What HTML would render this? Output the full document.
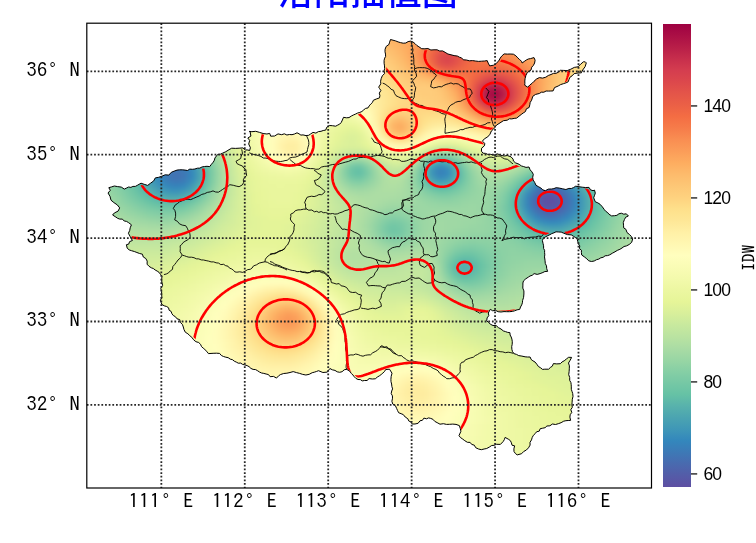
<!DOCTYPE html>
<html><head><meta charset="utf-8"><style>
html,body{margin:0;padding:0;background:#fff;width:756px;height:543px;overflow:hidden;position:relative}
#title{position:absolute;left:0;width:735.6px;text-align:center;top:-25.3px;font:36px "Liberation Sans","Noto Sans CJK SC",sans-serif;color:#0000ff;white-space:nowrap;line-height:1;font-weight:500}
#fld{position:absolute;left:96px;top:28px;width:550px;height:438px;clip-path:polygon(12.8px 159.7px,15.5px 158.9px,18.4px 158.0px,21.6px 158.6px,25.3px 159.1px,28.3px 161.1px,30.4px 160.1px,32.6px 159.0px,34.9px 159.4px,36.9px 158.4px,39.3px 158.4px,41.2px 157.4px,45.0px 155.2px,48.2px 156.3px,51.7px 157.4px,54.4px 155.3px,57.7px 152.9px,59.3px 149.9px,62.7px 149.3px,65.9px 148.2px,69.2px 146.8px,72.8px 147.1px,75.3px 144.3px,78.0px 143.2px,81.0px 142.1px,83.7px 141.8px,86.3px 141.8px,89.0px 142.1px,91.5px 142.5px,93.8px 141.1px,96.4px 141.3px,98.9px 141.0px,101.3px 140.2px,103.8px 140.1px,106.1px 138.9px,108.5px 138.5px,111.0px 138.3px,113.7px 138.6px,115.4px 136.3px,117.2px 134.2px,118.4px 132.2px,118.9px 130.0px,121.7px 126.4px,124.3px 126.2px,126.5px 125.2px,129.8px 123.7px,133.0px 121.7px,135.7px 120.2px,139.4px 120.4px,143.1px 120.2px,146.9px 119.9px,149.2px 121.9px,151.9px 122.0px,153.6px 122.6px,154.4px 119.7px,152.7px 116.0px,153.7px 112.4px,151.8px 110.0px,154.9px 108.1px,154.1px 103.8px,153.3px 103.4px,155.9px 103.7px,159.7px 103.3px,163.3px 104.3px,167.1px 105.5px,170.9px 106.0px,173.7px 105.4px,174.7px 108.2px,178.6px 108.0px,182.0px 105.9px,185.7px 106.7px,188.3px 105.8px,190.9px 107.0px,193.4px 106.5px,196.0px 106.7px,198.5px 106.0px,201.0px 104.8px,203.0px 105.8px,204.9px 107.1px,207.0px 106.9px,210.0px 107.6px,212.7px 107.3px,214.7px 105.9px,217.0px 104.4px,219.9px 105.1px,222.4px 103.6px,225.0px 103.3px,227.2px 102.5px,229.7px 102.1px,230.8px 99.2px,233.3px 97.5px,236.4px 97.7px,239.7px 98.2px,241.7px 97.1px,243.7px 96.1px,245.2px 94.5px,246.4px 92.0px,247.5px 89.3px,250.3px 89.8px,253.0px 89.6px,255.4px 88.0px,257.4px 87.0px,259.5px 86.1px,261.5px 85.1px,263.8px 84.4px,265.9px 83.5px,267.7px 81.9px,269.6px 80.4px,272.0px 79.9px,273.2px 77.9px,274.7px 76.1px,276.5px 74.4px,277.3px 72.3px,280.3px 71.0px,283.5px 69.9px,283.9px 67.6px,283.3px 65.1px,284.9px 62.5px,283.6px 60.6px,282.7px 59.1px,284.8px 55.8px,284.6px 53.2px,285.2px 50.6px,286.3px 47.8px,288.5px 45.6px,288.1px 42.9px,288.6px 40.6px,288.5px 37.9px,288.1px 35.2px,288.1px 32.3px,288.7px 30.1px,289.6px 28.5px,289.5px 26.1px,289.0px 23.8px,289.1px 21.2px,290.2px 18.4px,292.9px 16.5px,293.6px 14.2px,294.5px 11.5px,297.0px 12.2px,299.6px 12.9px,302.1px 13.9px,304.4px 14.6px,307.2px 15.2px,309.8px 15.0px,312.1px 13.6px,314.7px 13.1px,317.1px 14.1px,319.1px 15.7px,320.9px 17.5px,322.9px 18.8px,325.7px 20.7px,328.9px 20.8px,331.9px 20.5px,334.9px 22.0px,338.0px 21.8px,341.1px 21.8px,343.7px 23.0px,346.6px 22.9px,349.1px 24.3px,351.9px 26.0px,355.0px 26.8px,358.1px 27.6px,361.5px 28.1px,363.4px 29.2px,365.6px 29.9px,367.3px 31.8px,370.4px 32.0px,373.4px 32.8px,376.5px 32.6px,379.4px 33.0px,382.6px 33.4px,385.6px 33.2px,388.6px 33.0px,391.2px 32.6px,392.2px 35.1px,393.7px 37.9px,397.5px 37.2px,399.9px 35.8px,401.7px 33.9px,403.2px 32.1px,404.2px 30.1px,405.7px 28.1px,408.1px 25.9px,411.3px 26.1px,414.1px 26.0px,417.4px 26.2px,419.9px 27.8px,421.8px 29.9px,423.7px 31.7px,425.6px 33.3px,426.1px 35.0px,428.2px 33.5px,430.3px 32.0px,432.3px 31.0px,434.5px 30.6px,438.0px 29.6px,439.1px 32.2px,438.6px 35.0px,437.4px 37.4px,435.7px 39.2px,435.0px 42.0px,431.3px 44.5px,429.9px 47.4px,429.1px 50.6px,428.8px 53.0px,428.9px 55.4px,428.7px 57.2px,431.7px 59.2px,433.8px 57.0px,436.2px 55.2px,438.0px 53.3px,440.4px 51.1px,443.3px 49.6px,446.6px 50.1px,449.8px 49.2px,452.3px 47.5px,455.0px 46.5px,457.4px 45.4px,460.1px 45.3px,462.4px 44.2px,464.4px 42.3px,467.3px 42.4px,471.2px 42.6px,474.8px 41.2px,478.3px 39.4px,482.1px 38.8px,484.5px 36.3px,487.4px 33.8px,489.3px 33.9px,490.3px 34.9px,489.1px 38.7px,486.7px 42.0px,485.4px 44.8px,482.0px 45.0px,478.2px 45.6px,476.0px 47.9px,473.8px 49.4px,473.0px 51.5px,472.2px 53.8px,470.1px 54.8px,467.4px 55.7px,464.6px 56.6px,462.2px 58.0px,458.5px 59.6px,457.1px 62.9px,454.8px 63.0px,452.5px 63.1px,450.1px 63.0px,447.9px 64.2px,445.4px 64.2px,443.3px 65.5px,439.6px 66.4px,436.8px 68.3px,435.6px 72.2px,434.2px 74.4px,433.8px 76.8px,433.1px 79.5px,430.4px 80.8px,429.4px 83.6px,427.2px 85.0px,425.2px 86.5px,423.0px 88.2px,420.7px 90.1px,418.2px 90.4px,415.8px 90.9px,413.3px 90.8px,411.2px 92.2px,407.4px 92.7px,404.0px 94.9px,400.5px 97.1px,398.7px 99.7px,397.2px 101.4px,395.4px 102.9px,394.0px 106.2px,391.7px 108.9px,388.4px 110.8px,386.4px 113.2px,388.9px 115.5px,388.3px 117.9px,385.6px 120.2px,385.4px 123.2px,387.1px 125.2px,389.5px 125.4px,391.8px 126.4px,394.3px 126.3px,396.7px 126.9px,399.0px 127.0px,401.4px 125.9px,403.8px 126.7px,406.0px 127.6px,408.5px 128.0px,411.2px 127.5px,415.0px 128.8px,417.1px 131.1px,417.4px 133.0px,419.6px 134.9px,423.2px 136.3px,425.3px 137.9px,427.7px 138.6px,430.0px 139.4px,433.0px 139.0px,434.1px 141.8px,435.9px 143.8px,437.3px 146.3px,436.7px 149.3px,437.1px 152.0px,438.6px 154.3px,440.0px 157.3px,442.8px 158.9px,444.9px 160.0px,446.7px 161.8px,449.3px 162.7px,452.4px 161.1px,455.7px 161.0px,457.9px 160.6px,460.1px 159.7px,463.4px 160.1px,466.6px 160.8px,469.9px 161.5px,472.9px 160.4px,475.3px 160.5px,477.5px 159.6px,479.7px 158.2px,483.0px 158.7px,486.2px 159.2px,489.4px 159.5px,493.0px 159.4px,494.5px 161.8px,497.0px 162.7px,498.5px 162.1px,499.3px 165.1px,498.4px 167.8px,497.7px 169.8px,499.3px 173.8px,501.9px 174.9px,504.1px 176.3px,506.3px 178.8px,508.2px 181.4px,509.6px 183.2px,511.7px 184.6px,512.9px 186.2px,515.6px 187.9px,518.6px 187.7px,520.9px 187.3px,522.9px 185.8px,525.3px 185.2px,527.8px 186.2px,530.3px 185.8px,532.4px 188.0px,529.7px 189.2px,528.4px 191.6px,527.3px 194.5px,527.5px 197.2px,527.7px 199.9px,529.9px 201.3px,531.0px 204.5px,533.6px 206.6px,535.4px 208.5px,536.7px 210.8px,535.7px 214.3px,533.2px 216.5px,530.5px 217.9px,528.0px 218.5px,526.0px 220.0px,523.9px 221.3px,521.3px 222.4px,519.0px 223.8px,516.4px 225.2px,513.8px 226.8px,511.6px 227.6px,509.1px 227.8px,507.1px 229.3px,504.8px 229.8px,502.8px 231.1px,500.5px 231.7px,498.2px 233.0px,495.4px 233.5px,492.7px 232.8px,490.8px 230.8px,488.4px 228.9px,485.7px 227.0px,485.4px 224.6px,485.4px 222.2px,483.4px 220.5px,483.8px 217.9px,482.4px 215.9px,481.8px 213.7px,481.2px 211.3px,479.6px 209.6px,477.5px 208.3px,475.3px 206.9px,471.4px 206.6px,467.7px 205.2px,465.2px 204.1px,462.7px 204.0px,460.0px 203.8px,458.0px 204.8px,455.8px 205.6px,453.9px 206.7px,451.7px 207.7px,449.8px 208.7px,447.3px 210.3px,446.4px 212.6px,447.0px 215.3px,447.6px 217.8px,447.6px 220.5px,448.6px 222.3px,448.6px 224.6px,448.8px 226.9px,448.5px 228.9px,449.0px 232.2px,449.3px 235.5px,450.5px 237.9px,450.7px 240.5px,451.6px 243.4px,448.9px 243.5px,446.9px 244.5px,444.1px 245.6px,441.2px 246.4px,438.1px 245.6px,436.2px 247.3px,434.0px 248.0px,432.4px 249.1px,429.8px 250.8px,427.5px 252.9px,426.9px 255.0px,426.9px 257.1px,426.8px 260.1px,427.9px 262.9px,427.9px 266.0px,427.6px 269.3px,426.6px 272.5px,426.4px 274.8px,425.7px 276.9px,424.5px 279.0px,423.7px 281.4px,421.1px 281.8px,418.7px 282.8px,416.4px 283.4px,413.6px 283.7px,410.7px 283.7px,408.0px 283.6px,405.0px 284.0px,402.1px 283.7px,399.4px 282.3px,396.7px 282.8px,394.3px 281.3px,392.3px 285.0px,392.8px 287.6px,391.1px 289.9px,390.7px 292.9px,392.7px 294.3px,394.3px 296.2px,397.0px 297.5px,400.2px 297.6px,402.4px 299.6px,405.0px 301.0px,407.3px 302.9px,409.5px 303.6px,411.7px 304.4px,413.9px 304.6px,414.1px 307.0px,415.2px 309.0px,415.9px 311.1px,416.3px 313.7px,416.2px 316.3px,415.7px 318.6px,415.9px 321.4px,416.5px 323.6px,418.1px 325.7px,420.5px 326.4px,422.7px 327.6px,425.9px 328.1px,429.1px 328.8px,431.4px 329.0px,434.1px 329.0px,435.1px 331.4px,436.9px 332.8px,439.0px 334.0px,440.8px 336.2px,442.4px 338.5px,444.6px 339.8px,446.5px 341.4px,448.8px 341.2px,452.6px 341.2px,454.3px 339.5px,456.3px 338.2px,457.4px 335.6px,460.8px 335.9px,464.3px 335.7px,466.1px 333.9px,468.2px 332.8px,470.5px 330.9px,472.6px 329.3px,475.6px 329.4px,474.2px 332.2px,472.5px 335.0px,473.4px 337.9px,473.3px 340.8px,473.1px 343.7px,472.7px 346.6px,473.7px 349.5px,473.7px 352.4px,474.9px 354.5px,475.2px 356.7px,475.3px 358.9px,475.3px 361.3px,476.0px 363.4px,476.7px 365.5px,477.0px 368.4px,476.3px 371.3px,476.1px 374.2px,475.9px 376.7px,476.3px 379.3px,474.8px 381.7px,475.8px 384.4px,474.2px 386.7px,473.9px 389.1px,474.6px 392.4px,472.2px 392.5px,469.9px 392.7px,467.7px 393.2px,465.1px 394.7px,462.3px 395.7px,459.5px 396.5px,456.4px 396.0px,453.9px 397.8px,450.9px 398.0px,449.1px 399.7px,446.7px 400.2px,444.2px 400.7px,443.2px 403.2px,440.7px 403.7px,439.3px 405.5px,437.4px 407.3px,436.2px 409.5px,435.5px 411.9px,434.0px 414.3px,434.1px 417.1px,432.5px 419.8px,430.4px 422.0px,427.7px 423.5px,425.6px 425.7px,421.2px 426.9px,419.4px 425.5px,418.0px 423.5px,417.9px 420.9px,418.6px 417.8px,416.0px 417.2px,415.4px 414.8px,414.4px 412.7px,412.7px 411.4px,409.1px 409.4px,408.3px 411.7px,407.2px 413.5px,404.4px 416.4px,400.3px 416.3px,398.2px 417.3px,395.7px 417.5px,393.3px 419.1px,390.7px 420.5px,388.1px 421.0px,385.3px 421.7px,382.5px 421.0px,379.7px 419.7px,378.3px 417.2px,375.7px 416.4px,374.1px 414.4px,371.4px 414.3px,368.8px 412.7px,366.3px 410.8px,364.4px 409.5px,363.0px 407.6px,364.9px 403.3px,364.3px 400.6px,363.4px 397.6px,360.0px 396.4px,356.8px 396.1px,353.7px 396.3px,350.5px 396.4px,347.4px 395.7px,344.0px 396.2px,341.1px 394.6px,338.8px 393.4px,336.9px 391.3px,334.7px 390.4px,332.6px 389.9px,330.5px 390.8px,327.9px 390.1px,326.4px 392.3px,324.0px 392.8px,322.1px 395.3px,319.0px 396.0px,316.1px 396.0px,315.0px 394.0px,312.7px 392.9px,311.8px 390.7px,309.2px 389.0px,307.3px 386.6px,305.1px 385.7px,302.6px 384.7px,301.6px 382.6px,300.7px 380.6px,299.4px 377.7px,296.8px 376.1px,295.9px 373.3px,296.5px 370.2px,296.4px 367.8px,295.2px 365.6px,295.7px 363.0px,296.6px 360.9px,295.9px 358.6px,295.6px 356.0px,295.0px 353.7px,294.9px 351.3px,295.2px 348.3px,296.0px 345.2px,293.5px 341.2px,289.7px 341.5px,288.5px 343.5px,286.9px 345.0px,285.2px 346.5px,283.3px 347.9px,281.3px 349.1px,279.3px 350.8px,276.3px 351.0px,273.1px 350.6px,271.0px 352.5px,268.5px 352.5px,266.2px 352.9px,264.4px 351.6px,262.0px 351.5px,259.9px 350.4px,258.3px 348.8px,256.9px 347.0px,255.3px 345.4px,253.5px 343.0px,250.6px 341.3px,248.2px 341.8px,246.1px 343.7px,243.7px 344.3px,241.2px 343.8px,239.0px 342.4px,236.3px 341.8px,233.9px 340.5px,231.3px 344.1px,226.9px 344.5px,222.5px 342.7px,220.4px 343.5px,218.3px 344.2px,216.2px 344.7px,213.2px 346.3px,209.9px 347.0px,206.7px 346.4px,203.6px 345.4px,200.5px 344.6px,197.2px 343.6px,194.0px 344.5px,190.9px 345.2px,187.7px 345.5px,184.6px 346.5px,182.6px 347.8px,180.5px 350.1px,177.5px 348.4px,174.1px 348.7px,172.5px 346.6px,170.1px 346.0px,167.8px 345.4px,165.6px 345.0px,163.6px 344.1px,161.7px 342.8px,159.6px 341.6px,157.1px 341.4px,154.9px 340.4px,153.1px 338.7px,151.1px 337.6px,148.8px 336.9px,146.6px 336.4px,144.7px 335.1px,142.3px 335.2px,140.3px 334.1px,138.3px 333.2px,136.5px 331.7px,134.2px 331.1px,132.2px 329.7px,129.8px 329.2px,127.5px 328.5px,125.4px 327.5px,123.6px 325.4px,120.4px 325.2px,117.1px 325.3px,112.4px 325.6px,110.8px 323.4px,108.9px 321.6px,107.2px 320.1px,105.5px 318.6px,104.6px 316.4px,102.7px 314.5px,99.9px 313.7px,97.6px 311.8px,95.8px 309.3px,93.8px 307.7px,91.9px 305.8px,89.3px 304.2px,88.0px 301.6px,87.3px 299.0px,86.4px 296.4px,84.5px 294.6px,83.7px 291.6px,81.0px 290.8px,79.4px 288.7px,77.3px 287.5px,75.9px 285.7px,75.1px 283.4px,73.1px 282.2px,72.6px 279.8px,70.6px 278.5px,68.2px 277.8px,65.9px 276.5px,65.1px 274.3px,64.4px 272.2px,65.9px 269.7px,65.7px 266.9px,65.6px 263.7px,64.8px 260.4px,66.6px 257.4px,65.8px 254.0px,65.7px 250.8px,66.0px 248.2px,64.5px 246.4px,63.1px 244.4px,61.2px 243.1px,59.2px 242.0px,57.3px 240.5px,55.3px 239.8px,53.0px 238.3px,51.1px 236.2px,51.2px 233.1px,49.8px 230.5px,47.3px 229.0px,46.4px 226.2px,43.6px 225.5px,40.9px 224.5px,38.3px 223.5px,35.5px 222.7px,33.2px 221.9px,31.2px 220.2px,30.4px 216.7px,32.7px 216.1px,33.6px 213.6px,36.4px 212.5px,34.3px 208.8px,32.4px 205.3px,33.7px 202.5px,34.2px 199.8px,35.4px 196.8px,32.5px 194.6px,30.5px 193.4px,28.2px 193.0px,26.4px 191.1px,23.8px 191.1px,21.6px 190.3px,19.9px 189.1px,16.6px 187.0px,18.3px 185.0px,22.1px 183.1px,23.7px 179.9px,21.3px 176.9px,17.9px 174.6px,15.0px 172.2px,14.0px 168.3px,12.0px 165.0px,14.3px 162.3px)}
#fin{position:absolute;left:0;top:0;width:100%;height:100%;filter:blur(2px)}
#fin i{position:absolute;left:0;width:100%;height:5px;display:block}
svg{position:absolute;left:0;top:0}
.tk{position:absolute;font:20.5px "IPAGothic",sans-serif;letter-spacing:0.35px;color:#000;line-height:1;white-space:nowrap}
.cbl{position:absolute;font:17.5px "Liberation Sans",sans-serif;letter-spacing:-0.8px;color:#000;line-height:1;white-space:nowrap}
#cb{position:absolute;left:662.9px;top:23.6px;width:27.800000000000068px;height:463.2px;background:linear-gradient(180deg,#9e0142 0.0%,#ab0f45 2.5%,#b81e48 5.0%,#c72e4c 7.5%,#d43d4f 10.0%,#dc484c 12.5%,#e45549 15.0%,#eb6046 17.5%,#f46d43 20.0%,#f67c4a 22.5%,#f98e52 25.0%,#fb9d59 27.5%,#fdad60 30.0%,#fdbb6c 32.5%,#fdc776 35.0%,#fed27f 37.5%,#fee08b 40.0%,#fee797 42.5%,#fff0a6 45.0%,#fff7b2 47.5%,#fffebe 50.0%,#f9fcb5 52.5%,#f3faac 55.0%,#ecf7a1 57.5%,#e6f598 60.0%,#d8ef9b 62.5%,#c8e99e 65.0%,#bae3a1 67.5%,#aadca4 70.0%,#99d6a4 72.5%,#86cfa5 75.0%,#76c8a5 77.5%,#66c2a5 80.0%,#58b2ac 82.5%,#4ba4b1 85.0%,#3f97b7 87.5%,#3387bc 90.0%,#3d79b6 92.5%,#496aaf 95.0%,#545ca8 97.5%,#5e4fa2 100.0%)}
#idw{position:absolute;left:739.6px;top:271px;font:17.5px "IPAGothic",sans-serif;transform:rotate(-90deg);transform-origin:0 0;line-height:1;white-space:nowrap}
</style></head><body>
<div id="title">洛阳插值图</div>
<div id="fld"><div id="fin"><i style="top:0px;background:linear-gradient(90deg,#ebf7a0 0px,#ebf7a0 8px,#ecf7a1 16px,#ecf7a1 24px,#ecf7a1 32px,#edf8a3 40px,#eef8a4 48px,#eef8a4 56px,#eff9a6 64px,#f0f9a7 72px,#f1f9a9 80px,#f2faaa 88px,#f3faac 96px,#f4faad 104px,#f5fbaf 112px,#f6fbb0 120px,#f8fcb4 128px,#f9fcb5 136px,#fbfdb8 144px,#fcfeba 152px,#fefebd 160px,#fffebe 168px,#fffcba 176px,#fffab6 184px,#fff7b2 192px,#fff5ae 200px,#fff1a8 208px,#feeda1 216px,#feea9b 224px,#fee593 232px,#fee18d 240px,#fed884 248px,#fed07e 256px,#fdc776 264px,#fdbd6d 272px,#fdb365 280px,#fcaa5f 288px,#fca55d 296px,#fca55d 304px,#fca55d 312px,#fca55d 320px,#fba05b 328px,#fa9b58 336px,#f99355 344px,#f98e52 352px,#f98e52 360px,#f99153 368px,#fa9656 376px,#fb9d59 384px,#fba35c 392px,#fca85e 400px,#fdaf62 408px,#fdb365 416px,#fdb96a 424px,#fdbd6d 432px,#fdc372 440px,#fec877 448px,#fecc7b 456px,#fed27f 464px,#fed884 472px,#fede89 480px,#fee18d 488px,#fee593 496px,#fee797 504px,#feea9b 512px,#feec9f 520px,#feefa3 528px,#fff1a8 536px,#fff3ac 544px,#fff5ae 552px)"></i><i style="top:4px;background:linear-gradient(90deg,#eaf79e 0px,#ebf7a0 8px,#ebf7a0 16px,#ebf7a0 24px,#ecf7a1 32px,#ecf7a1 40px,#edf8a3 48px,#eef8a4 56px,#eef8a4 64px,#eff9a6 72px,#f0f9a7 80px,#f1f9a9 88px,#f2faaa 96px,#f3faac 104px,#f5fbaf 112px,#f6fbb0 120px,#f7fcb2 128px,#f9fcb5 136px,#fafdb7 144px,#fcfeba 152px,#fdfebb 160px,#ffffbe 168px,#fffdbc 176px,#fffbb8 184px,#fff8b4 192px,#fff6b0 200px,#fff2aa 208px,#feefa3 216px,#feeb9d 224px,#fee797 232px,#fee28f 240px,#fedc88 248px,#fed27f 256px,#fec877 264px,#fdbf6f 272px,#fdb768 280px,#fdaf62 288px,#fcaa5f 296px,#fca85e 304px,#fca85e 312px,#fca55d 320px,#fb9d59 328px,#f99355 336px,#f88950 344px,#f7844e 352px,#f7844e 360px,#f88950 368px,#f99153 376px,#fa9656 384px,#fb9d59 392px,#fba35c 400px,#fcaa5f 408px,#fdaf62 416px,#fdb567 424px,#fdbb6c 432px,#fdc171 440px,#fdc574 448px,#feca79 456px,#fed07e 464px,#fed683 472px,#fedc88 480px,#fee18d 488px,#fee593 496px,#fee797 504px,#feea9b 512px,#feec9f 520px,#feefa3 528px,#fff1a8 536px,#fff3ac 544px,#fff6b0 552px)"></i><i style="top:8px;background:linear-gradient(90deg,#eaf79e 0px,#eaf79e 8px,#eaf79e 16px,#ebf7a0 24px,#ebf7a0 32px,#ecf7a1 40px,#ecf7a1 48px,#edf8a3 56px,#eef8a4 64px,#eef8a4 72px,#eff9a6 80px,#f0f9a7 88px,#f1f9a9 96px,#f3faac 104px,#f4faad 112px,#f5fbaf 120px,#f6fbb0 128px,#f8fcb4 136px,#f9fcb5 144px,#fbfdb8 152px,#fdfebb 160px,#fefebd 168px,#fffebe 176px,#fffcba 184px,#fffab6 192px,#fff6b0 200px,#fff3ac 208px,#fff0a6 216px,#feec9f 224px,#fee999 232px,#fee491 240px,#fede89 248px,#fed683 256px,#fecc7b 264px,#fdc574 272px,#fdbb6c 280px,#fdb567 288px,#fdb163 296px,#fdad60 304px,#fcaa5f 312px,#fba35c 320px,#fa9857 328px,#f88950 336px,#f67f4b 344px,#f57748 352px,#f67a49 360px,#f67f4b 368px,#f88950 376px,#f99153 384px,#fa9857 392px,#fb9d59 400px,#fca55d 408px,#fdad60 416px,#fdb163 424px,#fdb768 432px,#fdbd6d 440px,#fdc372 448px,#feca79 456px,#fed07e 464px,#fed683 472px,#fedc88 480px,#fee18d 488px,#fee491 496px,#fee797 504px,#feea9b 512px,#feeda1 520px,#fff0a6 528px,#fff2aa 536px,#fff3ac 544px,#fff6b0 552px)"></i><i style="top:12px;background:linear-gradient(90deg,#e9f69d 0px,#e9f69d 8px,#e9f69d 16px,#eaf79e 24px,#eaf79e 32px,#ebf7a0 40px,#ebf7a0 48px,#ecf7a1 56px,#edf8a3 64px,#eef8a4 72px,#eff9a6 80px,#f0f9a7 88px,#f1f9a9 96px,#f2faaa 104px,#f3faac 112px,#f4faad 120px,#f6fbb0 128px,#f7fcb2 136px,#f9fcb5 144px,#fafdb7 152px,#fcfeba 160px,#fefebd 168px,#ffffbe 176px,#fffdbc 184px,#fffbb8 192px,#fff7b2 200px,#fff5ae 208px,#fff1a8 216px,#feeda1 224px,#feea9b 232px,#fee695 240px,#fee18d 248px,#feda86 256px,#fed07e 264px,#fec877 272px,#fdc171 280px,#fdbb6c 288px,#fdb567 296px,#fdb163 304px,#fcaa5f 312px,#fba05b 320px,#f99153 328px,#f67f4b 336px,#f47044 344px,#f36b43 352px,#f46d43 360px,#f57547 368px,#f7814c 376px,#f88c51 384px,#f99355 392px,#fa9857 400px,#fba05b 408px,#fca85e 416px,#fdaf62 424px,#fdb567 432px,#fdbb6c 440px,#fdc171 448px,#fec877 456px,#fece7c 464px,#fed481 472px,#fedc88 480px,#fee18d 488px,#fee593 496px,#fee797 504px,#feeb9d 512px,#feeda1 520px,#fff0a6 528px,#fff2aa 536px,#fff5ae 544px,#fff7b2 552px)"></i><i style="top:16px;background:linear-gradient(90deg,#e8f69b 0px,#e8f69b 8px,#e9f69d 16px,#e9f69d 24px,#e9f69d 32px,#eaf79e 40px,#eaf79e 48px,#ebf7a0 56px,#ecf7a1 64px,#edf8a3 72px,#eef8a4 80px,#eff9a6 88px,#f0f9a7 96px,#f1f9a9 104px,#f2faaa 112px,#f4faad 120px,#f5fbaf 128px,#f7fcb2 136px,#f8fcb4 144px,#fafdb7 152px,#fbfdb8 160px,#fdfebb 168px,#ffffbe 176px,#fffebe 184px,#fffcba 192px,#fff8b4 200px,#fff6b0 208px,#fff2aa 216px,#fff0a6 224px,#feec9f 232px,#fee797 240px,#fee28f 248px,#fedc88 256px,#fed481 264px,#fecc7b 272px,#fdc574 280px,#fdbf6f 288px,#fdb96a 296px,#fdb365 304px,#fcaa5f 312px,#fb9d59 320px,#f88950 328px,#f57547 336px,#ef6645 344px,#eb6046 352px,#ee6445 360px,#f46d43 368px,#f67a49 376px,#f7844e 384px,#f98e52 392px,#f99355 400px,#fa9b58 408px,#fba35c 416px,#fcaa5f 424px,#fdb163 432px,#fdb768 440px,#fdbf6f 448px,#fdc776 456px,#fece7c 464px,#fed481 472px,#feda86 480px,#fee18d 488px,#fee593 496px,#fee797 504px,#feeb9d 512px,#feeda1 520px,#fff0a6 528px,#fff2aa 536px,#fff5ae 544px,#fff7b2 552px)"></i><i style="top:20px;background:linear-gradient(90deg,#e8f69b 0px,#e8f69b 8px,#e8f69b 16px,#e8f69b 24px,#e9f69d 32px,#e9f69d 40px,#eaf79e 48px,#eaf79e 56px,#ebf7a0 64px,#ecf7a1 72px,#edf8a3 80px,#eef8a4 88px,#eff9a6 96px,#f0f9a7 104px,#f2faaa 112px,#f3faac 120px,#f4faad 128px,#f6fbb0 136px,#f7fcb2 144px,#f9fcb5 152px,#fafdb7 160px,#fcfeba 168px,#fefebd 176px,#fffebe 184px,#fffcba 192px,#fffab6 200px,#fff7b2 208px,#fff5ae 216px,#fff1a8 224px,#feeda1 232px,#feea9b 240px,#fee593 248px,#fee08b 256px,#feda86 264px,#fed27f 272px,#feca79 280px,#fdc372 288px,#fdbd6d 296px,#fdb567 304px,#fdad60 312px,#fa9b58 320px,#f7844e 328px,#f36b43 336px,#e85b48 344px,#e45549 352px,#e85b48 360px,#ef6645 368px,#f57547 376px,#f67f4b 384px,#f88950 392px,#f98e52 400px,#fa9656 408px,#fa9b58 416px,#fba35c 424px,#fdad60 432px,#fdb567 440px,#fdbd6d 448px,#fdc574 456px,#fecc7b 464px,#fed481 472px,#feda86 480px,#fee18d 488px,#fee593 496px,#fee999 504px,#feeb9d 512px,#feefa3 520px,#fff1a8 528px,#fff3ac 536px,#fff6b0 544px,#fff8b4 552px)"></i><i style="top:24px;background:linear-gradient(90deg,#e7f59a 0px,#e7f59a 8px,#e7f59a 16px,#e7f59a 24px,#e8f69b 32px,#e8f69b 40px,#e9f69d 48px,#e9f69d 56px,#eaf79e 64px,#ebf7a0 72px,#ecf7a1 80px,#edf8a3 88px,#eef8a4 96px,#eff9a6 104px,#f1f9a9 112px,#f2faaa 120px,#f4faad 128px,#f5fbaf 136px,#f7fcb2 144px,#f8fcb4 152px,#fafdb7 160px,#fbfdb8 168px,#fdfebb 176px,#ffffbe 184px,#fffdbc 192px,#fffbb8 200px,#fff8b4 208px,#fff6b0 216px,#fff2aa 224px,#feefa3 232px,#feeb9d 240px,#fee797 248px,#fee28f 256px,#fede89 264px,#fed683 272px,#fece7c 280px,#fec877 288px,#fdc171 296px,#fdb96a 304px,#fdad60 312px,#fa9b58 320px,#f7814c 328px,#ef6645 336px,#e2514a 344px,#dd4a4c 352px,#e3534a 360px,#ed6246 368px,#f47044 376px,#f67c4a 384px,#f7844e 392px,#f88950 400px,#f98e52 408px,#fa9656 416px,#fb9d59 424px,#fca85e 432px,#fdb163 440px,#fdbb6c 448px,#fdc372 456px,#feca79 464px,#fed27f 472px,#feda86 480px,#fee18d 488px,#fee593 496px,#fee999 504px,#feec9f 512px,#feefa3 520px,#fff1a8 528px,#fff5ae 536px,#fff6b0 544px,#fff8b4 552px)"></i><i style="top:28px;background:linear-gradient(90deg,#e6f598 0px,#e6f598 8px,#e6f598 16px,#e6f598 24px,#e7f59a 32px,#e7f59a 40px,#e8f69b 48px,#e8f69b 56px,#e9f69d 64px,#eaf79e 72px,#ebf7a0 80px,#ecf7a1 88px,#edf8a3 96px,#eff9a6 104px,#f0f9a7 112px,#f1f9a9 120px,#f3faac 128px,#f4faad 136px,#f6fbb0 144px,#f7fcb2 152px,#f9fcb5 160px,#fafdb7 168px,#fcfeba 176px,#fefebd 184px,#fffebe 192px,#fffdbc 200px,#fffab6 208px,#fff7b2 216px,#fff5ae 224px,#fff1a8 232px,#feeda1 240px,#feea9b 248px,#fee593 256px,#fee18d 264px,#feda86 272px,#fed27f 280px,#fecc7b 288px,#fdc574 296px,#fdbb6c 304px,#fdb163 312px,#fb9d59 320px,#f7814c 328px,#ee6445 336px,#de4c4b 344px,#d9444d 352px,#e1504b 360px,#eb6046 368px,#f46d43 376px,#f57748 384px,#f67c4a 392px,#f7814c 400px,#f8864f 408px,#f98e52 416px,#fa9656 424px,#fba35c 432px,#fdaf62 440px,#fdb96a 448px,#fdc171 456px,#feca79 464px,#fed27f 472px,#feda86 480px,#fee18d 488px,#fee593 496px,#fee999 504px,#feec9f 512px,#fff0a6 520px,#fff2aa 528px,#fff5ae 536px,#fff7b2 544px,#fffab6 552px)"></i><i style="top:32px;background:linear-gradient(90deg,#e4f498 0px,#e4f498 8px,#e4f498 16px,#e4f498 24px,#e6f598 32px,#e6f598 40px,#e7f59a 48px,#e7f59a 56px,#e8f69b 64px,#e9f69d 72px,#eaf79e 80px,#ebf7a0 88px,#ecf7a1 96px,#eef8a4 104px,#eff9a6 112px,#f1f9a9 120px,#f2faaa 128px,#f4faad 136px,#f5fbaf 144px,#f7fcb2 152px,#f8fcb4 160px,#fafdb7 168px,#fbfdb8 176px,#fdfebb 184px,#ffffbe 192px,#fffebe 200px,#fffcba 208px,#fffab6 216px,#fff6b0 224px,#fff3ac 232px,#fff0a6 240px,#feec9f 248px,#fee797 256px,#fee491 264px,#fede89 272px,#fed683 280px,#fed07e 288px,#fec877 296px,#fdbf6f 304px,#fdb365 312px,#fba35c 320px,#f8864f 328px,#ef6645 336px,#df4e4b 344px,#da464d 352px,#e2514a 360px,#eb6046 368px,#f46d43 376px,#f57547 384px,#f57748 392px,#f57748 400px,#f67c4a 408px,#f7844e 416px,#f99153 424px,#fb9d59 432px,#fcaa5f 440px,#fdb567 448px,#fdc171 456px,#feca79 464px,#fed27f 472px,#feda86 480px,#fee18d 488px,#fee695 496px,#feea9b 504px,#feeda1 512px,#fff0a6 520px,#fff3ac 528px,#fff6b0 536px,#fff8b4 544px,#fffab6 552px)"></i><i style="top:36px;background:linear-gradient(90deg,#e1f399 0px,#e1f399 8px,#e1f399 16px,#e1f399 24px,#e4f498 32px,#e4f498 40px,#e6f598 48px,#e6f598 56px,#e7f59a 64px,#e8f69b 72px,#e9f69d 80px,#eaf79e 88px,#ebf7a0 96px,#edf8a3 104px,#eef8a4 112px,#f0f9a7 120px,#f1f9a9 128px,#f3faac 136px,#f4faad 144px,#f6fbb0 152px,#f7fcb2 160px,#f9fcb5 168px,#fafdb7 176px,#fcfeba 184px,#fefebd 192px,#ffffbe 200px,#fffdbc 208px,#fffbb8 216px,#fff8b4 224px,#fff5ae 232px,#fff1a8 240px,#feefa3 248px,#feea9b 256px,#fee695 264px,#fee18d 272px,#feda86 280px,#fed481 288px,#feca79 296px,#fdc372 304px,#fdb768 312px,#fcaa5f 320px,#f99153 328px,#f47044 336px,#e55749 344px,#e1504b 352px,#e75948 360px,#ef6645 368px,#f46d43 376px,#f47044 384px,#f46d43 392px,#f46d43 400px,#f57245 408px,#f67a49 416px,#f8864f 424px,#fa9656 432px,#fca55d 440px,#fdb365 448px,#fdbf6f 456px,#fec877 464px,#fed27f 472px,#fedc88 480px,#fee28f 488px,#fee695 496px,#feeb9d 504px,#feeda1 512px,#fff1a8 520px,#fff3ac 528px,#fff7b2 536px,#fff8b4 544px,#fffbb8 552px)"></i><i style="top:40px;background:linear-gradient(90deg,#dff299 0px,#dff299 8px,#dff299 16px,#dff299 24px,#e1f399 32px,#e1f399 40px,#e1f399 48px,#e4f498 56px,#e6f598 64px,#e7f59a 72px,#e8f69b 80px,#e9f69d 88px,#eaf79e 96px,#ecf7a1 104px,#edf8a3 112px,#eff9a6 120px,#f0f9a7 128px,#f2faaa 136px,#f4faad 144px,#f5fbaf 152px,#f7fcb2 160px,#f8fcb4 168px,#fafdb7 176px,#fbfdb8 184px,#fdfebb 192px,#fefebd 200px,#fffebe 208px,#fffcba 216px,#fffab6 224px,#fff7b2 232px,#fff3ac 240px,#fff0a6 248px,#feec9f 256px,#fee999 264px,#fee491 272px,#fede89 280px,#fed683 288px,#fece7c 296px,#fdc776 304px,#fdbd6d 312px,#fdb163 320px,#fba05b 328px,#f7844e 336px,#f26944 344px,#eb6046 352px,#ee6445 360px,#f36b43 368px,#f46d43 376px,#f36b43 384px,#ef6645 392px,#ee6445 400px,#ef6645 408px,#f47044 416px,#f67f4b 424px,#f98e52 432px,#fba05b 440px,#fdb163 448px,#fdbd6d 456px,#fec877 464px,#fed27f 472px,#fedc88 480px,#fee28f 488px,#fee797 496px,#feeb9d 504px,#feefa3 512px,#fff2aa 520px,#fff5ae 528px,#fff7b2 536px,#fffab6 544px,#fffcba 552px)"></i><i style="top:44px;background:linear-gradient(90deg,#ddf19a 0px,#ddf19a 8px,#ddf19a 16px,#ddf19a 24px,#ddf19a 32px,#dff299 40px,#dff299 48px,#e1f399 56px,#e4f498 64px,#e4f498 72px,#e7f59a 80px,#e8f69b 88px,#e9f69d 96px,#ebf7a0 104px,#ecf7a1 112px,#eef8a4 120px,#f0f9a7 128px,#f1f9a9 136px,#f3faac 144px,#f4faad 152px,#f6fbb0 160px,#f7fcb2 168px,#f9fcb5 176px,#fafdb7 184px,#fcfeba 192px,#fdfebb 200px,#ffffbe 208px,#fffdbc 216px,#fffcba 224px,#fff8b4 232px,#fff6b0 240px,#fff2aa 248px,#feefa3 256px,#feeb9d 264px,#fee695 272px,#fee18d 280px,#feda86 288px,#fed27f 296px,#feca79 304px,#fdc372 312px,#fdb96a 320px,#fdaf62 328px,#fb9d59 336px,#f7844e 344px,#f57547 352px,#f57245 360px,#f57245 368px,#f46d43 376px,#ee6445 384px,#e85b48 392px,#e55749 400px,#e85b48 408px,#ee6445 416px,#f57547 424px,#f88950 432px,#fb9d59 440px,#fdaf62 448px,#fdbd6d 456px,#fec877 464px,#fed481 472px,#fede89 480px,#fee491 488px,#fee999 496px,#feec9f 504px,#fff0a6 512px,#fff3ac 520px,#fff6b0 528px,#fff8b4 536px,#fffbb8 544px,#fffdbc 552px)"></i><i style="top:48px;background:linear-gradient(90deg,#daf09a 0px,#daf09a 8px,#daf09a 16px,#daf09a 24px,#daf09a 32px,#daf09a 40px,#ddf19a 48px,#ddf19a 56px,#dff299 64px,#e1f399 72px,#e4f498 80px,#e7f59a 88px,#e8f69b 96px,#eaf79e 104px,#ebf7a0 112px,#edf8a3 120px,#eff9a6 128px,#f0f9a7 136px,#f2faaa 144px,#f4faad 152px,#f5fbaf 160px,#f7fcb2 168px,#f8fcb4 176px,#fafdb7 184px,#fbfdb8 192px,#fcfeba 200px,#fefebd 208px,#ffffbe 216px,#fffdbc 224px,#fffbb8 232px,#fff8b4 240px,#fff5ae 248px,#fff1a8 256px,#feeda1 264px,#fee999 272px,#fee491 280px,#fede89 288px,#fed683 296px,#fece7c 304px,#fdc776 312px,#fdc171 320px,#fdbb6c 328px,#fdb365 336px,#fba35c 344px,#f98e52 352px,#f7844e 360px,#f67a49 368px,#f36b43 376px,#e85b48 384px,#de4c4b 392px,#da464d 400px,#de4c4b 408px,#e85b48 416px,#f36b43 424px,#f7814c 432px,#fa9857 440px,#fdaf62 448px,#fdbd6d 456px,#feca79 464px,#fed481 472px,#fede89 480px,#fee593 488px,#feea9b 496px,#feeda1 504px,#fff1a8 512px,#fff5ae 520px,#fff7b2 528px,#fffab6 536px,#fffcba 544px,#fffebe 552px)"></i><i style="top:52px;background:linear-gradient(90deg,#d8ef9b 0px,#d8ef9b 8px,#d8ef9b 16px,#d8ef9b 24px,#d8ef9b 32px,#d8ef9b 40px,#d8ef9b 48px,#daf09a 56px,#ddf19a 64px,#dff299 72px,#e1f399 80px,#e4f498 88px,#e7f59a 96px,#e8f69b 104px,#eaf79e 112px,#ecf7a1 120px,#eef8a4 128px,#f0f9a7 136px,#f1f9a9 144px,#f3faac 152px,#f5fbaf 160px,#f6fbb0 168px,#f8fcb4 176px,#f9fcb5 184px,#fafdb7 192px,#fbfdb8 200px,#fdfebb 208px,#fefebd 216px,#fffebe 224px,#fffdbc 232px,#fffbb8 240px,#fff7b2 248px,#fff3ac 256px,#fff0a6 264px,#feeb9d 272px,#fee695 280px,#fee18d 288px,#fed884 296px,#fed07e 304px,#feca79 312px,#fdc776 320px,#fdc574 328px,#fdc171 336px,#fdb567 344px,#fba35c 352px,#f99355 360px,#f7814c 368px,#f06744 376px,#e2514a 384px,#d43d4f 392px,#cb334d 400px,#d63f4f 408px,#e1504b 416px,#ee6445 424px,#f67c4a 432px,#fa9656 440px,#fdad60 448px,#fdbd6d 456px,#feca79 464px,#fed683 472px,#fee08b 480px,#fee695 488px,#feeb9d 496px,#feefa3 504px,#fff2aa 512px,#fff6b0 520px,#fff8b4 528px,#fffbb8 536px,#fffdbc 544px,#ffffbe 552px)"></i><i style="top:56px;background:linear-gradient(90deg,#d6ee9b 0px,#d6ee9b 8px,#d6ee9b 16px,#d6ee9b 24px,#d6ee9b 32px,#d6ee9b 40px,#d6ee9b 48px,#d8ef9b 56px,#d8ef9b 64px,#daf09a 72px,#ddf19a 80px,#e1f399 88px,#e4f498 96px,#e7f59a 104px,#e9f69d 112px,#ebf7a0 120px,#edf8a3 128px,#eff9a6 136px,#f1f9a9 144px,#f2faaa 152px,#f4faad 160px,#f6fbb0 168px,#f7fcb2 176px,#f8fcb4 184px,#f9fcb5 192px,#fafdb7 200px,#fcfeba 208px,#fdfebb 216px,#fefebd 224px,#fffebe 232px,#fffcba 240px,#fffab6 248px,#fff6b0 256px,#fff2aa 264px,#feeda1 272px,#fee797 280px,#fee28f 288px,#fedc88 296px,#fed481 304px,#fece7c 312px,#feca79 320px,#feca79 328px,#fec877 336px,#fdc171 344px,#fdb163 352px,#fb9d59 360px,#f7844e 368px,#ee6445 376px,#d9444d 384px,#c1274a 392px,#ba2049 400px,#c72e4c 408px,#dc484c 416px,#eb6046 424px,#f67a49 432px,#fa9656 440px,#fdaf62 448px,#fdbf6f 456px,#fecc7b 464px,#fed884 472px,#fee28f 480px,#fee797 488px,#feec9f 496px,#fff1a8 504px,#fff5ae 512px,#fff7b2 520px,#fffbb8 528px,#fffdbc 536px,#fffebe 544px,#fefebd 552px)"></i><i style="top:60px;background:linear-gradient(90deg,#d3ed9c 0px,#d3ed9c 8px,#d3ed9c 16px,#d1ed9c 24px,#d1ed9c 32px,#d1ed9c 40px,#d1ed9c 48px,#d3ed9c 56px,#d6ee9b 64px,#d8ef9b 72px,#daf09a 80px,#ddf19a 88px,#e1f399 96px,#e6f598 104px,#e8f69b 112px,#eaf79e 120px,#ecf7a1 128px,#eef8a4 136px,#f0f9a7 144px,#f2faaa 152px,#f4faad 160px,#f5fbaf 168px,#f7fcb2 176px,#f8fcb4 184px,#f9fcb5 192px,#fafdb7 200px,#fbfdb8 208px,#fcfeba 216px,#fdfebb 224px,#fefebd 232px,#fffebe 240px,#fffcba 248px,#fff8b4 256px,#fff3ac 264px,#feefa3 272px,#feea9b 280px,#fee593 288px,#fede89 296px,#fed683 304px,#fed07e 312px,#fecc7b 320px,#fecc7b 328px,#fecc7b 336px,#fdc776 344px,#fdb96a 352px,#fca55d 360px,#f8864f 368px,#ed6246 376px,#d43d4f 384px,#b11747 392px,#ab0f45 400px,#bc2249 408px,#d7414e 416px,#e95c47 424px,#f67a49 432px,#fa9656 440px,#fdaf62 448px,#fdc171 456px,#fece7c 464px,#fedc88 472px,#fee491 480px,#feea9b 488px,#feefa3 496px,#fff2aa 504px,#fff6b0 512px,#fffab6 520px,#fffcba 528px,#fffebe 536px,#fefebd 544px,#fdfebb 552px)"></i><i style="top:64px;background:linear-gradient(90deg,#d1ed9c 0px,#d1ed9c 8px,#cfec9d 16px,#cfec9d 24px,#cfec9d 32px,#cfec9d 40px,#cfec9d 48px,#cfec9d 56px,#d1ed9c 64px,#d3ed9c 72px,#d6ee9b 80px,#daf09a 88px,#ddf19a 96px,#e1f399 104px,#e7f59a 112px,#e9f69d 120px,#ebf7a0 128px,#edf8a3 136px,#eff9a6 144px,#f1f9a9 152px,#f3faac 160px,#f5fbaf 168px,#f6fbb0 176px,#f7fcb2 184px,#f8fcb4 192px,#f9fcb5 200px,#fafdb7 208px,#fafdb7 216px,#fbfdb8 224px,#fcfeba 232px,#fefebd 240px,#fffebe 248px,#fffbb8 256px,#fff6b0 264px,#fff1a8 272px,#feeb9d 280px,#fee695 288px,#fee08b 296px,#fed884 304px,#fed27f 312px,#fece7c 320px,#fecc7b 328px,#fecc7b 336px,#fec877 344px,#fdbd6d 352px,#fdad60 360px,#f88c51 368px,#ed6246 376px,#d0384e 384px,#ab0f45 392px,#a40844 400px,#b81e48 408px,#d7414e 416px,#e95c47 424px,#f67a49 432px,#fa9857 440px,#fdb365 448px,#fdc574 456px,#fed27f 464px,#fede89 472px,#fee695 480px,#feec9f 488px,#fff1a8 496px,#fff5ae 504px,#fff8b4 512px,#fffbb8 520px,#fffebe 528px,#ffffbe 536px,#fdfebb 544px,#fcfeba 552px)"></i><i style="top:68px;background:linear-gradient(90deg,#cfec9d 0px,#cdeb9d 8px,#cdeb9d 16px,#caea9e 24px,#caea9e 32px,#caea9e 40px,#caea9e 48px,#caea9e 56px,#cdeb9d 64px,#cfec9d 72px,#d1ed9c 80px,#d6ee9b 88px,#daf09a 96px,#dff299 104px,#e4f498 112px,#e8f69b 120px,#eaf79e 128px,#edf8a3 136px,#eff9a6 144px,#f1f9a9 152px,#f3faac 160px,#f5fbaf 168px,#f6fbb0 176px,#f7fcb2 184px,#f8fcb4 192px,#f9fcb5 200px,#f9fcb5 208px,#f9fcb5 216px,#fafdb7 224px,#fbfdb8 232px,#fcfeba 240px,#fefebd 248px,#fffdbc 256px,#fffab6 264px,#fff3ac 272px,#feeda1 280px,#fee695 288px,#fee18d 296px,#feda86 304px,#fed481 312px,#fed07e 320px,#fece7c 328px,#fecc7b 336px,#feca79 344px,#fdc171 352px,#fdb163 360px,#f99153 368px,#ef6645 376px,#d43d4f 384px,#af1446 392px,#a90d45 400px,#bc2249 408px,#d8434e 416px,#eb6046 424px,#f67f4b 432px,#fba05b 440px,#fdb768 448px,#fec877 456px,#fed683 464px,#fee28f 472px,#fee999 480px,#feefa3 488px,#fff2aa 496px,#fff7b2 504px,#fffbb8 512px,#fffdbc 520px,#ffffbe 528px,#fdfebb 536px,#fcfeba 544px,#fafdb7 552px)"></i><i style="top:72px;background:linear-gradient(90deg,#cdeb9d 0px,#caea9e 8px,#c8e99e 16px,#c8e99e 24px,#c6e89f 32px,#c6e89f 40px,#c6e89f 48px,#c6e89f 56px,#c8e99e 64px,#caea9e 72px,#cdeb9d 80px,#d1ed9c 88px,#d6ee9b 96px,#daf09a 104px,#e1f399 112px,#e6f598 120px,#e9f69d 128px,#ecf7a1 136px,#eef8a4 144px,#f1f9a9 152px,#f3faac 160px,#f5fbaf 168px,#f6fbb0 176px,#f7fcb2 184px,#f8fcb4 192px,#f8fcb4 200px,#f8fcb4 208px,#f8fcb4 216px,#f8fcb4 224px,#f9fcb5 232px,#fafdb7 240px,#fbfdb8 248px,#fefebd 256px,#fffcba 264px,#fff6b0 272px,#feefa3 280px,#fee797 288px,#fee18d 296px,#feda86 304px,#fed683 312px,#fed27f 320px,#fed07e 328px,#fece7c 336px,#feca79 344px,#fdc574 352px,#fdb768 360px,#fa9b58 368px,#f46d43 376px,#dc484c 384px,#c1274a 392px,#b81e48 400px,#c9314c 408px,#de4c4b 416px,#f06744 424px,#f88950 432px,#fca85e 440px,#fdbd6d 448px,#fece7c 456px,#fedc88 464px,#fee593 472px,#feeb9d 480px,#fff1a8 488px,#fff6b0 496px,#fffab6 504px,#fffdbc 512px,#ffffbe 520px,#fdfebb 528px,#fcfeba 536px,#fafdb7 544px,#f9fcb5 552px)"></i><i style="top:76px;background:linear-gradient(90deg,#caea9e 0px,#c8e99e 8px,#c6e89f 16px,#c3e79f 24px,#c1e6a0 32px,#c1e6a0 40px,#c1e6a0 48px,#c1e6a0 56px,#c1e6a0 64px,#c3e79f 72px,#c8e99e 80px,#cdeb9d 88px,#d1ed9c 96px,#d6ee9b 104px,#ddf19a 112px,#e4f498 120px,#e8f69b 128px,#ebf7a0 136px,#eef8a4 144px,#f0f9a7 152px,#f3faac 160px,#f5fbaf 168px,#f6fbb0 176px,#f7fcb2 184px,#f8fcb4 192px,#f8fcb4 200px,#f8fcb4 208px,#f8fcb4 216px,#f7fcb2 224px,#f7fcb2 232px,#f8fcb4 240px,#f9fcb5 248px,#fcfeba 256px,#fffebe 264px,#fff7b2 272px,#feefa3 280px,#fee695 288px,#fee08b 296px,#fed884 304px,#fed683 312px,#fed481 320px,#fed27f 328px,#fed07e 336px,#fece7c 344px,#fec877 352px,#fdbd6d 360px,#fca55d 368px,#f67f4b 376px,#e75948 384px,#d63f4f 392px,#cd364d 400px,#d8434e 408px,#e75948 416px,#f57547 424px,#f99355 432px,#fdb163 440px,#fdc574 448px,#fed481 456px,#fee18d 464px,#fee999 472px,#feefa3 480px,#fff3ac 488px,#fff8b4 496px,#fffcba 504px,#ffffbe 512px,#fdfebb 520px,#fbfdb8 528px,#fafdb7 536px,#f9fcb5 544px,#f8fcb4 552px)"></i><i style="top:80px;background:linear-gradient(90deg,#c6e89f 0px,#c3e79f 8px,#c1e6a0 16px,#bfe5a0 24px,#bfe5a0 32px,#bce4a0 40px,#bce4a0 48px,#bce4a0 56px,#bce4a0 64px,#bfe5a0 72px,#c1e6a0 80px,#c6e89f 88px,#cdeb9d 96px,#d1ed9c 104px,#daf09a 112px,#e1f399 120px,#e7f59a 128px,#eaf79e 136px,#edf8a3 144px,#f0f9a7 152px,#f3faac 160px,#f5fbaf 168px,#f7fcb2 176px,#f8fcb4 184px,#f8fcb4 192px,#f8fcb4 200px,#f8fcb4 208px,#f7fcb2 216px,#f6fbb0 224px,#f5fbaf 232px,#f5fbaf 240px,#f6fbb0 248px,#f9fcb5 256px,#fdfebb 264px,#fffab6 272px,#fff0a6 280px,#fee593 288px,#feda86 296px,#fed481 304px,#fed481 312px,#fed683 320px,#fed683 328px,#fed683 336px,#fed481 344px,#fece7c 352px,#fdc574 360px,#fdb163 368px,#f99153 376px,#f46d43 384px,#e55749 392px,#e1504b 400px,#e75948 408px,#f26944 416px,#f8864f 424px,#fba35c 432px,#fdbb6c 440px,#fecc7b 448px,#fedc88 456px,#fee695 464px,#feec9f 472px,#fff2aa 480px,#fff7b2 488px,#fffcba 496px,#ffffbe 504px,#fdfebb 512px,#fbfdb8 520px,#f9fcb5 528px,#f8fcb4 536px,#f7fcb2 544px,#f6fbb0 552px)"></i><i style="top:84px;background:linear-gradient(90deg,#c3e79f 0px,#c1e6a0 8px,#bfe5a0 16px,#bce4a0 24px,#bae3a1 32px,#b8e2a1 40px,#b5e1a2 48px,#b5e1a2 56px,#b5e1a2 64px,#b8e2a1 72px,#bae3a1 80px,#c1e6a0 88px,#c6e89f 96px,#cdeb9d 104px,#d6ee9b 112px,#ddf19a 120px,#e6f598 128px,#e9f69d 136px,#edf8a3 144px,#f0f9a7 152px,#f3faac 160px,#f5fbaf 168px,#f7fcb2 176px,#f9fcb5 184px,#f9fcb5 192px,#f9fcb5 200px,#f8fcb4 208px,#f6fbb0 216px,#f5fbaf 224px,#f4faad 232px,#f3faac 240px,#f3faac 248px,#f5fbaf 256px,#fafdb7 264px,#fffdbc 272px,#fff0a6 280px,#fee28f 288px,#fed27f 296px,#fecc7b 304px,#fece7c 312px,#fed683 320px,#feda86 328px,#feda86 336px,#feda86 344px,#fed683 352px,#fecc7b 360px,#fdbf6f 368px,#fca85e 376px,#f88950 384px,#f47044 392px,#f26944 400px,#f47044 408px,#f7814c 416px,#fa9b58 424px,#fdb365 432px,#fdc574 440px,#fed683 448px,#fee28f 456px,#feeb9d 464px,#fff1a8 472px,#fff7b2 480px,#fffbb8 488px,#ffffbe 496px,#fdfebb 504px,#fbfdb8 512px,#f9fcb5 520px,#f7fcb2 528px,#f6fbb0 536px,#f5fbaf 544px,#f4faad 552px)"></i><i style="top:88px;background:linear-gradient(90deg,#c1e6a0 0px,#bfe5a0 8px,#bae3a1 16px,#b8e2a1 24px,#b3e0a2 32px,#b1dfa3 40px,#aedea3 48px,#aedea3 56px,#aedea3 64px,#b1dfa3 72px,#b3e0a2 80px,#bae3a1 88px,#bfe5a0 96px,#c8e99e 104px,#d1ed9c 112px,#daf09a 120px,#e4f498 128px,#e9f69d 136px,#ecf7a1 144px,#f0f9a7 152px,#f3faac 160px,#f6fbb0 168px,#f8fcb4 176px,#fafdb7 184px,#fafdb7 192px,#fafdb7 200px,#f8fcb4 208px,#f6fbb0 216px,#f4faad 224px,#f2faaa 232px,#f0f9a7 240px,#f0f9a7 248px,#f1f9a9 256px,#f6fbb0 264px,#ffffbe 272px,#fff1a8 280px,#fee08b 288px,#fec877 296px,#fdbf6f 304px,#fdc776 312px,#fed481 320px,#fede89 328px,#fee18d 336px,#fee18d 344px,#fee08b 352px,#fed884 360px,#feca79 368px,#fdbb6c 376px,#fca55d 384px,#f99153 392px,#f88950 400px,#f98e52 408px,#fb9d59 416px,#fdb163 424px,#fdc171 432px,#fed07e 440px,#fee08b 448px,#fee999 456px,#fff0a6 464px,#fff6b0 472px,#fffbb8 480px,#ffffbe 488px,#fcfeba 496px,#fafdb7 504px,#f8fcb4 512px,#f7fcb2 520px,#f5fbaf 528px,#f4faad 536px,#f3faac 544px,#f3faac 552px)"></i><i style="top:92px;background:linear-gradient(90deg,#bfe5a0 0px,#bae3a1 8px,#b5e1a2 16px,#b3e0a2 24px,#aedea3 32px,#acdda4 40px,#aadca4 48px,#a7dba4 56px,#a7dba4 64px,#aadca4 72px,#acdda4 80px,#b1dfa3 88px,#b8e2a1 96px,#c1e6a0 104px,#caea9e 112px,#d6ee9b 120px,#dff299 128px,#e8f69b 136px,#ecf7a1 144px,#f0f9a7 152px,#f3faac 160px,#f7fcb2 168px,#f9fcb5 176px,#fbfdb8 184px,#fcfeba 192px,#fcfeba 200px,#f9fcb5 208px,#f6fbb0 216px,#f3faac 224px,#f0f9a7 232px,#eef8a4 240px,#ecf7a1 248px,#edf8a3 256px,#f1f9a9 264px,#fbfdb8 272px,#fff2aa 280px,#fedc88 288px,#fdbd6d 296px,#fdb365 304px,#fdbf6f 312px,#fed27f 320px,#fee08b 328px,#fee593 336px,#fee797 344px,#fee695 352px,#fee28f 360px,#feda86 368px,#fecc7b 376px,#fdbd6d 384px,#fdb163 392px,#fcaa5f 400px,#fdad60 408px,#fdb567 416px,#fdc372 424px,#fed07e 432px,#fede89 440px,#fee797 448px,#feefa3 456px,#fff6b0 464px,#fffbb8 472px,#ffffbe 480px,#fcfeba 488px,#f9fcb5 496px,#f7fcb2 504px,#f5fbaf 512px,#f4faad 520px,#f3faac 528px,#f2faaa 536px,#f2faaa 544px,#f1f9a9 552px)"></i><i style="top:96px;background:linear-gradient(90deg,#bae3a1 0px,#b8e2a1 8px,#b3e0a2 16px,#aedea3 24px,#aadca4 32px,#a4daa4 40px,#a2d9a4 48px,#9fd8a4 56px,#9cd7a4 64px,#9fd8a4 72px,#a2d9a4 80px,#aadca4 88px,#b1dfa3 96px,#bae3a1 104px,#c6e89f 112px,#d1ed9c 120px,#ddf19a 128px,#e7f59a 136px,#ebf7a0 144px,#f0f9a7 152px,#f4faad 160px,#f8fcb4 168px,#fbfdb8 176px,#fefebd 184px,#ffffbe 192px,#fefebd 200px,#fbfdb8 208px,#f7fcb2 216px,#f3faac 224px,#eff9a6 232px,#ebf7a0 240px,#e9f69d 248px,#e8f69b 256px,#ecf7a1 264px,#f7fcb2 272px,#fff6b0 280px,#feda86 288px,#fdb768 296px,#fcaa5f 304px,#fdbb6c 312px,#fed27f 320px,#fee491 328px,#feeb9d 336px,#feeda1 344px,#feeda1 352px,#feeb9d 360px,#fee695 368px,#fede89 376px,#fed27f 384px,#fec877 392px,#fdc372 400px,#fdc372 408px,#feca79 416px,#fed481 424px,#fee08b 432px,#fee797 440px,#feefa3 448px,#fff6b0 456px,#fffcba 464px,#fefebd 472px,#fbfdb8 480px,#f8fcb4 488px,#f6fbb0 496px,#f4faad 504px,#f2faaa 512px,#f1f9a9 520px,#f1f9a9 528px,#f0f9a7 536px,#f0f9a7 544px,#eff9a6 552px)"></i><i style="top:100px;background:linear-gradient(90deg,#b8e2a1 0px,#b3e0a2 8px,#aedea3 16px,#aadca4 24px,#a4daa4 32px,#9cd7a4 40px,#99d6a4 48px,#94d4a4 56px,#91d3a4 64px,#94d4a4 72px,#97d5a4 80px,#9fd8a4 88px,#a7dba4 96px,#b3e0a2 104px,#bfe5a0 112px,#cdeb9d 120px,#d8ef9b 128px,#e6f598 136px,#ebf7a0 144px,#f0f9a7 152px,#f4faad 160px,#f9fcb5 168px,#fdfebb 176px,#fffebe 184px,#fffcba 192px,#fffdbc 200px,#fdfebb 208px,#f8fcb4 216px,#f2faaa 224px,#edf8a3 232px,#e9f69d 240px,#e6f598 248px,#e1f399 256px,#e8f69b 264px,#f2faaa 272px,#fffbb8 280px,#fee08b 288px,#fdbb6c 296px,#fdad60 304px,#fdbd6d 312px,#fed884 320px,#fee999 328px,#fff1a8 336px,#fff6b0 344px,#fff7b2 352px,#fff5ae 360px,#fff0a6 368px,#feea9b 376px,#fee491 384px,#fede89 392px,#fed884 400px,#fed884 408px,#fede89 416px,#fee491 424px,#feea9b 432px,#fff0a6 440px,#fff7b2 448px,#fffdbc 456px,#fdfebb 464px,#f9fcb5 472px,#f6fbb0 480px,#f4faad 488px,#f2faaa 496px,#f1f9a9 504px,#f0f9a7 512px,#eff9a6 520px,#eef8a4 528px,#eef8a4 536px,#eef8a4 544px,#eef8a4 552px)"></i><i style="top:104px;background:linear-gradient(90deg,#b5e1a2 0px,#b1dfa3 8px,#aadca4 16px,#a4daa4 24px,#9cd7a4 32px,#97d5a4 40px,#8fd2a4 48px,#89d0a4 56px,#86cfa5 64px,#86cfa5 72px,#89d0a4 80px,#91d3a4 88px,#9cd7a4 96px,#aadca4 104px,#b8e2a1 112px,#c8e99e 120px,#d6ee9b 128px,#e4f498 136px,#eaf79e 144px,#eff9a6 152px,#f5fbaf 160px,#fafdb7 168px,#ffffbe 176px,#fffbb8 184px,#fff8b4 192px,#fffab6 200px,#fffebe 208px,#f9fcb5 216px,#f2faaa 224px,#ecf7a1 232px,#e7f59a 240px,#e1f399 248px,#ddf19a 256px,#e1f399 264px,#eef8a4 272px,#fefebd 280px,#fee797 288px,#fec877 296px,#fdbd6d 304px,#feca79 312px,#fee18d 320px,#fff0a6 328px,#fffab6 336px,#fffebe 344px,#fefebd 352px,#fffebe 360px,#fffbb8 368px,#fff6b0 376px,#fff0a6 384px,#feeb9d 392px,#fee999 400px,#fee797 408px,#feea9b 416px,#feeda1 424px,#fff3ac 432px,#fffab6 440px,#fffebe 448px,#fbfdb8 456px,#f7fcb2 464px,#f4faad 472px,#f1f9a9 480px,#f0f9a7 488px,#eef8a4 496px,#edf8a3 504px,#ecf7a1 512px,#ecf7a1 520px,#ecf7a1 528px,#ecf7a1 536px,#ecf7a1 544px,#ecf7a1 552px)"></i><i style="top:108px;background:linear-gradient(90deg,#b3e0a2 0px,#acdda4 8px,#a7dba4 16px,#9fd8a4 24px,#97d5a4 32px,#8fd2a4 40px,#86cfa5 48px,#7ecca5 56px,#7ccaa5 64px,#79c9a5 72px,#7ccaa5 80px,#84cea5 88px,#91d3a4 96px,#9fd8a4 104px,#b1dfa3 112px,#c1e6a0 120px,#d1ed9c 128px,#e1f399 136px,#e9f69d 144px,#eff9a6 152px,#f5fbaf 160px,#fafdb7 168px,#fffebe 176px,#fff7b2 184px,#fff3ac 192px,#fff5ae 200px,#fffbb8 208px,#fafdb7 216px,#f2faaa 224px,#ebf7a0 232px,#e6f598 240px,#dff299 248px,#daf09a 256px,#dff299 264px,#ebf7a0 272px,#f9fcb5 280px,#fff2aa 288px,#fede89 296px,#fed27f 304px,#fedc88 312px,#feeb9d 320px,#fff8b4 328px,#fcfeba 336px,#f7fcb2 344px,#f5fbaf 352px,#f6fbb0 360px,#fafdb7 368px,#fefebd 376px,#fffbb8 384px,#fff6b0 392px,#fff3ac 400px,#fff3ac 408px,#fff5ae 416px,#fff8b4 424px,#fffdbc 432px,#fdfebb 440px,#f9fcb5 448px,#f5fbaf 456px,#f1f9a9 464px,#eff9a6 472px,#ecf7a1 480px,#ebf7a0 488px,#eaf79e 496px,#e9f69d 504px,#e9f69d 512px,#e9f69d 520px,#e9f69d 528px,#e9f69d 536px,#eaf79e 544px,#eaf79e 552px)"></i><i style="top:112px;background:linear-gradient(90deg,#b1dfa3 0px,#aadca4 8px,#a2d9a4 16px,#99d6a4 24px,#8fd2a4 32px,#86cfa5 40px,#7ccaa5 48px,#74c7a5 56px,#6ec5a5 64px,#6bc4a5 72px,#6ec5a5 80px,#76c8a5 88px,#81cda5 96px,#94d4a4 104px,#aadca4 112px,#bce4a0 120px,#cdeb9d 128px,#ddf19a 136px,#e9f69d 144px,#eff9a6 152px,#f5fbaf 160px,#fbfdb8 168px,#fffdbc 176px,#fff5ae 184px,#fff0a6 192px,#fff0a6 200px,#fff8b4 208px,#fbfdb8 216px,#f2faaa 224px,#eaf79e 232px,#e4f498 240px,#ddf19a 248px,#daf09a 256px,#dff299 264px,#e8f69b 272px,#f3faac 280px,#fffdbc 288px,#feeda1 296px,#fee797 304px,#feec9f 312px,#fff7b2 320px,#fbfdb8 328px,#f2faaa 336px,#edf8a3 344px,#ebf7a0 352px,#ecf7a1 360px,#f0f9a7 368px,#f5fbaf 376px,#fafdb7 384px,#fefebd 392px,#fffebe 400px,#fffdbc 408px,#ffffbe 416px,#fdfebb 424px,#f9fcb5 432px,#f6fbb0 440px,#f2faaa 448px,#eef8a4 456px,#ebf7a0 464px,#e9f69d 472px,#e7f59a 480px,#e6f598 488px,#e6f598 496px,#e6f598 504px,#e6f598 512px,#e6f598 520px,#e7f59a 528px,#e7f59a 536px,#e8f69b 544px,#e8f69b 552px)"></i><i style="top:116px;background:linear-gradient(90deg,#acdda4 0px,#a7dba4 8px,#9cd7a4 16px,#94d4a4 24px,#89d0a4 32px,#7ecca5 40px,#74c7a5 48px,#69c3a5 56px,#62bda7 64px,#5eb9a9 72px,#60bba8 80px,#66c2a5 88px,#74c7a5 96px,#86cfa5 104px,#9fd8a4 112px,#b5e1a2 120px,#c8e99e 128px,#daf09a 136px,#e8f69b 144px,#eef8a4 152px,#f4faad 160px,#fafdb7 168px,#fffdbc 176px,#fff3ac 184px,#feeda1 192px,#feefa3 200px,#fff7b2 208px,#fbfdb8 216px,#f1f9a9 224px,#e9f69d 232px,#e1f399 240px,#ddf19a 248px,#daf09a 256px,#ddf19a 264px,#e6f598 272px,#eef8a4 280px,#f8fcb4 288px,#fffcba 296px,#fff7b2 304px,#fffbb8 312px,#fafdb7 320px,#f0f9a7 328px,#e7f59a 336px,#daf09a 344px,#d6ee9b 352px,#ddf19a 360px,#e7f59a 368px,#ecf7a1 376px,#f1f9a9 384px,#f5fbaf 392px,#f8fcb4 400px,#f8fcb4 408px,#f7fcb2 416px,#f5fbaf 424px,#f2faaa 432px,#eef8a4 440px,#eaf79e 448px,#e7f59a 456px,#e4f498 464px,#dff299 472px,#ddf19a 480px,#daf09a 488px,#daf09a 496px,#ddf19a 504px,#ddf19a 512px,#dff299 520px,#e1f399 528px,#e4f498 536px,#e6f598 544px,#e6f598 552px)"></i><i style="top:120px;background:linear-gradient(90deg,#aadca4 0px,#a2d9a4 8px,#99d6a4 16px,#8fd2a4 24px,#84cea5 32px,#76c8a5 40px,#69c3a5 48px,#60bba8 56px,#58b2ac 64px,#54aead 72px,#54aead 80px,#58b2ac 88px,#64c0a6 96px,#7ccaa5 104px,#94d4a4 112px,#aedea3 120px,#c3e79f 128px,#d6ee9b 136px,#e6f598 144px,#edf8a3 152px,#f3faac 160px,#fafdb7 168px,#fffdbc 176px,#fff5ae 184px,#feefa3 192px,#feefa3 200px,#fff8b4 208px,#fafdb7 216px,#f0f9a7 224px,#e7f59a 232px,#ddf19a 240px,#d6ee9b 248px,#d3ed9c 256px,#d3ed9c 264px,#daf09a 272px,#e7f59a 280px,#f0f9a7 288px,#f7fcb2 296px,#fafdb7 304px,#f7fcb2 312px,#eff9a6 320px,#e1f399 328px,#caea9e 336px,#bae3a1 344px,#b8e2a1 352px,#c1e6a0 360px,#d1ed9c 368px,#e1f399 376px,#e9f69d 384px,#eef8a4 392px,#f0f9a7 400px,#f1f9a9 408px,#f0f9a7 416px,#edf8a3 424px,#eaf79e 432px,#e6f598 440px,#dff299 448px,#d8ef9b 456px,#d3ed9c 464px,#cfec9d 472px,#cfec9d 480px,#cfec9d 488px,#d1ed9c 496px,#d3ed9c 504px,#d6ee9b 512px,#d8ef9b 520px,#daf09a 528px,#ddf19a 536px,#dff299 544px,#e1f399 552px)"></i><i style="top:124px;background:linear-gradient(90deg,#aadca4 0px,#9fd8a4 8px,#97d5a4 16px,#89d0a4 24px,#7ecca5 32px,#71c6a5 40px,#62bda7 48px,#58b2ac 56px,#4ea7b0 64px,#47a0b3 72px,#459eb4 80px,#4ba4b1 88px,#58b2ac 96px,#6ec5a5 104px,#89d0a4 112px,#a7dba4 120px,#bfe5a0 128px,#d3ed9c 136px,#e4f498 144px,#ecf7a1 152px,#f2faaa 160px,#f8fcb4 168px,#fefebd 176px,#fff8b4 184px,#fff2aa 192px,#fff3ac 200px,#fffcba 208px,#f8fcb4 216px,#eef8a4 224px,#e4f498 232px,#d6ee9b 240px,#caea9e 248px,#c3e79f 256px,#c3e79f 264px,#caea9e 272px,#d8ef9b 280px,#e8f69b 288px,#eef8a4 296px,#f0f9a7 304px,#edf8a3 312px,#e1f399 320px,#c3e79f 328px,#a7dba4 336px,#94d4a4 344px,#97d5a4 352px,#a7dba4 360px,#bae3a1 368px,#cdeb9d 376px,#ddf19a 384px,#e7f59a 392px,#e9f69d 400px,#eaf79e 408px,#e9f69d 416px,#e6f598 424px,#dff299 432px,#d6ee9b 440px,#cdeb9d 448px,#c6e89f 456px,#c3e79f 464px,#c1e6a0 472px,#c1e6a0 480px,#c3e79f 488px,#c6e89f 496px,#caea9e 504px,#cdeb9d 512px,#d1ed9c 520px,#d6ee9b 528px,#d8ef9b 536px,#daf09a 544px,#dff299 552px)"></i><i style="top:128px;background:linear-gradient(90deg,#a7dba4 0px,#9cd7a4 8px,#91d3a4 16px,#86cfa5 24px,#79c9a5 32px,#69c3a5 40px,#5cb7aa 48px,#50a9af 56px,#459eb4 64px,#3d95b8 72px,#3990ba 80px,#3f97b7 88px,#4ea7b0 96px,#62bda7 104px,#81cda5 112px,#a2d9a4 120px,#bae3a1 128px,#cfec9d 136px,#e1f399 144px,#eaf79e 152px,#f0f9a7 160px,#f6fbb0 168px,#fbfdb8 176px,#fffdbc 184px,#fff8b4 192px,#fffab6 200px,#fefebd 208px,#f4faad 216px,#ebf7a0 224px,#ddf19a 232px,#caea9e 240px,#bae3a1 248px,#aedea3 256px,#aadca4 264px,#b5e1a2 272px,#c8e99e 280px,#daf09a 288px,#e7f59a 296px,#e8f69b 304px,#dff299 312px,#c8e99e 320px,#a7dba4 328px,#81cda5 336px,#6bc4a5 344px,#71c6a5 352px,#89d0a4 360px,#a4daa4 368px,#bce4a0 376px,#cfec9d 384px,#daf09a 392px,#dff299 400px,#e1f399 408px,#ddf19a 416px,#d6ee9b 424px,#cdeb9d 432px,#c3e79f 440px,#bae3a1 448px,#b3e0a2 456px,#b1dfa3 464px,#b1dfa3 472px,#b3e0a2 480px,#b5e1a2 488px,#bae3a1 496px,#c1e6a0 504px,#c6e89f 512px,#caea9e 520px,#cfec9d 528px,#d3ed9c 536px,#d6ee9b 544px,#daf09a 552px)"></i><i style="top:132px;background:linear-gradient(90deg,#a4daa4 0px,#9cd7a4 8px,#8fd2a4 16px,#84cea5 24px,#74c7a5 32px,#64c0a6 40px,#58b2ac 48px,#49a2b2 56px,#3d95b8 64px,#3389bd 72px,#3585bb 80px,#3389bd 88px,#439bb5 96px,#58b2ac 104px,#76c8a5 112px,#99d6a4 120px,#b8e2a1 128px,#cdeb9d 136px,#dff299 144px,#e9f69d 152px,#eef8a4 160px,#f3faac 168px,#f8fcb4 176px,#fcfeba 184px,#fefebd 192px,#fdfebb 200px,#f8fcb4 208px,#f1f9a9 216px,#e8f69b 224px,#d6ee9b 232px,#c1e6a0 240px,#aadca4 248px,#91d3a4 256px,#8cd1a4 264px,#9fd8a4 272px,#b8e2a1 280px,#cdeb9d 288px,#d8ef9b 296px,#daf09a 304px,#cdeb9d 312px,#b3e0a2 320px,#89d0a4 328px,#60bba8 336px,#4ea7b0 344px,#54aead 352px,#6ec5a5 360px,#91d3a4 368px,#aedea3 376px,#c1e6a0 384px,#cdeb9d 392px,#d3ed9c 400px,#d3ed9c 408px,#cfec9d 416px,#c6e89f 424px,#bae3a1 432px,#b1dfa3 440px,#a7dba4 448px,#9fd8a4 456px,#9cd7a4 464px,#9fd8a4 472px,#a2d9a4 480px,#aadca4 488px,#b1dfa3 496px,#b8e2a1 504px,#bce4a0 512px,#c3e79f 520px,#c8e99e 528px,#cdeb9d 536px,#d1ed9c 544px,#d6ee9b 552px)"></i><i style="top:136px;background:linear-gradient(90deg,#a4daa4 0px,#99d6a4 8px,#8fd2a4 16px,#81cda5 24px,#71c6a5 32px,#62bda7 40px,#54aead 48px,#439bb5 56px,#378ebb 64px,#3880b9 72px,#3b7cb7 80px,#3880b9 88px,#3990ba 96px,#52abae 104px,#71c6a5 112px,#94d4a4 120px,#b3e0a2 128px,#caea9e 136px,#ddf19a 144px,#e8f69b 152px,#ecf7a1 160px,#f0f9a7 168px,#f4faad 176px,#f7fcb2 184px,#f8fcb4 192px,#f7fcb2 200px,#f4faad 208px,#edf8a3 216px,#e4f498 224px,#cfec9d 232px,#b8e2a1 240px,#97d5a4 248px,#76c8a5 256px,#71c6a5 264px,#89d0a4 272px,#aadca4 280px,#c1e6a0 288px,#cdeb9d 296px,#cdeb9d 304px,#bfe5a0 312px,#a2d9a4 320px,#74c7a5 328px,#49a2b2 336px,#378ebb 344px,#4199b6 352px,#5cb7aa 360px,#81cda5 368px,#a2d9a4 376px,#b5e1a2 384px,#c1e6a0 392px,#c8e99e 400px,#c6e89f 408px,#bfe5a0 416px,#b5e1a2 424px,#aadca4 432px,#99d6a4 440px,#8fd2a4 448px,#86cfa5 456px,#86cfa5 464px,#89d0a4 472px,#91d3a4 480px,#99d6a4 488px,#a4daa4 496px,#acdda4 504px,#b5e1a2 512px,#bce4a0 520px,#c3e79f 528px,#c8e99e 536px,#cdeb9d 544px,#d1ed9c 552px)"></i><i style="top:140px;background:linear-gradient(90deg,#a4daa4 0px,#99d6a4 8px,#8cd1a4 16px,#7ecca5 24px,#6ec5a5 32px,#60bba8 40px,#52abae 48px,#4199b6 56px,#3387bc 64px,#3d79b6 72px,#4175b4 80px,#3d79b6 88px,#3389bd 96px,#4ea7b0 104px,#6bc4a5 112px,#91d3a4 120px,#b1dfa3 128px,#c8e99e 136px,#daf09a 144px,#e6f598 152px,#ebf7a0 160px,#eef8a4 168px,#f0f9a7 176px,#f2faaa 184px,#f3faac 192px,#f2faaa 200px,#eff9a6 208px,#eaf79e 216px,#dff299 224px,#caea9e 232px,#b1dfa3 240px,#8cd1a4 248px,#6bc4a5 256px,#64c0a6 264px,#7ecca5 272px,#9fd8a4 280px,#b8e2a1 288px,#c3e79f 296px,#c1e6a0 304px,#b5e1a2 312px,#94d4a4 320px,#64c0a6 328px,#3d95b8 336px,#3880b9 344px,#358bbc 352px,#54aead 360px,#76c8a5 368px,#97d5a4 376px,#acdda4 384px,#b8e2a1 392px,#bce4a0 400px,#bae3a1 408px,#b3e0a2 416px,#a4daa4 424px,#94d4a4 432px,#81cda5 440px,#76c8a5 448px,#6ec5a5 456px,#6ec5a5 464px,#76c8a5 472px,#7ecca5 480px,#8cd1a4 488px,#97d5a4 496px,#a2d9a4 504px,#acdda4 512px,#b5e1a2 520px,#bce4a0 528px,#c3e79f 536px,#caea9e 544px,#cfec9d 552px)"></i><i style="top:144px;background:linear-gradient(90deg,#a2d9a4 0px,#99d6a4 8px,#8cd1a4 16px,#7ecca5 24px,#6ec5a5 32px,#60bba8 40px,#50a9af 48px,#3f97b7 56px,#3387bc 64px,#3f77b5 72px,#4273b3 80px,#3f77b5 88px,#3387bc 96px,#4ba4b1 104px,#69c3a5 112px,#8fd2a4 120px,#b1dfa3 128px,#c8e99e 136px,#d8ef9b 144px,#e4f498 152px,#e9f69d 160px,#ecf7a1 168px,#edf8a3 176px,#eef8a4 184px,#eff9a6 192px,#eef8a4 200px,#ecf7a1 208px,#e8f69b 216px,#daf09a 224px,#c8e99e 232px,#aedea3 240px,#8cd1a4 248px,#6bc4a5 256px,#64c0a6 264px,#7ccaa5 272px,#9cd7a4 280px,#b3e0a2 288px,#bce4a0 296px,#bae3a1 304px,#acdda4 312px,#8fd2a4 320px,#62bda7 328px,#3d95b8 336px,#3880b9 344px,#358bbc 352px,#52abae 360px,#71c6a5 368px,#91d3a4 376px,#a7dba4 384px,#b1dfa3 392px,#b3e0a2 400px,#aedea3 408px,#a4daa4 416px,#94d4a4 424px,#7ecca5 432px,#6bc4a5 440px,#5eb9a9 448px,#5ab4ab 456px,#5ab4ab 464px,#62bda7 472px,#6ec5a5 480px,#7ccaa5 488px,#8cd1a4 496px,#99d6a4 504px,#a4daa4 512px,#aedea3 520px,#b8e2a1 528px,#bfe5a0 536px,#c6e89f 544px,#caea9e 552px)"></i><i style="top:148px;background:linear-gradient(90deg,#a4daa4 0px,#99d6a4 8px,#8cd1a4 16px,#7ecca5 24px,#6ec5a5 32px,#60bba8 40px,#50a9af 48px,#4199b6 56px,#3387bc 64px,#3d79b6 72px,#4273b3 80px,#3f77b5 88px,#3389bd 96px,#4ba4b1 104px,#6bc4a5 112px,#91d3a4 120px,#b1dfa3 128px,#c6e89f 136px,#d8ef9b 144px,#e4f498 152px,#e8f69b 160px,#eaf79e 168px,#ebf7a0 176px,#ecf7a1 184px,#ecf7a1 192px,#ecf7a1 200px,#eaf79e 208px,#e6f598 216px,#d8ef9b 224px,#c6e89f 232px,#aedea3 240px,#91d3a4 248px,#76c8a5 256px,#71c6a5 264px,#84cea5 272px,#9cd7a4 280px,#aedea3 288px,#b5e1a2 296px,#b5e1a2 304px,#a7dba4 312px,#8cd1a4 320px,#64c0a6 328px,#459eb4 336px,#358bbc 344px,#3d95b8 352px,#56b0ad 360px,#71c6a5 368px,#8fd2a4 376px,#a2d9a4 384px,#aadca4 392px,#acdda4 400px,#a4daa4 408px,#97d5a4 416px,#81cda5 424px,#69c3a5 432px,#58b2ac 440px,#49a2b2 448px,#459eb4 456px,#49a2b2 464px,#52abae 472px,#5eb9a9 480px,#6ec5a5 488px,#7ecca5 496px,#8fd2a4 504px,#9cd7a4 512px,#aadca4 520px,#b3e0a2 528px,#bae3a1 536px,#c1e6a0 544px,#c8e99e 552px)"></i><i style="top:152px;background:linear-gradient(90deg,#a4daa4 0px,#99d6a4 8px,#8fd2a4 16px,#81cda5 24px,#71c6a5 32px,#62bda7 40px,#54aead 48px,#439bb5 56px,#358bbc 64px,#3a7eb8 72px,#3d79b6 80px,#3a7eb8 88px,#3990ba 96px,#50a9af 104px,#6ec5a5 112px,#91d3a4 120px,#b1dfa3 128px,#c6e89f 136px,#d6ee9b 144px,#e1f399 152px,#e7f59a 160px,#e9f69d 168px,#eaf79e 176px,#eaf79e 184px,#eaf79e 192px,#eaf79e 200px,#e8f69b 208px,#e4f498 216px,#d6ee9b 224px,#c6e89f 232px,#b1dfa3 240px,#99d6a4 248px,#86cfa5 256px,#81cda5 264px,#8fd2a4 272px,#9fd8a4 280px,#aedea3 288px,#b3e0a2 296px,#b1dfa3 304px,#a4daa4 312px,#8fd2a4 320px,#6bc4a5 328px,#52abae 336px,#459eb4 344px,#4ba4b1 352px,#5eb9a9 360px,#76c8a5 368px,#8fd2a4 376px,#9fd8a4 384px,#a4daa4 392px,#a4daa4 400px,#9cd7a4 408px,#89d0a4 416px,#71c6a5 424px,#5ab4ab 432px,#459eb4 440px,#378ebb 448px,#3389bd 456px,#378ebb 464px,#439bb5 472px,#52abae 480px,#62bda7 488px,#74c7a5 496px,#86cfa5 504px,#97d5a4 512px,#a2d9a4 520px,#aedea3 528px,#b5e1a2 536px,#bfe5a0 544px,#c3e79f 552px)"></i><i style="top:156px;background:linear-gradient(90deg,#a4daa4 0px,#99d6a4 8px,#8fd2a4 16px,#84cea5 24px,#74c7a5 32px,#64c0a6 40px,#56b0ad 48px,#47a0b3 56px,#3b92b9 64px,#3387bc 72px,#3682ba 80px,#3387bc 88px,#4199b6 96px,#58b2ac 104px,#74c7a5 112px,#97d5a4 120px,#b3e0a2 128px,#c8e99e 136px,#d6ee9b 144px,#e1f399 152px,#e7f59a 160px,#e9f69d 168px,#e9f69d 176px,#eaf79e 184px,#e9f69d 192px,#e9f69d 200px,#e7f59a 208px,#e1f399 216px,#d6ee9b 224px,#c8e99e 232px,#b5e1a2 240px,#a4daa4 248px,#94d4a4 256px,#91d3a4 264px,#99d6a4 272px,#a4daa4 280px,#aedea3 288px,#b1dfa3 296px,#aedea3 304px,#a4daa4 312px,#91d3a4 320px,#79c9a5 328px,#60bba8 336px,#56b0ad 344px,#5ab4ab 352px,#69c3a5 360px,#7ecca5 368px,#8fd2a4 376px,#9cd7a4 384px,#a2d9a4 392px,#9fd8a4 400px,#91d3a4 408px,#7ecca5 416px,#64c0a6 424px,#4ba4b1 432px,#3389bd 440px,#3d79b6 448px,#4175b4 456px,#3b7cb7 464px,#358bbc 472px,#47a0b3 480px,#58b2ac 488px,#6bc4a5 496px,#7ecca5 504px,#8fd2a4 512px,#9cd7a4 520px,#aadca4 528px,#b3e0a2 536px,#bae3a1 544px,#c1e6a0 552px)"></i><i style="top:160px;background:linear-gradient(90deg,#a7dba4 0px,#9cd7a4 8px,#91d3a4 16px,#86cfa5 24px,#79c9a5 32px,#69c3a5 40px,#5cb7aa 48px,#50a9af 56px,#439bb5 64px,#3b92b9 72px,#378ebb 80px,#3d95b8 88px,#49a2b2 96px,#60bba8 104px,#7ccaa5 112px,#9cd7a4 120px,#b5e1a2 128px,#c8e99e 136px,#d6ee9b 144px,#e1f399 152px,#e7f59a 160px,#e8f69b 168px,#e9f69d 176px,#e9f69d 184px,#e9f69d 192px,#e9f69d 200px,#e7f59a 208px,#dff299 216px,#d6ee9b 224px,#c8e99e 232px,#bae3a1 240px,#acdda4 248px,#a2d9a4 256px,#9fd8a4 264px,#a2d9a4 272px,#aadca4 280px,#aedea3 288px,#aedea3 296px,#acdda4 304px,#a4daa4 312px,#97d5a4 320px,#84cea5 328px,#71c6a5 336px,#66c2a5 344px,#69c3a5 352px,#76c8a5 360px,#84cea5 368px,#91d3a4 376px,#99d6a4 384px,#9cd7a4 392px,#97d5a4 400px,#8cd1a4 408px,#74c7a5 416px,#5ab4ab 424px,#3f97b7 432px,#3d79b6 440px,#4b68ae 448px,#4e63ac 456px,#466eb1 464px,#3880b9 472px,#3d95b8 480px,#52abae 488px,#64c0a6 496px,#76c8a5 504px,#89d0a4 512px,#99d6a4 520px,#a4daa4 528px,#b1dfa3 536px,#b8e2a1 544px,#bfe5a0 552px)"></i><i style="top:164px;background:linear-gradient(90deg,#a7dba4 0px,#9fd8a4 8px,#94d4a4 16px,#89d0a4 24px,#7ccaa5 32px,#6ec5a5 40px,#62bda7 48px,#56b0ad 56px,#4ba4b1 64px,#459eb4 72px,#439bb5 80px,#49a2b2 88px,#56b0ad 96px,#69c3a5 104px,#86cfa5 112px,#a2d9a4 120px,#b8e2a1 128px,#c8e99e 136px,#d6ee9b 144px,#dff299 152px,#e6f598 160px,#e8f69b 168px,#e9f69d 176px,#e9f69d 184px,#e9f69d 192px,#e8f69b 200px,#e6f598 208px,#dff299 216px,#d6ee9b 224px,#caea9e 232px,#bfe5a0 240px,#b3e0a2 248px,#acdda4 256px,#a7dba4 264px,#aadca4 272px,#acdda4 280px,#acdda4 288px,#acdda4 296px,#aadca4 304px,#a4daa4 312px,#99d6a4 320px,#8cd1a4 328px,#81cda5 336px,#79c9a5 344px,#79c9a5 352px,#81cda5 360px,#8cd1a4 368px,#94d4a4 376px,#99d6a4 384px,#99d6a4 392px,#94d4a4 400px,#84cea5 408px,#6bc4a5 416px,#52abae 424px,#358bbc 432px,#466eb1 440px,#555aa7 448px,#5758a6 456px,#4e63ac 464px,#4175b4 472px,#378ebb 480px,#4ba4b1 488px,#5eb9a9 496px,#71c6a5 504px,#84cea5 512px,#94d4a4 520px,#a2d9a4 528px,#acdda4 536px,#b5e1a2 544px,#bce4a0 552px)"></i><i style="top:168px;background:linear-gradient(90deg,#aadca4 0px,#a2d9a4 8px,#99d6a4 16px,#8fd2a4 24px,#81cda5 32px,#76c8a5 40px,#69c3a5 48px,#5eb9a9 56px,#56b0ad 64px,#52abae 72px,#50a9af 80px,#56b0ad 88px,#62bda7 96px,#76c8a5 104px,#8fd2a4 112px,#a7dba4 120px,#bae3a1 128px,#caea9e 136px,#d6ee9b 144px,#dff299 152px,#e6f598 160px,#e8f69b 168px,#e9f69d 176px,#e9f69d 184px,#e9f69d 192px,#e8f69b 200px,#e6f598 208px,#dff299 216px,#d6ee9b 224px,#cdeb9d 232px,#c1e6a0 240px,#b8e2a1 248px,#b1dfa3 256px,#aedea3 264px,#acdda4 272px,#acdda4 280px,#acdda4 288px,#aadca4 296px,#a7dba4 304px,#a4daa4 312px,#9cd7a4 320px,#94d4a4 328px,#8cd1a4 336px,#86cfa5 344px,#86cfa5 352px,#8cd1a4 360px,#91d3a4 368px,#97d5a4 376px,#99d6a4 384px,#99d6a4 392px,#91d3a4 400px,#81cda5 408px,#66c2a5 416px,#4ea7b0 424px,#3585bb 432px,#4d65ad 440px,#5b53a4 448px,#5e4fa2 456px,#545ca8 464px,#4471b2 472px,#3389bd 480px,#47a0b3 488px,#5cb7aa 496px,#6ec5a5 504px,#81cda5 512px,#91d3a4 520px,#9fd8a4 528px,#aadca4 536px,#b3e0a2 544px,#bae3a1 552px)"></i><i style="top:172px;background:linear-gradient(90deg,#acdda4 0px,#a4daa4 8px,#9cd7a4 16px,#91d3a4 24px,#86cfa5 32px,#7ccaa5 40px,#71c6a5 48px,#66c2a5 56px,#60bba8 64px,#5cb7aa 72px,#5cb7aa 80px,#62bda7 88px,#6ec5a5 96px,#81cda5 104px,#97d5a4 112px,#acdda4 120px,#bfe5a0 128px,#cdeb9d 136px,#d8ef9b 144px,#dff299 152px,#e6f598 160px,#e7f59a 168px,#e8f69b 176px,#e9f69d 184px,#e9f69d 192px,#e8f69b 200px,#e4f498 208px,#ddf19a 216px,#d6ee9b 224px,#cdeb9d 232px,#c3e79f 240px,#bce4a0 248px,#b5e1a2 256px,#b1dfa3 264px,#aedea3 272px,#acdda4 280px,#a7dba4 288px,#a4daa4 296px,#a4daa4 304px,#a2d9a4 312px,#9fd8a4 320px,#99d6a4 328px,#94d4a4 336px,#91d3a4 344px,#8fd2a4 352px,#91d3a4 360px,#97d5a4 368px,#99d6a4 376px,#99d6a4 384px,#97d5a4 392px,#8fd2a4 400px,#7ecca5 408px,#64c0a6 416px,#4ba4b1 424px,#3682ba 432px,#4d65ad 440px,#5c51a3 448px,#5e4fa2 456px,#555aa7 464px,#466eb1 472px,#3387bc 480px,#47a0b3 488px,#5ab4ab 496px,#6bc4a5 504px,#7ecca5 512px,#8fd2a4 520px,#9cd7a4 528px,#aadca4 536px,#b1dfa3 544px,#bae3a1 552px)"></i><i style="top:176px;background:linear-gradient(90deg,#aedea3 0px,#a7dba4 8px,#9fd8a4 16px,#97d5a4 24px,#8fd2a4 32px,#84cea5 40px,#7ccaa5 48px,#71c6a5 56px,#6bc4a5 64px,#69c3a5 72px,#69c3a5 80px,#71c6a5 88px,#7ecca5 96px,#8fd2a4 104px,#a2d9a4 112px,#b3e0a2 120px,#c1e6a0 128px,#cdeb9d 136px,#d8ef9b 144px,#dff299 152px,#e4f498 160px,#e7f59a 168px,#e8f69b 176px,#e8f69b 184px,#e8f69b 192px,#e7f59a 200px,#e4f498 208px,#ddf19a 216px,#d6ee9b 224px,#cdeb9d 232px,#c6e89f 240px,#bfe5a0 248px,#b8e2a1 256px,#b3e0a2 264px,#aedea3 272px,#aadca4 280px,#a4daa4 288px,#9fd8a4 296px,#9fd8a4 304px,#9fd8a4 312px,#9cd7a4 320px,#9cd7a4 328px,#99d6a4 336px,#97d5a4 344px,#97d5a4 352px,#97d5a4 360px,#99d6a4 368px,#9cd7a4 376px,#99d6a4 384px,#97d5a4 392px,#8cd1a4 400px,#7ccaa5 408px,#64c0a6 416px,#4ba4b1 424px,#3585bb 432px,#4b68ae 440px,#5956a5 448px,#5b53a4 456px,#545ca8 464px,#4471b2 472px,#3389bd 480px,#47a0b3 488px,#5ab4ab 496px,#6bc4a5 504px,#7ecca5 512px,#8fd2a4 520px,#9cd7a4 528px,#a7dba4 536px,#b1dfa3 544px,#b8e2a1 552px)"></i><i style="top:180px;background:linear-gradient(90deg,#b1dfa3 0px,#acdda4 8px,#a4daa4 16px,#9cd7a4 24px,#94d4a4 32px,#8cd1a4 40px,#84cea5 48px,#7ecca5 56px,#79c9a5 64px,#76c8a5 72px,#79c9a5 80px,#7ecca5 88px,#89d0a4 96px,#99d6a4 104px,#aadca4 112px,#b8e2a1 120px,#c3e79f 128px,#cfec9d 136px,#d8ef9b 144px,#dff299 152px,#e4f498 160px,#e6f598 168px,#e7f59a 176px,#e7f59a 184px,#e7f59a 192px,#e6f598 200px,#e1f399 208px,#daf09a 216px,#d3ed9c 224px,#cdeb9d 232px,#c6e89f 240px,#bfe5a0 248px,#b8e2a1 256px,#b3e0a2 264px,#acdda4 272px,#a4daa4 280px,#9cd7a4 288px,#97d5a4 296px,#97d5a4 304px,#99d6a4 312px,#9cd7a4 320px,#9cd7a4 328px,#9cd7a4 336px,#9cd7a4 344px,#9cd7a4 352px,#9cd7a4 360px,#9cd7a4 368px,#9cd7a4 376px,#99d6a4 384px,#97d5a4 392px,#8cd1a4 400px,#7ccaa5 408px,#66c2a5 416px,#50a9af 424px,#358bbc 432px,#4471b2 440px,#525fa9 448px,#545ca8 456px,#4d65ad 464px,#3f77b5 472px,#358bbc 480px,#49a2b2 488px,#5cb7aa 496px,#6bc4a5 504px,#7ecca5 512px,#8fd2a4 520px,#9cd7a4 528px,#a7dba4 536px,#aedea3 544px,#b8e2a1 552px)"></i><i style="top:184px;background:linear-gradient(90deg,#b3e0a2 0px,#aedea3 8px,#aadca4 16px,#a2d9a4 24px,#99d6a4 32px,#94d4a4 40px,#8cd1a4 48px,#86cfa5 56px,#84cea5 64px,#84cea5 72px,#86cfa5 80px,#8cd1a4 88px,#97d5a4 96px,#a4daa4 104px,#b1dfa3 112px,#bce4a0 120px,#c8e99e 128px,#d1ed9c 136px,#d8ef9b 144px,#dff299 152px,#e4f498 160px,#e6f598 168px,#e7f59a 176px,#e7f59a 184px,#e6f598 192px,#e4f498 200px,#dff299 208px,#daf09a 216px,#d3ed9c 224px,#cdeb9d 232px,#c6e89f 240px,#bfe5a0 248px,#b8e2a1 256px,#b1dfa3 264px,#aadca4 272px,#9fd8a4 280px,#94d4a4 288px,#8fd2a4 296px,#8fd2a4 304px,#94d4a4 312px,#99d6a4 320px,#9cd7a4 328px,#9fd8a4 336px,#9fd8a4 344px,#9fd8a4 352px,#9fd8a4 360px,#9cd7a4 368px,#9cd7a4 376px,#99d6a4 384px,#94d4a4 392px,#8cd1a4 400px,#7ecca5 408px,#69c3a5 416px,#54aead 424px,#3d95b8 432px,#3b7cb7 440px,#486cb0 448px,#4b68ae 456px,#4471b2 464px,#3880b9 472px,#3b92b9 480px,#4ea7b0 488px,#5eb9a9 496px,#6ec5a5 504px,#7ecca5 512px,#8fd2a4 520px,#9cd7a4 528px,#a7dba4 536px,#aedea3 544px,#b5e1a2 552px)"></i><i style="top:188px;background:linear-gradient(90deg,#b8e2a1 0px,#b1dfa3 8px,#acdda4 16px,#a7dba4 24px,#a2d9a4 32px,#9cd7a4 40px,#97d5a4 48px,#91d3a4 56px,#8fd2a4 64px,#8fd2a4 72px,#91d3a4 80px,#99d6a4 88px,#a2d9a4 96px,#acdda4 104px,#b5e1a2 112px,#c1e6a0 120px,#caea9e 128px,#d3ed9c 136px,#daf09a 144px,#dff299 152px,#e1f399 160px,#e4f498 168px,#e6f598 176px,#e6f598 184px,#e4f498 192px,#e1f399 200px,#ddf19a 208px,#d8ef9b 216px,#d3ed9c 224px,#cdeb9d 232px,#c6e89f 240px,#bfe5a0 248px,#b8e2a1 256px,#b1dfa3 264px,#a7dba4 272px,#99d6a4 280px,#8cd1a4 288px,#84cea5 296px,#86cfa5 304px,#8fd2a4 312px,#97d5a4 320px,#9cd7a4 328px,#9fd8a4 336px,#9fd8a4 344px,#9fd8a4 352px,#9fd8a4 360px,#9fd8a4 368px,#9cd7a4 376px,#99d6a4 384px,#94d4a4 392px,#8cd1a4 400px,#81cda5 408px,#6ec5a5 416px,#5ab4ab 424px,#459eb4 432px,#3389bd 440px,#3b7cb7 448px,#3f77b5 456px,#3a7eb8 464px,#3389bd 472px,#439bb5 480px,#52abae 488px,#62bda7 496px,#71c6a5 504px,#81cda5 512px,#8fd2a4 520px,#9cd7a4 528px,#a7dba4 536px,#aedea3 544px,#b5e1a2 552px)"></i><i style="top:192px;background:linear-gradient(90deg,#bae3a1 0px,#b5e1a2 8px,#b1dfa3 16px,#acdda4 24px,#a7dba4 32px,#a2d9a4 40px,#9fd8a4 48px,#9cd7a4 56px,#99d6a4 64px,#99d6a4 72px,#9fd8a4 80px,#a4daa4 88px,#acdda4 96px,#b3e0a2 104px,#bce4a0 112px,#c6e89f 120px,#cdeb9d 128px,#d3ed9c 136px,#daf09a 144px,#dff299 152px,#e1f399 160px,#e4f498 168px,#e4f498 176px,#e4f498 184px,#e4f498 192px,#e1f399 200px,#ddf19a 208px,#d8ef9b 216px,#d1ed9c 224px,#caea9e 232px,#c6e89f 240px,#bfe5a0 248px,#b8e2a1 256px,#aedea3 264px,#a4daa4 272px,#94d4a4 280px,#84cea5 288px,#79c9a5 296px,#7ccaa5 304px,#86cfa5 312px,#94d4a4 320px,#9cd7a4 328px,#9fd8a4 336px,#a2d9a4 344px,#9fd8a4 352px,#9fd8a4 360px,#9cd7a4 368px,#9cd7a4 376px,#99d6a4 384px,#94d4a4 392px,#8fd2a4 400px,#84cea5 408px,#74c7a5 416px,#60bba8 424px,#50a9af 432px,#3f97b7 440px,#358bbc 448px,#3387bc 456px,#358bbc 464px,#3f97b7 472px,#4ba4b1 480px,#58b2ac 488px,#66c2a5 496px,#76c8a5 504px,#84cea5 512px,#91d3a4 520px,#9cd7a4 528px,#a7dba4 536px,#aedea3 544px,#b5e1a2 552px)"></i><i style="top:196px;background:linear-gradient(90deg,#bce4a0 0px,#b8e2a1 8px,#b5e1a2 16px,#b1dfa3 24px,#acdda4 32px,#aadca4 40px,#a7dba4 48px,#a4daa4 56px,#a4daa4 64px,#a4daa4 72px,#a7dba4 80px,#acdda4 88px,#b3e0a2 96px,#bae3a1 104px,#c1e6a0 112px,#caea9e 120px,#d1ed9c 128px,#d6ee9b 136px,#daf09a 144px,#dff299 152px,#e1f399 160px,#e4f498 168px,#e4f498 176px,#e4f498 184px,#e1f399 192px,#dff299 200px,#daf09a 208px,#d6ee9b 216px,#d1ed9c 224px,#caea9e 232px,#c3e79f 240px,#bfe5a0 248px,#b8e2a1 256px,#aedea3 264px,#a2d9a4 272px,#91d3a4 280px,#7ecca5 288px,#71c6a5 296px,#76c8a5 304px,#84cea5 312px,#91d3a4 320px,#9cd7a4 328px,#9fd8a4 336px,#a2d9a4 344px,#9fd8a4 352px,#9fd8a4 360px,#9cd7a4 368px,#99d6a4 376px,#97d5a4 384px,#94d4a4 392px,#8fd2a4 400px,#84cea5 408px,#79c9a5 416px,#69c3a5 424px,#5ab4ab 432px,#4ba4b1 440px,#439bb5 448px,#3f97b7 456px,#4199b6 464px,#49a2b2 472px,#54aead 480px,#5eb9a9 488px,#6bc4a5 496px,#79c9a5 504px,#86cfa5 512px,#94d4a4 520px,#9fd8a4 528px,#a7dba4 536px,#aedea3 544px,#b5e1a2 552px)"></i><i style="top:200px;background:linear-gradient(90deg,#bfe5a0 0px,#bce4a0 8px,#b8e2a1 16px,#b5e1a2 24px,#b3e0a2 32px,#aedea3 40px,#aedea3 48px,#acdda4 56px,#acdda4 64px,#acdda4 72px,#b1dfa3 80px,#b3e0a2 88px,#bae3a1 96px,#bfe5a0 104px,#c6e89f 112px,#cdeb9d 120px,#d3ed9c 128px,#d8ef9b 136px,#ddf19a 144px,#e1f399 152px,#e1f399 160px,#e4f498 168px,#e4f498 176px,#e4f498 184px,#e1f399 192px,#dff299 200px,#daf09a 208px,#d6ee9b 216px,#cfec9d 224px,#caea9e 232px,#c3e79f 240px,#bfe5a0 248px,#b8e2a1 256px,#aedea3 264px,#a4daa4 272px,#91d3a4 280px,#7ccaa5 288px,#6ec5a5 296px,#74c7a5 304px,#84cea5 312px,#91d3a4 320px,#9cd7a4 328px,#9fd8a4 336px,#a2d9a4 344px,#9fd8a4 352px,#9cd7a4 360px,#99d6a4 368px,#97d5a4 376px,#97d5a4 384px,#94d4a4 392px,#8fd2a4 400px,#86cfa5 408px,#7ecca5 416px,#71c6a5 424px,#62bda7 432px,#58b2ac 440px,#50a9af 448px,#4ea7b0 456px,#4ea7b0 464px,#54aead 472px,#5cb7aa 480px,#66c2a5 488px,#71c6a5 496px,#7ecca5 504px,#89d0a4 512px,#97d5a4 520px,#9fd8a4 528px,#aadca4 536px,#b1dfa3 544px,#b5e1a2 552px)"></i><i style="top:204px;background:linear-gradient(90deg,#c1e6a0 0px,#bfe5a0 8px,#bce4a0 16px,#bae3a1 24px,#b8e2a1 32px,#b5e1a2 40px,#b3e0a2 48px,#b3e0a2 56px,#b3e0a2 64px,#b3e0a2 72px,#b8e2a1 80px,#bae3a1 88px,#bfe5a0 96px,#c6e89f 104px,#caea9e 112px,#d1ed9c 120px,#d6ee9b 128px,#daf09a 136px,#dff299 144px,#e1f399 152px,#e4f498 160px,#e4f498 168px,#e4f498 176px,#e4f498 184px,#e1f399 192px,#dff299 200px,#daf09a 208px,#d6ee9b 216px,#cfec9d 224px,#c8e99e 232px,#c3e79f 240px,#bce4a0 248px,#b8e2a1 256px,#b1dfa3 264px,#a4daa4 272px,#94d4a4 280px,#81cda5 288px,#74c7a5 296px,#76c8a5 304px,#86cfa5 312px,#94d4a4 320px,#9cd7a4 328px,#a2d9a4 336px,#9fd8a4 344px,#9cd7a4 352px,#99d6a4 360px,#97d5a4 368px,#94d4a4 376px,#94d4a4 384px,#91d3a4 392px,#8fd2a4 400px,#89d0a4 408px,#81cda5 416px,#76c8a5 424px,#6bc4a5 432px,#62bda7 440px,#5cb7aa 448px,#58b2ac 456px,#5ab4ab 464px,#5eb9a9 472px,#64c0a6 480px,#6ec5a5 488px,#79c9a5 496px,#84cea5 504px,#8fd2a4 512px,#99d6a4 520px,#a2d9a4 528px,#aadca4 536px,#b1dfa3 544px,#b5e1a2 552px)"></i><i style="top:208px;background:linear-gradient(90deg,#c6e89f 0px,#c1e6a0 8px,#bfe5a0 16px,#bce4a0 24px,#bce4a0 32px,#bae3a1 40px,#b8e2a1 48px,#b8e2a1 56px,#bae3a1 64px,#bae3a1 72px,#bce4a0 80px,#c1e6a0 88px,#c6e89f 96px,#caea9e 104px,#cfec9d 112px,#d3ed9c 120px,#daf09a 128px,#ddf19a 136px,#e1f399 144px,#e4f498 152px,#e4f498 160px,#e6f598 168px,#e6f598 176px,#e4f498 184px,#e1f399 192px,#dff299 200px,#daf09a 208px,#d3ed9c 216px,#cfec9d 224px,#c8e99e 232px,#c1e6a0 240px,#bce4a0 248px,#b8e2a1 256px,#b1dfa3 264px,#aadca4 272px,#99d6a4 280px,#89d0a4 288px,#7ecca5 296px,#81cda5 304px,#8cd1a4 312px,#99d6a4 320px,#9fd8a4 328px,#a2d9a4 336px,#9fd8a4 344px,#99d6a4 352px,#97d5a4 360px,#91d3a4 368px,#8fd2a4 376px,#8fd2a4 384px,#8fd2a4 392px,#8fd2a4 400px,#8cd1a4 408px,#86cfa5 416px,#7ecca5 424px,#74c7a5 432px,#6bc4a5 440px,#66c2a5 448px,#62bda7 456px,#64c0a6 464px,#66c2a5 472px,#6ec5a5 480px,#76c8a5 488px,#7ecca5 496px,#89d0a4 504px,#91d3a4 512px,#9cd7a4 520px,#a4daa4 528px,#acdda4 536px,#b1dfa3 544px,#b8e2a1 552px)"></i><i style="top:212px;background:linear-gradient(90deg,#c8e99e 0px,#c6e89f 8px,#c3e79f 16px,#c1e6a0 24px,#bfe5a0 32px,#bfe5a0 40px,#bfe5a0 48px,#bfe5a0 56px,#bfe5a0 64px,#c1e6a0 72px,#c3e79f 80px,#c6e89f 88px,#caea9e 96px,#cfec9d 104px,#d3ed9c 112px,#d8ef9b 120px,#ddf19a 128px,#e1f399 136px,#e4f498 144px,#e6f598 152px,#e6f598 160px,#e6f598 168px,#e6f598 176px,#e6f598 184px,#e1f399 192px,#dff299 200px,#daf09a 208px,#d3ed9c 216px,#cfec9d 224px,#c8e99e 232px,#c1e6a0 240px,#bce4a0 248px,#b8e2a1 256px,#b3e0a2 264px,#acdda4 272px,#a2d9a4 280px,#94d4a4 288px,#8cd1a4 296px,#8cd1a4 304px,#94d4a4 312px,#9fd8a4 320px,#a2d9a4 328px,#a2d9a4 336px,#9fd8a4 344px,#97d5a4 352px,#91d3a4 360px,#8cd1a4 368px,#89d0a4 376px,#8cd1a4 384px,#8cd1a4 392px,#8fd2a4 400px,#8cd1a4 408px,#89d0a4 416px,#84cea5 424px,#7ccaa5 432px,#76c8a5 440px,#71c6a5 448px,#6ec5a5 456px,#6ec5a5 464px,#71c6a5 472px,#76c8a5 480px,#7ecca5 488px,#86cfa5 496px,#8fd2a4 504px,#97d5a4 512px,#9fd8a4 520px,#a7dba4 528px,#acdda4 536px,#b3e0a2 544px,#b8e2a1 552px)"></i><i style="top:216px;background:linear-gradient(90deg,#caea9e 0px,#c8e99e 8px,#c6e89f 16px,#c6e89f 24px,#c3e79f 32px,#c3e79f 40px,#c3e79f 48px,#c3e79f 56px,#c3e79f 64px,#c6e89f 72px,#c8e99e 80px,#cdeb9d 88px,#cfec9d 96px,#d3ed9c 104px,#d8ef9b 112px,#ddf19a 120px,#dff299 128px,#e4f498 136px,#e6f598 144px,#e7f59a 152px,#e7f59a 160px,#e7f59a 168px,#e7f59a 176px,#e6f598 184px,#e4f498 192px,#dff299 200px,#daf09a 208px,#d6ee9b 216px,#cfec9d 224px,#c8e99e 232px,#c1e6a0 240px,#bae3a1 248px,#b8e2a1 256px,#b5e1a2 264px,#b1dfa3 272px,#aadca4 280px,#9fd8a4 288px,#97d5a4 296px,#99d6a4 304px,#9fd8a4 312px,#a4daa4 320px,#a7dba4 328px,#a4daa4 336px,#9cd7a4 344px,#94d4a4 352px,#89d0a4 360px,#84cea5 368px,#81cda5 376px,#84cea5 384px,#89d0a4 392px,#8cd1a4 400px,#8cd1a4 408px,#8cd1a4 416px,#89d0a4 424px,#84cea5 432px,#7ecca5 440px,#7ccaa5 448px,#79c9a5 456px,#79c9a5 464px,#7ccaa5 472px,#7ecca5 480px,#84cea5 488px,#8cd1a4 496px,#94d4a4 504px,#99d6a4 512px,#a2d9a4 520px,#aadca4 528px,#aedea3 536px,#b3e0a2 544px,#b8e2a1 552px)"></i><i style="top:220px;background:linear-gradient(90deg,#cdeb9d 0px,#caea9e 8px,#caea9e 16px,#c8e99e 24px,#c8e99e 32px,#c8e99e 40px,#c8e99e 48px,#c8e99e 56px,#c8e99e 64px,#caea9e 72px,#cdeb9d 80px,#d1ed9c 88px,#d3ed9c 96px,#d8ef9b 104px,#ddf19a 112px,#dff299 120px,#e4f498 128px,#e6f598 136px,#e7f59a 144px,#e8f69b 152px,#e9f69d 160px,#e9f69d 168px,#e8f69b 176px,#e7f59a 184px,#e6f598 192px,#e1f399 200px,#ddf19a 208px,#d6ee9b 216px,#cfec9d 224px,#c8e99e 232px,#bfe5a0 240px,#bae3a1 248px,#b5e1a2 256px,#b5e1a2 264px,#b3e0a2 272px,#aedea3 280px,#a7dba4 288px,#a4daa4 296px,#a4daa4 304px,#a7dba4 312px,#acdda4 320px,#acdda4 328px,#a7dba4 336px,#9cd7a4 344px,#8fd2a4 352px,#81cda5 360px,#79c9a5 368px,#79c9a5 376px,#7ecca5 384px,#84cea5 392px,#89d0a4 400px,#8cd1a4 408px,#8fd2a4 416px,#8cd1a4 424px,#89d0a4 432px,#86cfa5 440px,#84cea5 448px,#81cda5 456px,#81cda5 464px,#84cea5 472px,#86cfa5 480px,#8cd1a4 488px,#91d3a4 496px,#97d5a4 504px,#9fd8a4 512px,#a4daa4 520px,#acdda4 528px,#b1dfa3 536px,#b5e1a2 544px,#bae3a1 552px)"></i><i style="top:224px;background:linear-gradient(90deg,#cfec9d 0px,#cfec9d 8px,#cdeb9d 16px,#cdeb9d 24px,#caea9e 32px,#caea9e 40px,#cdeb9d 48px,#cdeb9d 56px,#cdeb9d 64px,#cfec9d 72px,#d1ed9c 80px,#d6ee9b 88px,#d8ef9b 96px,#ddf19a 104px,#dff299 112px,#e4f498 120px,#e6f598 128px,#e8f69b 136px,#e9f69d 144px,#eaf79e 152px,#eaf79e 160px,#eaf79e 168px,#eaf79e 176px,#e9f69d 184px,#e7f59a 192px,#e4f498 200px,#dff299 208px,#d8ef9b 216px,#cfec9d 224px,#c8e99e 232px,#bfe5a0 240px,#b8e2a1 248px,#b3e0a2 256px,#b3e0a2 264px,#b3e0a2 272px,#b1dfa3 280px,#aedea3 288px,#acdda4 296px,#acdda4 304px,#aedea3 312px,#b1dfa3 320px,#b1dfa3 328px,#aadca4 336px,#9cd7a4 344px,#89d0a4 352px,#76c8a5 360px,#6ec5a5 368px,#6ec5a5 376px,#76c8a5 384px,#81cda5 392px,#86cfa5 400px,#8cd1a4 408px,#8fd2a4 416px,#8fd2a4 424px,#8fd2a4 432px,#8cd1a4 440px,#89d0a4 448px,#89d0a4 456px,#89d0a4 464px,#8cd1a4 472px,#8fd2a4 480px,#91d3a4 488px,#97d5a4 496px,#9cd7a4 504px,#a2d9a4 512px,#a7dba4 520px,#aedea3 528px,#b3e0a2 536px,#b8e2a1 544px,#bae3a1 552px)"></i><i style="top:228px;background:linear-gradient(90deg,#d1ed9c 0px,#d1ed9c 8px,#cfec9d 16px,#cfec9d 24px,#cfec9d 32px,#cfec9d 40px,#cfec9d 48px,#d1ed9c 56px,#d1ed9c 64px,#d3ed9c 72px,#d6ee9b 80px,#d8ef9b 88px,#ddf19a 96px,#dff299 104px,#e4f498 112px,#e7f59a 120px,#e8f69b 128px,#e9f69d 136px,#eaf79e 144px,#ebf7a0 152px,#ecf7a1 160px,#ecf7a1 168px,#ebf7a0 176px,#ebf7a0 184px,#e9f69d 192px,#e7f59a 200px,#e1f399 208px,#daf09a 216px,#d1ed9c 224px,#c8e99e 232px,#bfe5a0 240px,#b8e2a1 248px,#b3e0a2 256px,#b3e0a2 264px,#b5e1a2 272px,#b5e1a2 280px,#b3e0a2 288px,#b1dfa3 296px,#b3e0a2 304px,#b5e1a2 312px,#b8e2a1 320px,#b5e1a2 328px,#acdda4 336px,#9cd7a4 344px,#81cda5 352px,#6bc4a5 360px,#62bda7 368px,#64c0a6 376px,#71c6a5 384px,#7ccaa5 392px,#86cfa5 400px,#8cd1a4 408px,#91d3a4 416px,#91d3a4 424px,#91d3a4 432px,#91d3a4 440px,#91d3a4 448px,#8fd2a4 456px,#91d3a4 464px,#91d3a4 472px,#94d4a4 480px,#97d5a4 488px,#9cd7a4 496px,#a2d9a4 504px,#a7dba4 512px,#acdda4 520px,#aedea3 528px,#b3e0a2 536px,#b8e2a1 544px,#bce4a0 552px)"></i><i style="top:232px;background:linear-gradient(90deg,#d3ed9c 0px,#d3ed9c 8px,#d3ed9c 16px,#d1ed9c 24px,#d1ed9c 32px,#d3ed9c 40px,#d3ed9c 48px,#d3ed9c 56px,#d6ee9b 64px,#d8ef9b 72px,#daf09a 80px,#ddf19a 88px,#e1f399 96px,#e4f498 104px,#e7f59a 112px,#e8f69b 120px,#eaf79e 128px,#ebf7a0 136px,#ecf7a1 144px,#edf8a3 152px,#eef8a4 160px,#eef8a4 168px,#eef8a4 176px,#edf8a3 184px,#ebf7a0 192px,#e9f69d 200px,#e6f598 208px,#ddf19a 216px,#d3ed9c 224px,#caea9e 232px,#c1e6a0 240px,#bae3a1 248px,#b5e1a2 256px,#b5e1a2 264px,#b5e1a2 272px,#b8e2a1 280px,#b5e1a2 288px,#b5e1a2 296px,#b8e2a1 304px,#bae3a1 312px,#bce4a0 320px,#bae3a1 328px,#b1dfa3 336px,#9cd7a4 344px,#7ccaa5 352px,#62bda7 360px,#5ab4ab 368px,#5eb9a9 376px,#69c3a5 384px,#79c9a5 392px,#84cea5 400px,#8cd1a4 408px,#91d3a4 416px,#94d4a4 424px,#97d5a4 432px,#97d5a4 440px,#97d5a4 448px,#97d5a4 456px,#97d5a4 464px,#97d5a4 472px,#99d6a4 480px,#9cd7a4 488px,#a2d9a4 496px,#a4daa4 504px,#aadca4 512px,#aedea3 520px,#b1dfa3 528px,#b5e1a2 536px,#bae3a1 544px,#bce4a0 552px)"></i><i style="top:236px;background:linear-gradient(90deg,#d6ee9b 0px,#d6ee9b 8px,#d6ee9b 16px,#d6ee9b 24px,#d6ee9b 32px,#d6ee9b 40px,#d6ee9b 48px,#d8ef9b 56px,#daf09a 64px,#ddf19a 72px,#dff299 80px,#e1f399 88px,#e4f498 96px,#e7f59a 104px,#e8f69b 112px,#eaf79e 120px,#ecf7a1 128px,#edf8a3 136px,#eef8a4 144px,#eff9a6 152px,#f0f9a7 160px,#f0f9a7 168px,#f0f9a7 176px,#eff9a6 184px,#eef8a4 192px,#ebf7a0 200px,#e8f69b 208px,#e1f399 216px,#d8ef9b 224px,#cdeb9d 232px,#c3e79f 240px,#bce4a0 248px,#b8e2a1 256px,#b8e2a1 264px,#b8e2a1 272px,#bae3a1 280px,#bae3a1 288px,#bae3a1 296px,#bce4a0 304px,#bfe5a0 312px,#c1e6a0 320px,#c1e6a0 328px,#b5e1a2 336px,#9fd8a4 344px,#79c9a5 352px,#5cb7aa 360px,#54aead 368px,#5ab4ab 376px,#66c2a5 384px,#76c8a5 392px,#84cea5 400px,#8fd2a4 408px,#94d4a4 416px,#97d5a4 424px,#99d6a4 432px,#99d6a4 440px,#99d6a4 448px,#99d6a4 456px,#9cd7a4 464px,#9cd7a4 472px,#9fd8a4 480px,#a2d9a4 488px,#a4daa4 496px,#aadca4 504px,#acdda4 512px,#b1dfa3 520px,#b3e0a2 528px,#b8e2a1 536px,#bae3a1 544px,#bfe5a0 552px)"></i><i style="top:240px;background:linear-gradient(90deg,#d8ef9b 0px,#d8ef9b 8px,#d8ef9b 16px,#d8ef9b 24px,#d8ef9b 32px,#d8ef9b 40px,#daf09a 48px,#daf09a 56px,#ddf19a 64px,#dff299 72px,#e1f399 80px,#e4f498 88px,#e7f59a 96px,#e8f69b 104px,#eaf79e 112px,#ecf7a1 120px,#edf8a3 128px,#eff9a6 136px,#f1f9a9 144px,#f2faaa 152px,#f3faac 160px,#f3faac 168px,#f3faac 176px,#f3faac 184px,#f1f9a9 192px,#eef8a4 200px,#ebf7a0 208px,#e7f59a 216px,#ddf19a 224px,#d1ed9c 232px,#c8e99e 240px,#c1e6a0 248px,#bae3a1 256px,#bae3a1 264px,#bce4a0 272px,#bce4a0 280px,#bce4a0 288px,#bce4a0 296px,#bfe5a0 304px,#c1e6a0 312px,#c3e79f 320px,#c3e79f 328px,#bae3a1 336px,#a2d9a4 344px,#7ccaa5 352px,#5eb9a9 360px,#54aead 368px,#5ab4ab 376px,#69c3a5 384px,#79c9a5 392px,#86cfa5 400px,#8fd2a4 408px,#97d5a4 416px,#99d6a4 424px,#9cd7a4 432px,#9fd8a4 440px,#9fd8a4 448px,#9fd8a4 456px,#a2d9a4 464px,#a2d9a4 472px,#a4daa4 480px,#a7dba4 488px,#aadca4 496px,#acdda4 504px,#aedea3 512px,#b3e0a2 520px,#b5e1a2 528px,#bae3a1 536px,#bce4a0 544px,#bfe5a0 552px)"></i><i style="top:244px;background:linear-gradient(90deg,#daf09a 0px,#daf09a 8px,#daf09a 16px,#daf09a 24px,#daf09a 32px,#ddf19a 40px,#ddf19a 48px,#dff299 56px,#e1f399 64px,#e4f498 72px,#e6f598 80px,#e7f59a 88px,#e8f69b 96px,#eaf79e 104px,#ecf7a1 112px,#eef8a4 120px,#eff9a6 128px,#f1f9a9 136px,#f3faac 144px,#f5fbaf 152px,#f6fbb0 160px,#f7fcb2 168px,#f7fcb2 176px,#f6fbb0 184px,#f5fbaf 192px,#f2faaa 200px,#eef8a4 208px,#eaf79e 216px,#e4f498 224px,#d8ef9b 232px,#cdeb9d 240px,#c6e89f 248px,#c1e6a0 256px,#bfe5a0 264px,#bfe5a0 272px,#bfe5a0 280px,#bfe5a0 288px,#bfe5a0 296px,#c1e6a0 304px,#c3e79f 312px,#c6e89f 320px,#c3e79f 328px,#bae3a1 336px,#a4daa4 344px,#81cda5 352px,#64c0a6 360px,#5ab4ab 368px,#60bba8 376px,#6bc4a5 384px,#7ccaa5 392px,#89d0a4 400px,#91d3a4 408px,#99d6a4 416px,#9cd7a4 424px,#9fd8a4 432px,#a2d9a4 440px,#a2d9a4 448px,#a4daa4 456px,#a4daa4 464px,#a7dba4 472px,#a7dba4 480px,#aadca4 488px,#acdda4 496px,#aedea3 504px,#b1dfa3 512px,#b5e1a2 520px,#b8e2a1 528px,#bae3a1 536px,#bfe5a0 544px,#c1e6a0 552px)"></i><i style="top:248px;background:linear-gradient(90deg,#ddf19a 0px,#ddf19a 8px,#ddf19a 16px,#ddf19a 24px,#ddf19a 32px,#dff299 40px,#dff299 48px,#e1f399 56px,#e4f498 64px,#e6f598 72px,#e7f59a 80px,#e8f69b 88px,#eaf79e 96px,#ecf7a1 104px,#edf8a3 112px,#eff9a6 120px,#f1f9a9 128px,#f3faac 136px,#f6fbb0 144px,#f7fcb2 152px,#f9fcb5 160px,#fbfdb8 168px,#fbfdb8 176px,#fbfdb8 184px,#f9fcb5 192px,#f6fbb0 200px,#f2faaa 208px,#edf8a3 216px,#e8f69b 224px,#dff299 232px,#d3ed9c 240px,#caea9e 248px,#c6e89f 256px,#c3e79f 264px,#c3e79f 272px,#c3e79f 280px,#c3e79f 288px,#c3e79f 296px,#c3e79f 304px,#c3e79f 312px,#c3e79f 320px,#c3e79f 328px,#bae3a1 336px,#aadca4 344px,#8cd1a4 352px,#71c6a5 360px,#64c0a6 368px,#69c3a5 376px,#74c7a5 384px,#81cda5 392px,#8cd1a4 400px,#94d4a4 408px,#9cd7a4 416px,#9fd8a4 424px,#a2d9a4 432px,#a4daa4 440px,#a7dba4 448px,#a7dba4 456px,#aadca4 464px,#aadca4 472px,#acdda4 480px,#aedea3 488px,#aedea3 496px,#b1dfa3 504px,#b5e1a2 512px,#b8e2a1 520px,#bae3a1 528px,#bce4a0 536px,#bfe5a0 544px,#c1e6a0 552px)"></i><i style="top:252px;background:linear-gradient(90deg,#dff299 0px,#dff299 8px,#dff299 16px,#dff299 24px,#dff299 32px,#e1f399 40px,#e1f399 48px,#e4f498 56px,#e6f598 64px,#e7f59a 72px,#e8f69b 80px,#eaf79e 88px,#ebf7a0 96px,#edf8a3 104px,#eff9a6 112px,#f1f9a9 120px,#f3faac 128px,#f6fbb0 136px,#f8fcb4 144px,#fbfdb8 152px,#fdfebb 160px,#ffffbe 168px,#fffebe 176px,#fffebe 184px,#ffffbe 192px,#fcfeba 200px,#f7fcb2 208px,#f2faaa 216px,#ecf7a1 224px,#e6f598 232px,#daf09a 240px,#d1ed9c 248px,#cdeb9d 256px,#c8e99e 264px,#c8e99e 272px,#c6e89f 280px,#c6e89f 288px,#c6e89f 296px,#c3e79f 304px,#c3e79f 312px,#c3e79f 320px,#c1e6a0 328px,#bae3a1 336px,#acdda4 344px,#97d5a4 352px,#7ecca5 360px,#74c7a5 368px,#74c7a5 376px,#7ccaa5 384px,#86cfa5 392px,#91d3a4 400px,#99d6a4 408px,#9fd8a4 416px,#a2d9a4 424px,#a7dba4 432px,#a7dba4 440px,#aadca4 448px,#aadca4 456px,#acdda4 464px,#acdda4 472px,#aedea3 480px,#b1dfa3 488px,#b3e0a2 496px,#b5e1a2 504px,#b8e2a1 512px,#bae3a1 520px,#bce4a0 528px,#bfe5a0 536px,#c1e6a0 544px,#c3e79f 552px)"></i><i style="top:256px;background:linear-gradient(90deg,#dff299 0px,#dff299 8px,#e1f399 16px,#e1f399 24px,#e1f399 32px,#e4f498 40px,#e6f598 48px,#e6f598 56px,#e7f59a 64px,#e8f69b 72px,#eaf79e 80px,#ebf7a0 88px,#edf8a3 96px,#eff9a6 104px,#f1f9a9 112px,#f3faac 120px,#f6fbb0 128px,#f8fcb4 136px,#fbfdb8 144px,#fefebd 152px,#fffdbc 160px,#fffab6 168px,#fff8b4 176px,#fff7b2 184px,#fff8b4 192px,#fffcba 200px,#fdfebb 208px,#f7fcb2 216px,#f0f9a7 224px,#eaf79e 232px,#e1f399 240px,#d8ef9b 248px,#d1ed9c 256px,#cfec9d 264px,#cdeb9d 272px,#caea9e 280px,#c8e99e 288px,#c8e99e 296px,#c6e89f 304px,#c6e89f 312px,#c3e79f 320px,#c1e6a0 328px,#bce4a0 336px,#b1dfa3 344px,#9fd8a4 352px,#8fd2a4 360px,#84cea5 368px,#81cda5 376px,#86cfa5 384px,#8fd2a4 392px,#97d5a4 400px,#9cd7a4 408px,#a2d9a4 416px,#a7dba4 424px,#aadca4 432px,#acdda4 440px,#acdda4 448px,#aedea3 456px,#aedea3 464px,#b1dfa3 472px,#b1dfa3 480px,#b3e0a2 488px,#b5e1a2 496px,#b8e2a1 504px,#b8e2a1 512px,#bae3a1 520px,#bce4a0 528px,#bfe5a0 536px,#c1e6a0 544px,#c6e89f 552px)"></i><i style="top:260px;background:linear-gradient(90deg,#e1f399 0px,#e1f399 8px,#e1f399 16px,#e4f498 24px,#e4f498 32px,#e6f598 40px,#e7f59a 48px,#e7f59a 56px,#e8f69b 64px,#eaf79e 72px,#ebf7a0 80px,#edf8a3 88px,#eef8a4 96px,#f0f9a7 104px,#f2faaa 112px,#f5fbaf 120px,#f8fcb4 128px,#fbfdb8 136px,#fefebd 144px,#fffcba 152px,#fff8b4 160px,#fff3ac 168px,#fff1a8 176px,#feefa3 184px,#fff0a6 192px,#fff3ac 200px,#fffbb8 208px,#fcfeba 216px,#f5fbaf 224px,#eef8a4 232px,#e8f69b 240px,#dff299 248px,#d8ef9b 256px,#d3ed9c 264px,#cfec9d 272px,#cfec9d 280px,#cdeb9d 288px,#caea9e 296px,#caea9e 304px,#c8e99e 312px,#c8e99e 320px,#c3e79f 328px,#bfe5a0 336px,#b5e1a2 344px,#aadca4 352px,#9cd7a4 360px,#91d3a4 368px,#8fd2a4 376px,#91d3a4 384px,#97d5a4 392px,#9cd7a4 400px,#a2d9a4 408px,#a7dba4 416px,#aadca4 424px,#acdda4 432px,#aedea3 440px,#aedea3 448px,#b1dfa3 456px,#b1dfa3 464px,#b3e0a2 472px,#b3e0a2 480px,#b5e1a2 488px,#b8e2a1 496px,#bae3a1 504px,#bae3a1 512px,#bce4a0 520px,#bfe5a0 528px,#c1e6a0 536px,#c3e79f 544px,#c6e89f 552px)"></i><i style="top:264px;background:linear-gradient(90deg,#e4f498 0px,#e4f498 8px,#e4f498 16px,#e6f598 24px,#e6f598 32px,#e7f59a 40px,#e8f69b 48px,#e8f69b 56px,#eaf79e 64px,#ebf7a0 72px,#ecf7a1 80px,#eef8a4 88px,#f0f9a7 96px,#f2faaa 104px,#f4faad 112px,#f7fcb2 120px,#fafdb7 128px,#fdfebb 136px,#fffdbc 144px,#fff8b4 152px,#fff2aa 160px,#feeda1 168px,#fee999 176px,#fee695 184px,#fee695 192px,#feea9b 200px,#fff2aa 208px,#fffcba 216px,#fafdb7 224px,#f2faaa 232px,#ecf7a1 240px,#e6f598 248px,#dff299 256px,#d8ef9b 264px,#d3ed9c 272px,#d1ed9c 280px,#cfec9d 288px,#cfec9d 296px,#cfec9d 304px,#cdeb9d 312px,#cdeb9d 320px,#caea9e 328px,#c3e79f 336px,#bce4a0 344px,#b3e0a2 352px,#a7dba4 360px,#9fd8a4 368px,#99d6a4 376px,#9cd7a4 384px,#9fd8a4 392px,#a2d9a4 400px,#a7dba4 408px,#aadca4 416px,#acdda4 424px,#aedea3 432px,#b1dfa3 440px,#b3e0a2 448px,#b3e0a2 456px,#b5e1a2 464px,#b5e1a2 472px,#b8e2a1 480px,#b8e2a1 488px,#bae3a1 496px,#bae3a1 504px,#bce4a0 512px,#bfe5a0 520px,#c1e6a0 528px,#c3e79f 536px,#c6e89f 544px,#c8e99e 552px)"></i><i style="top:268px;background:linear-gradient(90deg,#e4f498 0px,#e6f598 8px,#e6f598 16px,#e6f598 24px,#e7f59a 32px,#e8f69b 40px,#e8f69b 48px,#e9f69d 56px,#ebf7a0 64px,#ecf7a1 72px,#edf8a3 80px,#eff9a6 88px,#f1f9a9 96px,#f3faac 104px,#f6fbb0 112px,#f8fcb4 120px,#fcfeba 128px,#fffebe 136px,#fffab6 144px,#fff3ac 152px,#feeda1 160px,#fee797 168px,#fee18d 176px,#feda86 184px,#feda86 192px,#fee08b 200px,#fee999 208px,#fff3ac 216px,#ffffbe 224px,#f7fcb2 232px,#eff9a6 240px,#e9f69d 248px,#e4f498 256px,#ddf19a 264px,#d8ef9b 272px,#d6ee9b 280px,#d3ed9c 288px,#d3ed9c 296px,#d3ed9c 304px,#d3ed9c 312px,#d3ed9c 320px,#d1ed9c 328px,#caea9e 336px,#c3e79f 344px,#bae3a1 352px,#b1dfa3 360px,#aadca4 368px,#a4daa4 376px,#a4daa4 384px,#a7dba4 392px,#aadca4 400px,#acdda4 408px,#aedea3 416px,#b1dfa3 424px,#b1dfa3 432px,#b3e0a2 440px,#b5e1a2 448px,#b5e1a2 456px,#b8e2a1 464px,#b8e2a1 472px,#bae3a1 480px,#bae3a1 488px,#bce4a0 496px,#bce4a0 504px,#bfe5a0 512px,#c1e6a0 520px,#c3e79f 528px,#c3e79f 536px,#c6e89f 544px,#c8e99e 552px)"></i><i style="top:272px;background:linear-gradient(90deg,#e6f598 0px,#e6f598 8px,#e7f59a 16px,#e7f59a 24px,#e8f69b 32px,#e9f69d 40px,#e9f69d 48px,#eaf79e 56px,#ebf7a0 64px,#edf8a3 72px,#eef8a4 80px,#f0f9a7 88px,#f2faaa 96px,#f4faad 104px,#f7fcb2 112px,#fafdb7 120px,#fefebd 128px,#fffcba 136px,#fff6b0 144px,#fff0a6 152px,#fee999 160px,#fee08b 168px,#fed481 176px,#fecc7b 184px,#fec877 192px,#fece7c 200px,#fede89 208px,#feeb9d 216px,#fff8b4 224px,#fbfdb8 232px,#f3faac 240px,#ecf7a1 248px,#e8f69b 256px,#e1f399 264px,#ddf19a 272px,#d8ef9b 280px,#d8ef9b 288px,#d6ee9b 296px,#d8ef9b 304px,#d8ef9b 312px,#daf09a 320px,#d8ef9b 328px,#d3ed9c 336px,#caea9e 344px,#c1e6a0 352px,#bae3a1 360px,#b3e0a2 368px,#aedea3 376px,#acdda4 384px,#acdda4 392px,#aedea3 400px,#aedea3 408px,#b1dfa3 416px,#b3e0a2 424px,#b5e1a2 432px,#b5e1a2 440px,#b8e2a1 448px,#b8e2a1 456px,#bae3a1 464px,#bae3a1 472px,#bce4a0 480px,#bce4a0 488px,#bfe5a0 496px,#bfe5a0 504px,#c1e6a0 512px,#c3e79f 520px,#c3e79f 528px,#c6e89f 536px,#c8e99e 544px,#caea9e 552px)"></i><i style="top:276px;background:linear-gradient(90deg,#e7f59a 0px,#e7f59a 8px,#e7f59a 16px,#e8f69b 24px,#e9f69d 32px,#e9f69d 40px,#eaf79e 48px,#ebf7a0 56px,#ecf7a1 64px,#eef8a4 72px,#eff9a6 80px,#f1f9a9 88px,#f3faac 96px,#f6fbb0 104px,#f8fcb4 112px,#fcfeba 120px,#ffffbe 128px,#fffab6 136px,#fff3ac 144px,#feec9f 152px,#fee491 160px,#fed683 168px,#fec877 176px,#fdbd6d 184px,#fdb96a 192px,#fdbf6f 200px,#fece7c 208px,#fee491 216px,#fff2aa 224px,#ffffbe 232px,#f6fbb0 240px,#eff9a6 248px,#eaf79e 256px,#e6f598 264px,#e1f399 272px,#ddf19a 280px,#daf09a 288px,#daf09a 296px,#ddf19a 304px,#dff299 312px,#e1f399 320px,#dff299 328px,#daf09a 336px,#d1ed9c 344px,#c8e99e 352px,#c1e6a0 360px,#bae3a1 368px,#b5e1a2 376px,#b3e0a2 384px,#b3e0a2 392px,#b3e0a2 400px,#b3e0a2 408px,#b5e1a2 416px,#b5e1a2 424px,#b8e2a1 432px,#b8e2a1 440px,#bae3a1 448px,#bae3a1 456px,#bce4a0 464px,#bce4a0 472px,#bfe5a0 480px,#bfe5a0 488px,#bfe5a0 496px,#c1e6a0 504px,#c3e79f 512px,#c3e79f 520px,#c6e89f 528px,#c8e99e 536px,#c8e99e 544px,#caea9e 552px)"></i><i style="top:280px;background:linear-gradient(90deg,#e7f59a 0px,#e8f69b 8px,#e8f69b 16px,#e9f69d 24px,#e9f69d 32px,#eaf79e 40px,#ebf7a0 48px,#ecf7a1 56px,#edf8a3 64px,#eff9a6 72px,#f0f9a7 80px,#f2faaa 88px,#f4faad 96px,#f7fcb2 104px,#fafdb7 112px,#fdfebb 120px,#fffdbc 128px,#fff7b2 136px,#fff1a8 144px,#fee999 152px,#fee08b 160px,#fece7c 168px,#fdbf6f 176px,#fdb163 184px,#fcaa5f 192px,#fdb163 200px,#fdc372 208px,#feda86 216px,#feec9f 224px,#fffbb8 232px,#f9fcb5 240px,#f2faaa 248px,#ecf7a1 256px,#e8f69b 264px,#e4f498 272px,#dff299 280px,#ddf19a 288px,#ddf19a 296px,#dff299 304px,#e4f498 312px,#e6f598 320px,#e6f598 328px,#e1f399 336px,#d8ef9b 344px,#cfec9d 352px,#c8e99e 360px,#c1e6a0 368px,#bce4a0 376px,#bae3a1 384px,#b8e2a1 392px,#b8e2a1 400px,#b8e2a1 408px,#b8e2a1 416px,#bae3a1 424px,#bae3a1 432px,#bce4a0 440px,#bce4a0 448px,#bce4a0 456px,#bfe5a0 464px,#bfe5a0 472px,#bfe5a0 480px,#c1e6a0 488px,#c1e6a0 496px,#c3e79f 504px,#c3e79f 512px,#c6e89f 520px,#c8e99e 528px,#c8e99e 536px,#caea9e 544px,#cdeb9d 552px)"></i><i style="top:284px;background:linear-gradient(90deg,#e8f69b 0px,#e8f69b 8px,#e9f69d 16px,#e9f69d 24px,#eaf79e 32px,#ebf7a0 40px,#ecf7a1 48px,#edf8a3 56px,#eef8a4 64px,#eff9a6 72px,#f1f9a9 80px,#f3faac 88px,#f5fbaf 96px,#f8fcb4 104px,#fbfdb8 112px,#fefebd 120px,#fffcba 128px,#fff6b0 136px,#feefa3 144px,#fee695 152px,#feda86 160px,#fec877 168px,#fdb768 176px,#fca85e 184px,#fb9d59 192px,#fca55d 200px,#fdb96a 208px,#fed27f 216px,#fee999 224px,#fff7b2 232px,#fcfeba 240px,#f4faad 248px,#eef8a4 256px,#eaf79e 264px,#e7f59a 272px,#e4f498 280px,#e1f399 288px,#e1f399 296px,#e1f399 304px,#e6f598 312px,#e7f59a 320px,#e7f59a 328px,#e4f498 336px,#ddf19a 344px,#d3ed9c 352px,#cdeb9d 360px,#c6e89f 368px,#c1e6a0 376px,#bfe5a0 384px,#bce4a0 392px,#bce4a0 400px,#bce4a0 408px,#bce4a0 416px,#bce4a0 424px,#bfe5a0 432px,#bfe5a0 440px,#bfe5a0 448px,#bfe5a0 456px,#c1e6a0 464px,#c1e6a0 472px,#c1e6a0 480px,#c3e79f 488px,#c3e79f 496px,#c6e89f 504px,#c6e89f 512px,#c8e99e 520px,#c8e99e 528px,#caea9e 536px,#caea9e 544px,#cdeb9d 552px)"></i><i style="top:288px;background:linear-gradient(90deg,#e8f69b 0px,#e9f69d 8px,#e9f69d 16px,#eaf79e 24px,#ebf7a0 32px,#ebf7a0 40px,#ecf7a1 48px,#edf8a3 56px,#eff9a6 64px,#f0f9a7 72px,#f2faaa 80px,#f4faad 88px,#f6fbb0 96px,#f8fcb4 104px,#fbfdb8 112px,#ffffbe 120px,#fffbb8 128px,#fff5ae 136px,#feeda1 144px,#fee593 152px,#fed683 160px,#fdc574 168px,#fdb365 176px,#fba05b 184px,#fa9857 192px,#fb9d59 200px,#fdb365 208px,#fecc7b 216px,#fee593 224px,#fff5ae 232px,#fefebd 240px,#f6fbb0 248px,#f0f9a7 256px,#ebf7a0 264px,#e8f69b 272px,#e6f598 280px,#e4f498 288px,#e4f498 296px,#e4f498 304px,#e7f59a 312px,#e8f69b 320px,#e8f69b 328px,#e6f598 336px,#dff299 344px,#d8ef9b 352px,#d1ed9c 360px,#caea9e 368px,#c6e89f 376px,#c3e79f 384px,#c1e6a0 392px,#c1e6a0 400px,#c1e6a0 408px,#c1e6a0 416px,#c1e6a0 424px,#c1e6a0 432px,#c1e6a0 440px,#c1e6a0 448px,#c1e6a0 456px,#c3e79f 464px,#c3e79f 472px,#c3e79f 480px,#c6e89f 488px,#c6e89f 496px,#c6e89f 504px,#c8e99e 512px,#c8e99e 520px,#caea9e 528px,#caea9e 536px,#cdeb9d 544px,#cdeb9d 552px)"></i><i style="top:292px;background:linear-gradient(90deg,#e9f69d 0px,#e9f69d 8px,#eaf79e 16px,#eaf79e 24px,#ebf7a0 32px,#ecf7a1 40px,#edf8a3 48px,#eef8a4 56px,#eff9a6 64px,#f1f9a9 72px,#f2faaa 80px,#f4faad 88px,#f7fcb2 96px,#f9fcb5 104px,#fcfeba 112px,#fffebe 120px,#fffab6 128px,#fff3ac 136px,#feec9f 144px,#fee491 152px,#fed683 160px,#fdc372 168px,#fdb163 176px,#fba05b 184px,#fa9656 192px,#fb9d59 200px,#fdb163 208px,#feca79 216px,#fee491 224px,#fff2aa 232px,#ffffbe 240px,#f7fcb2 248px,#f1f9a9 256px,#edf8a3 264px,#e9f69d 272px,#e7f59a 280px,#e6f598 288px,#e6f598 296px,#e6f598 304px,#e7f59a 312px,#e8f69b 320px,#e8f69b 328px,#e6f598 336px,#e1f399 344px,#daf09a 352px,#d3ed9c 360px,#cfec9d 368px,#caea9e 376px,#c8e99e 384px,#c6e89f 392px,#c3e79f 400px,#c3e79f 408px,#c3e79f 416px,#c3e79f 424px,#c3e79f 432px,#c3e79f 440px,#c3e79f 448px,#c3e79f 456px,#c6e89f 464px,#c6e89f 472px,#c6e89f 480px,#c6e89f 488px,#c8e99e 496px,#c8e99e 504px,#c8e99e 512px,#caea9e 520px,#caea9e 528px,#cdeb9d 536px,#cdeb9d 544px,#cfec9d 552px)"></i><i style="top:296px;background:linear-gradient(90deg,#e9f69d 0px,#eaf79e 8px,#eaf79e 16px,#ebf7a0 24px,#ecf7a1 32px,#ecf7a1 40px,#edf8a3 48px,#eff9a6 56px,#f0f9a7 64px,#f1f9a9 72px,#f3faac 80px,#f5fbaf 88px,#f7fcb2 96px,#fafdb7 104px,#fdfebb 112px,#fffebe 120px,#fff8b4 128px,#fff2aa 136px,#feec9f 144px,#fee491 152px,#fed683 160px,#fdc574 168px,#fdb365 176px,#fba35c 184px,#fa9b58 192px,#fba05b 200px,#fdb567 208px,#feca79 216px,#fee28f 224px,#fff2aa 232px,#fffebe 240px,#f8fcb4 248px,#f2faaa 256px,#eef8a4 264px,#ebf7a0 272px,#e8f69b 280px,#e7f59a 288px,#e6f598 296px,#e6f598 304px,#e7f59a 312px,#e7f59a 320px,#e7f59a 328px,#e6f598 336px,#e1f399 344px,#ddf19a 352px,#d8ef9b 360px,#d3ed9c 368px,#cfec9d 376px,#cdeb9d 384px,#caea9e 392px,#c8e99e 400px,#c8e99e 408px,#c6e89f 416px,#c6e89f 424px,#c6e89f 432px,#c6e89f 440px,#c6e89f 448px,#c6e89f 456px,#c8e99e 464px,#c8e99e 472px,#c8e99e 480px,#c8e99e 488px,#c8e99e 496px,#caea9e 504px,#caea9e 512px,#cdeb9d 520px,#cdeb9d 528px,#cdeb9d 536px,#cfec9d 544px,#cfec9d 552px)"></i><i style="top:300px;background:linear-gradient(90deg,#eaf79e 0px,#eaf79e 8px,#ebf7a0 16px,#ebf7a0 24px,#ecf7a1 32px,#edf8a3 40px,#eef8a4 48px,#eff9a6 56px,#f0f9a7 64px,#f2faaa 72px,#f3faac 80px,#f5fbaf 88px,#f8fcb4 96px,#fafdb7 104px,#fdfebb 112px,#fffdbc 120px,#fff8b4 128px,#fff2aa 136px,#feec9f 144px,#fee491 152px,#fed683 160px,#fdc776 168px,#fdb96a 176px,#fcaa5f 184px,#fca55d 192px,#fcaa5f 200px,#fdb96a 208px,#fece7c 216px,#fee491 224px,#fff2aa 232px,#fffdbc 240px,#f9fcb5 248px,#f3faac 256px,#eff9a6 264px,#ecf7a1 272px,#eaf79e 280px,#e8f69b 288px,#e7f59a 296px,#e7f59a 304px,#e7f59a 312px,#e7f59a 320px,#e7f59a 328px,#e6f598 336px,#e4f498 344px,#dff299 352px,#daf09a 360px,#d6ee9b 368px,#d3ed9c 376px,#cfec9d 384px,#cdeb9d 392px,#cdeb9d 400px,#caea9e 408px,#caea9e 416px,#caea9e 424px,#c8e99e 432px,#c8e99e 440px,#c8e99e 448px,#c8e99e 456px,#c8e99e 464px,#caea9e 472px,#caea9e 480px,#caea9e 488px,#caea9e 496px,#caea9e 504px,#cdeb9d 512px,#cdeb9d 520px,#cfec9d 528px,#cfec9d 536px,#cfec9d 544px,#d1ed9c 552px)"></i><i style="top:304px;background:linear-gradient(90deg,#eaf79e 0px,#ebf7a0 8px,#ebf7a0 16px,#ecf7a1 24px,#edf8a3 32px,#edf8a3 40px,#eef8a4 48px,#f0f9a7 56px,#f1f9a9 64px,#f2faaa 72px,#f4faad 80px,#f6fbb0 88px,#f8fcb4 96px,#fbfdb8 104px,#fdfebb 112px,#fffdbc 120px,#fff8b4 128px,#fff2aa 136px,#feec9f 144px,#fee593 152px,#feda86 160px,#fecc7b 168px,#fdbf6f 176px,#fdb567 184px,#fdb163 192px,#fdb567 200px,#fdc171 208px,#fed481 216px,#fee695 224px,#fff2aa 232px,#fffdbc 240px,#fafdb7 248px,#f4faad 256px,#f0f9a7 264px,#edf8a3 272px,#ebf7a0 280px,#e9f69d 288px,#e8f69b 296px,#e8f69b 304px,#e7f59a 312px,#e7f59a 320px,#e7f59a 328px,#e6f598 336px,#e4f498 344px,#e1f399 352px,#ddf19a 360px,#daf09a 368px,#d6ee9b 376px,#d3ed9c 384px,#d1ed9c 392px,#cfec9d 400px,#cfec9d 408px,#cdeb9d 416px,#cdeb9d 424px,#cdeb9d 432px,#caea9e 440px,#caea9e 448px,#caea9e 456px,#caea9e 464px,#caea9e 472px,#caea9e 480px,#cdeb9d 488px,#cdeb9d 496px,#cdeb9d 504px,#cdeb9d 512px,#cfec9d 520px,#cfec9d 528px,#cfec9d 536px,#d1ed9c 544px,#d1ed9c 552px)"></i><i style="top:308px;background:linear-gradient(90deg,#ebf7a0 0px,#ebf7a0 8px,#ecf7a1 16px,#ecf7a1 24px,#edf8a3 32px,#eef8a4 40px,#eff9a6 48px,#f0f9a7 56px,#f1f9a9 64px,#f3faac 72px,#f4faad 80px,#f6fbb0 88px,#f8fcb4 96px,#fbfdb8 104px,#fefebd 112px,#fffdbc 120px,#fff8b4 128px,#fff3ac 136px,#feeda1 144px,#fee695 152px,#fede89 160px,#fed27f 168px,#fdc776 176px,#fdbf6f 184px,#fdbb6c 192px,#fdbf6f 200px,#feca79 208px,#feda86 216px,#fee999 224px,#fff3ac 232px,#fffdbc 240px,#fafdb7 248px,#f5fbaf 256px,#f1f9a9 264px,#eef8a4 272px,#ecf7a1 280px,#ebf7a0 288px,#eaf79e 296px,#e9f69d 304px,#e8f69b 312px,#e8f69b 320px,#e7f59a 328px,#e7f59a 336px,#e6f598 344px,#e4f498 352px,#e1f399 360px,#ddf19a 368px,#daf09a 376px,#d8ef9b 384px,#d6ee9b 392px,#d3ed9c 400px,#d1ed9c 408px,#cfec9d 416px,#cfec9d 424px,#cfec9d 432px,#cdeb9d 440px,#cdeb9d 448px,#cdeb9d 456px,#cdeb9d 464px,#cdeb9d 472px,#cdeb9d 480px,#cdeb9d 488px,#cfec9d 496px,#cfec9d 504px,#cfec9d 512px,#cfec9d 520px,#d1ed9c 528px,#d1ed9c 536px,#d1ed9c 544px,#d3ed9c 552px)"></i><i style="top:312px;background:linear-gradient(90deg,#ebf7a0 0px,#ebf7a0 8px,#ecf7a1 16px,#edf8a3 24px,#edf8a3 32px,#eef8a4 40px,#eff9a6 48px,#f0f9a7 56px,#f2faaa 64px,#f3faac 72px,#f5fbaf 80px,#f6fbb0 88px,#f8fcb4 96px,#fbfdb8 104px,#fefebd 112px,#fffdbc 120px,#fffab6 128px,#fff5ae 136px,#feefa3 144px,#fee999 152px,#fee18d 160px,#fed884 168px,#fece7c 176px,#fec877 184px,#fdc776 192px,#feca79 200px,#fed481 208px,#fee18d 216px,#feeb9d 224px,#fff5ae 232px,#fffebe 240px,#fafdb7 248px,#f6fbb0 256px,#f2faaa 264px,#eff9a6 272px,#edf8a3 280px,#ecf7a1 288px,#ebf7a0 296px,#eaf79e 304px,#eaf79e 312px,#e9f69d 320px,#e9f69d 328px,#e8f69b 336px,#e7f59a 344px,#e6f598 352px,#e4f498 360px,#e1f399 368px,#ddf19a 376px,#daf09a 384px,#d8ef9b 392px,#d6ee9b 400px,#d3ed9c 408px,#d3ed9c 416px,#d1ed9c 424px,#d1ed9c 432px,#cfec9d 440px,#cfec9d 448px,#cfec9d 456px,#cfec9d 464px,#cfec9d 472px,#cfec9d 480px,#cfec9d 488px,#cfec9d 496px,#cfec9d 504px,#d1ed9c 512px,#d1ed9c 520px,#d1ed9c 528px,#d1ed9c 536px,#d3ed9c 544px,#d3ed9c 552px)"></i><i style="top:316px;background:linear-gradient(90deg,#ebf7a0 0px,#ecf7a1 8px,#ecf7a1 16px,#edf8a3 24px,#eef8a4 32px,#eff9a6 40px,#eff9a6 48px,#f1f9a9 56px,#f2faaa 64px,#f3faac 72px,#f5fbaf 80px,#f7fcb2 88px,#f9fcb5 96px,#fbfdb8 104px,#fdfebb 112px,#fffebe 120px,#fffab6 128px,#fff5ae 136px,#fff0a6 144px,#feeb9d 152px,#fee593 160px,#fede89 168px,#fed683 176px,#fed27f 184px,#fed07e 192px,#fed481 200px,#fede89 208px,#fee695 216px,#feefa3 224px,#fff7b2 232px,#fffebe 240px,#fafdb7 248px,#f6fbb0 256px,#f3faac 264px,#f1f9a9 272px,#eff9a6 280px,#eef8a4 288px,#edf8a3 296px,#ecf7a1 304px,#ecf7a1 312px,#ebf7a0 320px,#eaf79e 328px,#eaf79e 336px,#e9f69d 344px,#e8f69b 352px,#e7f59a 360px,#e4f498 368px,#e1f399 376px,#dff299 384px,#ddf19a 392px,#daf09a 400px,#d8ef9b 408px,#d6ee9b 416px,#d3ed9c 424px,#d3ed9c 432px,#d1ed9c 440px,#d1ed9c 448px,#d1ed9c 456px,#d1ed9c 464px,#d1ed9c 472px,#d1ed9c 480px,#d1ed9c 488px,#d1ed9c 496px,#d1ed9c 504px,#d1ed9c 512px,#d1ed9c 520px,#d3ed9c 528px,#d3ed9c 536px,#d3ed9c 544px,#d6ee9b 552px)"></i><i style="top:320px;background:linear-gradient(90deg,#ecf7a1 0px,#ecf7a1 8px,#edf8a3 16px,#edf8a3 24px,#eef8a4 32px,#eff9a6 40px,#f0f9a7 48px,#f1f9a9 56px,#f2faaa 64px,#f3faac 72px,#f5fbaf 80px,#f7fcb2 88px,#f9fcb5 96px,#fbfdb8 104px,#fdfebb 112px,#fffebe 120px,#fffbb8 128px,#fff6b0 136px,#fff2aa 144px,#feeda1 152px,#fee797 160px,#fee491 168px,#fede89 176px,#feda86 184px,#feda86 192px,#fede89 200px,#fee491 208px,#feea9b 216px,#fff1a8 224px,#fff8b4 232px,#ffffbe 240px,#fafdb7 248px,#f7fcb2 256px,#f4faad 264px,#f2faaa 272px,#f0f9a7 280px,#eff9a6 288px,#eff9a6 296px,#eef8a4 304px,#eef8a4 312px,#edf8a3 320px,#edf8a3 328px,#ecf7a1 336px,#ebf7a0 344px,#eaf79e 352px,#e9f69d 360px,#e7f59a 368px,#e6f598 376px,#e1f399 384px,#dff299 392px,#ddf19a 400px,#daf09a 408px,#d8ef9b 416px,#d6ee9b 424px,#d6ee9b 432px,#d3ed9c 440px,#d3ed9c 448px,#d3ed9c 456px,#d3ed9c 464px,#d3ed9c 472px,#d1ed9c 480px,#d1ed9c 488px,#d3ed9c 496px,#d3ed9c 504px,#d3ed9c 512px,#d3ed9c 520px,#d3ed9c 528px,#d3ed9c 536px,#d6ee9b 544px,#d6ee9b 552px)"></i><i style="top:324px;background:linear-gradient(90deg,#ecf7a1 0px,#ecf7a1 8px,#edf8a3 16px,#eef8a4 24px,#eef8a4 32px,#eff9a6 40px,#f0f9a7 48px,#f1f9a9 56px,#f2faaa 64px,#f4faad 72px,#f5fbaf 80px,#f7fcb2 88px,#f9fcb5 96px,#fbfdb8 104px,#fdfebb 112px,#fffebe 120px,#fffcba 128px,#fff7b2 136px,#fff3ac 144px,#fff0a6 152px,#feeb9d 160px,#fee797 168px,#fee491 176px,#fee28f 184px,#fee28f 192px,#fee593 200px,#fee999 208px,#feefa3 216px,#fff5ae 224px,#fffbb8 232px,#fefebd 240px,#fafdb7 248px,#f7fcb2 256px,#f5fbaf 264px,#f3faac 272px,#f2faaa 280px,#f1f9a9 288px,#f1f9a9 296px,#f1f9a9 304px,#f1f9a9 312px,#f1f9a9 320px,#f0f9a7 328px,#eff9a6 336px,#eef8a4 344px,#ecf7a1 352px,#ebf7a0 360px,#e9f69d 368px,#e8f69b 376px,#e6f598 384px,#e4f498 392px,#dff299 400px,#ddf19a 408px,#daf09a 416px,#daf09a 424px,#d8ef9b 432px,#d6ee9b 440px,#d6ee9b 448px,#d6ee9b 456px,#d3ed9c 464px,#d3ed9c 472px,#d3ed9c 480px,#d3ed9c 488px,#d3ed9c 496px,#d3ed9c 504px,#d3ed9c 512px,#d3ed9c 520px,#d6ee9b 528px,#d6ee9b 536px,#d6ee9b 544px,#d6ee9b 552px)"></i><i style="top:328px;background:linear-gradient(90deg,#ecf7a1 0px,#edf8a3 8px,#edf8a3 16px,#eef8a4 24px,#eff9a6 32px,#eff9a6 40px,#f0f9a7 48px,#f1f9a9 56px,#f2faaa 64px,#f4faad 72px,#f5fbaf 80px,#f7fcb2 88px,#f8fcb4 96px,#fafdb7 104px,#fdfebb 112px,#ffffbe 120px,#fffcba 128px,#fffab6 136px,#fff6b0 144px,#fff2aa 152px,#feefa3 160px,#feeb9d 168px,#fee999 176px,#fee797 184px,#fee797 192px,#feea9b 200px,#feeda1 208px,#fff1a8 216px,#fff7b2 224px,#fffcba 232px,#fefebd 240px,#fafdb7 248px,#f7fcb2 256px,#f5fbaf 264px,#f4faad 272px,#f4faad 280px,#f3faac 288px,#f4faad 296px,#f4faad 304px,#f4faad 312px,#f4faad 320px,#f3faac 328px,#f2faaa 336px,#f1f9a9 344px,#eff9a6 352px,#edf8a3 360px,#ebf7a0 368px,#e9f69d 376px,#e8f69b 384px,#e6f598 392px,#e4f498 400px,#dff299 408px,#ddf19a 416px,#ddf19a 424px,#daf09a 432px,#d8ef9b 440px,#d8ef9b 448px,#d6ee9b 456px,#d6ee9b 464px,#d6ee9b 472px,#d6ee9b 480px,#d6ee9b 488px,#d6ee9b 496px,#d6ee9b 504px,#d6ee9b 512px,#d6ee9b 520px,#d6ee9b 528px,#d6ee9b 536px,#d6ee9b 544px,#d8ef9b 552px)"></i><i style="top:332px;background:linear-gradient(90deg,#ecf7a1 0px,#edf8a3 8px,#edf8a3 16px,#eef8a4 24px,#eff9a6 32px,#f0f9a7 40px,#f0f9a7 48px,#f1f9a9 56px,#f3faac 64px,#f4faad 72px,#f5fbaf 80px,#f7fcb2 88px,#f8fcb4 96px,#fafdb7 104px,#fcfeba 112px,#fefebd 120px,#fffdbc 128px,#fffbb8 136px,#fff7b2 144px,#fff3ac 152px,#fff1a8 160px,#feefa3 168px,#feec9f 176px,#feec9f 184px,#feec9f 192px,#feeda1 200px,#fff1a8 208px,#fff5ae 216px,#fffab6 224px,#fffebe 232px,#fdfebb 240px,#fafdb7 248px,#f8fcb4 256px,#f6fbb0 264px,#f5fbaf 272px,#f5fbaf 280px,#f6fbb0 288px,#f6fbb0 296px,#f7fcb2 304px,#f8fcb4 312px,#f8fcb4 320px,#f8fcb4 328px,#f6fbb0 336px,#f4faad 344px,#f2faaa 352px,#eff9a6 360px,#edf8a3 368px,#ebf7a0 376px,#e9f69d 384px,#e7f59a 392px,#e6f598 400px,#e4f498 408px,#e1f399 416px,#dff299 424px,#ddf19a 432px,#daf09a 440px,#daf09a 448px,#d8ef9b 456px,#d8ef9b 464px,#d8ef9b 472px,#d6ee9b 480px,#d6ee9b 488px,#d6ee9b 496px,#d6ee9b 504px,#d6ee9b 512px,#d6ee9b 520px,#d8ef9b 528px,#d8ef9b 536px,#d8ef9b 544px,#d8ef9b 552px)"></i><i style="top:336px;background:linear-gradient(90deg,#edf8a3 0px,#edf8a3 8px,#eef8a4 16px,#eef8a4 24px,#eff9a6 32px,#f0f9a7 40px,#f1f9a9 48px,#f2faaa 56px,#f3faac 64px,#f4faad 72px,#f5fbaf 80px,#f6fbb0 88px,#f8fcb4 96px,#fafdb7 104px,#fcfeba 112px,#fefebd 120px,#fffebe 128px,#fffcba 136px,#fffab6 144px,#fff6b0 152px,#fff3ac 160px,#fff1a8 168px,#fff0a6 176px,#fff0a6 184px,#fff0a6 192px,#fff1a8 200px,#fff5ae 208px,#fff7b2 216px,#fffcba 224px,#ffffbe 232px,#fcfeba 240px,#fafdb7 248px,#f8fcb4 256px,#f7fcb2 264px,#f7fcb2 272px,#f7fcb2 280px,#f8fcb4 288px,#f9fcb5 296px,#fbfdb8 304px,#fcfeba 312px,#fdfebb 320px,#fcfeba 328px,#fafdb7 336px,#f8fcb4 344px,#f5fbaf 352px,#f2faaa 360px,#eff9a6 368px,#edf8a3 376px,#ebf7a0 384px,#e9f69d 392px,#e7f59a 400px,#e6f598 408px,#e4f498 416px,#e1f399 424px,#dff299 432px,#ddf19a 440px,#daf09a 448px,#daf09a 456px,#daf09a 464px,#d8ef9b 472px,#d8ef9b 480px,#d8ef9b 488px,#d8ef9b 496px,#d8ef9b 504px,#d8ef9b 512px,#d8ef9b 520px,#d8ef9b 528px,#d8ef9b 536px,#d8ef9b 544px,#d8ef9b 552px)"></i><i style="top:340px;background:linear-gradient(90deg,#edf8a3 0px,#edf8a3 8px,#eef8a4 16px,#eef8a4 24px,#eff9a6 32px,#f0f9a7 40px,#f1f9a9 48px,#f2faaa 56px,#f3faac 64px,#f4faad 72px,#f5fbaf 80px,#f6fbb0 88px,#f8fcb4 96px,#f9fcb5 104px,#fbfdb8 112px,#fdfebb 120px,#ffffbe 128px,#fffdbc 136px,#fffbb8 144px,#fff8b4 152px,#fff6b0 160px,#fff5ae 168px,#fff3ac 176px,#fff3ac 184px,#fff3ac 192px,#fff5ae 200px,#fff7b2 208px,#fffab6 216px,#fffdbc 224px,#fefebd 232px,#fcfeba 240px,#fafdb7 248px,#f9fcb5 256px,#f8fcb4 264px,#f8fcb4 272px,#f9fcb5 280px,#fafdb7 288px,#fcfeba 296px,#fefebd 304px,#fffebe 312px,#fffdbc 320px,#fffebe 328px,#fefebd 336px,#fbfdb8 344px,#f8fcb4 352px,#f4faad 360px,#f1f9a9 368px,#eff9a6 376px,#ecf7a1 384px,#eaf79e 392px,#e9f69d 400px,#e7f59a 408px,#e6f598 416px,#e4f498 424px,#e1f399 432px,#dff299 440px,#ddf19a 448px,#ddf19a 456px,#daf09a 464px,#daf09a 472px,#daf09a 480px,#daf09a 488px,#d8ef9b 496px,#d8ef9b 504px,#d8ef9b 512px,#d8ef9b 520px,#d8ef9b 528px,#daf09a 536px,#daf09a 544px,#daf09a 552px)"></i><i style="top:344px;background:linear-gradient(90deg,#edf8a3 0px,#edf8a3 8px,#eef8a4 16px,#eff9a6 24px,#eff9a6 32px,#f0f9a7 40px,#f1f9a9 48px,#f2faaa 56px,#f3faac 64px,#f4faad 72px,#f5fbaf 80px,#f6fbb0 88px,#f8fcb4 96px,#f9fcb5 104px,#fbfdb8 112px,#fcfeba 120px,#fefebd 128px,#fffebe 136px,#fffcba 144px,#fffbb8 152px,#fff8b4 160px,#fff7b2 168px,#fff6b0 176px,#fff6b0 184px,#fff7b2 192px,#fff8b4 200px,#fffab6 208px,#fffcba 216px,#fffebe 224px,#fdfebb 232px,#fbfdb8 240px,#fafdb7 248px,#f9fcb5 256px,#f9fcb5 264px,#f9fcb5 272px,#fafdb7 280px,#fcfeba 288px,#ffffbe 296px,#fffcba 304px,#fffab6 312px,#fff8b4 320px,#fff8b4 328px,#fffcba 336px,#ffffbe 344px,#fbfdb8 352px,#f7fcb2 360px,#f3faac 368px,#f0f9a7 376px,#eef8a4 384px,#ecf7a1 392px,#eaf79e 400px,#e8f69b 408px,#e7f59a 416px,#e6f598 424px,#e4f498 432px,#e1f399 440px,#dff299 448px,#ddf19a 456px,#ddf19a 464px,#ddf19a 472px,#daf09a 480px,#daf09a 488px,#daf09a 496px,#daf09a 504px,#daf09a 512px,#daf09a 520px,#daf09a 528px,#daf09a 536px,#daf09a 544px,#daf09a 552px)"></i><i style="top:348px;background:linear-gradient(90deg,#edf8a3 0px,#eef8a4 8px,#eef8a4 16px,#eff9a6 24px,#eff9a6 32px,#f0f9a7 40px,#f1f9a9 48px,#f2faaa 56px,#f3faac 64px,#f4faad 72px,#f5fbaf 80px,#f6fbb0 88px,#f7fcb2 96px,#f9fcb5 104px,#fafdb7 112px,#fcfeba 120px,#fdfebb 128px,#ffffbe 136px,#fffebe 144px,#fffcba 152px,#fffbb8 160px,#fffab6 168px,#fff8b4 176px,#fff8b4 184px,#fffab6 192px,#fffbb8 200px,#fffcba 208px,#fffebe 216px,#fefebd 224px,#fdfebb 232px,#fbfdb8 240px,#fafdb7 248px,#f9fcb5 256px,#f9fcb5 264px,#fafdb7 272px,#fcfeba 280px,#fefebd 288px,#fffdbc 296px,#fff8b4 304px,#fff5ae 312px,#fff3ac 320px,#fff5ae 328px,#fff7b2 336px,#fffcba 344px,#fdfebb 352px,#f9fcb5 360px,#f5fbaf 368px,#f2faaa 376px,#eff9a6 384px,#edf8a3 392px,#ebf7a0 400px,#e9f69d 408px,#e8f69b 416px,#e6f598 424px,#e4f498 432px,#e1f399 440px,#e1f399 448px,#dff299 456px,#dff299 464px,#ddf19a 472px,#ddf19a 480px,#ddf19a 488px,#daf09a 496px,#daf09a 504px,#daf09a 512px,#daf09a 520px,#daf09a 528px,#daf09a 536px,#daf09a 544px,#ddf19a 552px)"></i><i style="top:352px;background:linear-gradient(90deg,#edf8a3 0px,#eef8a4 8px,#eef8a4 16px,#eff9a6 24px,#eff9a6 32px,#f0f9a7 40px,#f1f9a9 48px,#f2faaa 56px,#f3faac 64px,#f4faad 72px,#f5fbaf 80px,#f6fbb0 88px,#f7fcb2 96px,#f8fcb4 104px,#fafdb7 112px,#fbfdb8 120px,#fcfeba 128px,#fefebd 136px,#ffffbe 144px,#fffebe 152px,#fffdbc 160px,#fffcba 168px,#fffbb8 176px,#fffbb8 184px,#fffcba 192px,#fffdbc 200px,#fffebe 208px,#ffffbe 216px,#fdfebb 224px,#fcfeba 232px,#fbfdb8 240px,#fafdb7 248px,#fafdb7 256px,#fafdb7 264px,#fbfdb8 272px,#fdfebb 280px,#fffebe 288px,#fffab6 296px,#fff6b0 304px,#fff1a8 312px,#fff0a6 320px,#fff1a8 328px,#fff5ae 336px,#fffab6 344px,#ffffbe 352px,#fbfdb8 360px,#f7fcb2 368px,#f3faac 376px,#f0f9a7 384px,#eef8a4 392px,#ecf7a1 400px,#eaf79e 408px,#e8f69b 416px,#e7f59a 424px,#e6f598 432px,#e4f498 440px,#e1f399 448px,#e1f399 456px,#dff299 464px,#dff299 472px,#ddf19a 480px,#ddf19a 488px,#ddf19a 496px,#ddf19a 504px,#ddf19a 512px,#ddf19a 520px,#ddf19a 528px,#ddf19a 536px,#ddf19a 544px,#ddf19a 552px)"></i><i style="top:356px;background:linear-gradient(90deg,#edf8a3 0px,#eef8a4 8px,#eef8a4 16px,#eff9a6 24px,#f0f9a7 32px,#f0f9a7 40px,#f1f9a9 48px,#f2faaa 56px,#f3faac 64px,#f3faac 72px,#f4faad 80px,#f6fbb0 88px,#f7fcb2 96px,#f8fcb4 104px,#f9fcb5 112px,#fafdb7 120px,#fcfeba 128px,#fdfebb 136px,#fefebd 144px,#ffffbe 152px,#fffebe 160px,#fffdbc 168px,#fffdbc 176px,#fffdbc 184px,#fffdbc 192px,#fffebe 200px,#ffffbe 208px,#fefebd 216px,#fdfebb 224px,#fbfdb8 232px,#fafdb7 240px,#fafdb7 248px,#fafdb7 256px,#fbfdb8 264px,#fcfeba 272px,#fefebd 280px,#fffdbc 288px,#fff8b4 296px,#fff3ac 304px,#feefa3 312px,#feeda1 320px,#feefa3 328px,#fff2aa 336px,#fff7b2 344px,#fffdbc 352px,#fcfeba 360px,#f8fcb4 368px,#f5fbaf 376px,#f2faaa 384px,#eff9a6 392px,#edf8a3 400px,#ebf7a0 408px,#e9f69d 416px,#e8f69b 424px,#e7f59a 432px,#e6f598 440px,#e4f498 448px,#e1f399 456px,#e1f399 464px,#dff299 472px,#dff299 480px,#dff299 488px,#ddf19a 496px,#ddf19a 504px,#ddf19a 512px,#ddf19a 520px,#ddf19a 528px,#ddf19a 536px,#ddf19a 544px,#ddf19a 552px)"></i><i style="top:360px;background:linear-gradient(90deg,#eef8a4 0px,#eef8a4 8px,#eef8a4 16px,#eff9a6 24px,#f0f9a7 32px,#f0f9a7 40px,#f1f9a9 48px,#f2faaa 56px,#f3faac 64px,#f3faac 72px,#f4faad 80px,#f5fbaf 88px,#f6fbb0 96px,#f7fcb2 104px,#f9fcb5 112px,#fafdb7 120px,#fbfdb8 128px,#fcfeba 136px,#fdfebb 144px,#fefebd 152px,#ffffbe 160px,#ffffbe 168px,#ffffbe 176px,#ffffbe 184px,#ffffbe 192px,#ffffbe 200px,#fefebd 208px,#fdfebb 216px,#fcfeba 224px,#fbfdb8 232px,#fafdb7 240px,#fafdb7 248px,#fafdb7 256px,#fbfdb8 264px,#fdfebb 272px,#ffffbe 280px,#fffcba 288px,#fff7b2 296px,#fff2aa 304px,#feeda1 312px,#feec9f 320px,#feeda1 328px,#fff1a8 336px,#fff6b0 344px,#fffcba 352px,#fefebd 360px,#f9fcb5 368px,#f6fbb0 376px,#f3faac 384px,#f0f9a7 392px,#eef8a4 400px,#ecf7a1 408px,#eaf79e 416px,#e9f69d 424px,#e8f69b 432px,#e7f59a 440px,#e6f598 448px,#e4f498 456px,#e1f399 464px,#e1f399 472px,#e1f399 480px,#dff299 488px,#dff299 496px,#dff299 504px,#dff299 512px,#dff299 520px,#ddf19a 528px,#ddf19a 536px,#dff299 544px,#dff299 552px)"></i><i style="top:364px;background:linear-gradient(90deg,#eef8a4 0px,#eef8a4 8px,#eff9a6 16px,#eff9a6 24px,#f0f9a7 32px,#f0f9a7 40px,#f1f9a9 48px,#f2faaa 56px,#f2faaa 64px,#f3faac 72px,#f4faad 80px,#f5fbaf 88px,#f6fbb0 96px,#f7fcb2 104px,#f8fcb4 112px,#f9fcb5 120px,#fafdb7 128px,#fbfdb8 136px,#fcfeba 144px,#fdfebb 152px,#fdfebb 160px,#fefebd 168px,#fefebd 176px,#fefebd 184px,#fefebd 192px,#fdfebb 200px,#fdfebb 208px,#fcfeba 216px,#fbfdb8 224px,#fafdb7 232px,#fafdb7 240px,#fafdb7 248px,#fafdb7 256px,#fbfdb8 264px,#fdfebb 272px,#ffffbe 280px,#fffbb8 288px,#fff6b0 296px,#fff1a8 304px,#feeda1 312px,#feec9f 320px,#feec9f 328px,#fff0a6 336px,#fff5ae 344px,#fffbb8 352px,#fefebd 360px,#fafdb7 368px,#f6fbb0 376px,#f3faac 384px,#f1f9a9 392px,#eef8a4 400px,#ecf7a1 408px,#ebf7a0 416px,#e9f69d 424px,#e8f69b 432px,#e7f59a 440px,#e6f598 448px,#e6f598 456px,#e4f498 464px,#e1f399 472px,#e1f399 480px,#e1f399 488px,#dff299 496px,#dff299 504px,#dff299 512px,#dff299 520px,#dff299 528px,#dff299 536px,#dff299 544px,#dff299 552px)"></i><i style="top:368px;background:linear-gradient(90deg,#eef8a4 0px,#eef8a4 8px,#eff9a6 16px,#eff9a6 24px,#f0f9a7 32px,#f0f9a7 40px,#f1f9a9 48px,#f2faaa 56px,#f2faaa 64px,#f3faac 72px,#f4faad 80px,#f5fbaf 88px,#f6fbb0 96px,#f7fcb2 104px,#f8fcb4 112px,#f8fcb4 120px,#f9fcb5 128px,#fafdb7 136px,#fbfdb8 144px,#fcfeba 152px,#fcfeba 160px,#fdfebb 168px,#fdfebb 176px,#fdfebb 184px,#fdfebb 192px,#fcfeba 200px,#fcfeba 208px,#fbfdb8 216px,#fbfdb8 224px,#fafdb7 232px,#fafdb7 240px,#fafdb7 248px,#fafdb7 256px,#fbfdb8 264px,#fdfebb 272px,#fffebe 280px,#fffbb8 288px,#fff6b0 296px,#fff2aa 304px,#feefa3 312px,#feeda1 320px,#feeda1 328px,#fff1a8 336px,#fff6b0 344px,#fffbb8 352px,#ffffbe 360px,#fbfdb8 368px,#f7fcb2 376px,#f4faad 384px,#f1f9a9 392px,#eff9a6 400px,#edf8a3 408px,#ebf7a0 416px,#eaf79e 424px,#e9f69d 432px,#e8f69b 440px,#e7f59a 448px,#e6f598 456px,#e4f498 464px,#e4f498 472px,#e1f399 480px,#e1f399 488px,#e1f399 496px,#e1f399 504px,#dff299 512px,#dff299 520px,#dff299 528px,#dff299 536px,#dff299 544px,#dff299 552px)"></i><i style="top:372px;background:linear-gradient(90deg,#eef8a4 0px,#eef8a4 8px,#eff9a6 16px,#eff9a6 24px,#f0f9a7 32px,#f0f9a7 40px,#f1f9a9 48px,#f2faaa 56px,#f2faaa 64px,#f3faac 72px,#f4faad 80px,#f5fbaf 88px,#f5fbaf 96px,#f6fbb0 104px,#f7fcb2 112px,#f8fcb4 120px,#f9fcb5 128px,#fafdb7 136px,#fafdb7 144px,#fbfdb8 152px,#fbfdb8 160px,#fcfeba 168px,#fcfeba 176px,#fcfeba 184px,#fcfeba 192px,#fbfdb8 200px,#fbfdb8 208px,#fafdb7 216px,#fafdb7 224px,#fafdb7 232px,#fafdb7 240px,#fafdb7 248px,#fafdb7 256px,#fcfeba 264px,#fdfebb 272px,#fffebe 280px,#fffbb8 288px,#fff7b2 296px,#fff3ac 304px,#fff0a6 312px,#feefa3 320px,#feefa3 328px,#fff2aa 336px,#fff6b0 344px,#fffbb8 352px,#ffffbe 360px,#fbfdb8 368px,#f7fcb2 376px,#f4faad 384px,#f2faaa 392px,#eff9a6 400px,#eef8a4 408px,#ecf7a1 416px,#eaf79e 424px,#e9f69d 432px,#e8f69b 440px,#e7f59a 448px,#e7f59a 456px,#e6f598 464px,#e4f498 472px,#e4f498 480px,#e4f498 488px,#e1f399 496px,#e1f399 504px,#e1f399 512px,#e1f399 520px,#e1f399 528px,#e1f399 536px,#dff299 544px,#e1f399 552px)"></i><i style="top:376px;background:linear-gradient(90deg,#eef8a4 0px,#eef8a4 8px,#eff9a6 16px,#eff9a6 24px,#f0f9a7 32px,#f0f9a7 40px,#f1f9a9 48px,#f1f9a9 56px,#f2faaa 64px,#f3faac 72px,#f4faad 80px,#f4faad 88px,#f5fbaf 96px,#f6fbb0 104px,#f7fcb2 112px,#f7fcb2 120px,#f8fcb4 128px,#f9fcb5 136px,#f9fcb5 144px,#fafdb7 152px,#fafdb7 160px,#fbfdb8 168px,#fbfdb8 176px,#fbfdb8 184px,#fbfdb8 192px,#fafdb7 200px,#fafdb7 208px,#fafdb7 216px,#f9fcb5 224px,#f9fcb5 232px,#f9fcb5 240px,#fafdb7 248px,#fafdb7 256px,#fcfeba 264px,#fdfebb 272px,#ffffbe 280px,#fffcba 288px,#fff8b4 296px,#fff5ae 304px,#fff2aa 312px,#fff1a8 320px,#fff1a8 328px,#fff3ac 336px,#fff7b2 344px,#fffcba 352px,#fefebd 360px,#fbfdb8 368px,#f8fcb4 376px,#f5fbaf 384px,#f2faaa 392px,#f0f9a7 400px,#eef8a4 408px,#ecf7a1 416px,#ebf7a0 424px,#eaf79e 432px,#e9f69d 440px,#e8f69b 448px,#e7f59a 456px,#e6f598 464px,#e6f598 472px,#e4f498 480px,#e4f498 488px,#e4f498 496px,#e1f399 504px,#e1f399 512px,#e1f399 520px,#e1f399 528px,#e1f399 536px,#e1f399 544px,#e1f399 552px)"></i><i style="top:380px;background:linear-gradient(90deg,#eef8a4 0px,#eef8a4 8px,#eff9a6 16px,#eff9a6 24px,#f0f9a7 32px,#f0f9a7 40px,#f1f9a9 48px,#f1f9a9 56px,#f2faaa 64px,#f3faac 72px,#f3faac 80px,#f4faad 88px,#f5fbaf 96px,#f5fbaf 104px,#f6fbb0 112px,#f7fcb2 120px,#f8fcb4 128px,#f8fcb4 136px,#f9fcb5 144px,#f9fcb5 152px,#fafdb7 160px,#fafdb7 168px,#fafdb7 176px,#fafdb7 184px,#fafdb7 192px,#fafdb7 200px,#fafdb7 208px,#f9fcb5 216px,#f9fcb5 224px,#f9fcb5 232px,#f9fcb5 240px,#f9fcb5 248px,#fafdb7 256px,#fbfdb8 264px,#fdfebb 272px,#ffffbe 280px,#fffcba 288px,#fffab6 296px,#fff6b0 304px,#fff3ac 312px,#fff3ac 320px,#fff3ac 328px,#fff6b0 336px,#fff8b4 344px,#fffdbc 352px,#fefebd 360px,#fbfdb8 368px,#f8fcb4 376px,#f5fbaf 384px,#f2faaa 392px,#f0f9a7 400px,#eef8a4 408px,#edf8a3 416px,#ebf7a0 424px,#eaf79e 432px,#e9f69d 440px,#e8f69b 448px,#e7f59a 456px,#e7f59a 464px,#e6f598 472px,#e6f598 480px,#e4f498 488px,#e4f498 496px,#e4f498 504px,#e4f498 512px,#e1f399 520px,#e1f399 528px,#e1f399 536px,#e1f399 544px,#e1f399 552px)"></i><i style="top:384px;background:linear-gradient(90deg,#eef8a4 0px,#eef8a4 8px,#eff9a6 16px,#eff9a6 24px,#f0f9a7 32px,#f0f9a7 40px,#f1f9a9 48px,#f1f9a9 56px,#f2faaa 64px,#f3faac 72px,#f3faac 80px,#f4faad 88px,#f4faad 96px,#f5fbaf 104px,#f6fbb0 112px,#f6fbb0 120px,#f7fcb2 128px,#f8fcb4 136px,#f8fcb4 144px,#f9fcb5 152px,#f9fcb5 160px,#f9fcb5 168px,#f9fcb5 176px,#f9fcb5 184px,#f9fcb5 192px,#f9fcb5 200px,#f9fcb5 208px,#f9fcb5 216px,#f9fcb5 224px,#f9fcb5 232px,#f9fcb5 240px,#f9fcb5 248px,#fafdb7 256px,#fbfdb8 264px,#fdfebb 272px,#ffffbe 280px,#fffdbc 288px,#fffbb8 296px,#fff8b4 304px,#fff6b0 312px,#fff6b0 320px,#fff6b0 328px,#fff8b4 336px,#fffbb8 344px,#fffebe 352px,#fdfebb 360px,#fafdb7 368px,#f7fcb2 376px,#f5fbaf 384px,#f2faaa 392px,#f0f9a7 400px,#eff9a6 408px,#edf8a3 416px,#ecf7a1 424px,#ebf7a0 432px,#e9f69d 440px,#e9f69d 448px,#e8f69b 456px,#e7f59a 464px,#e7f59a 472px,#e6f598 480px,#e6f598 488px,#e4f498 496px,#e4f498 504px,#e4f498 512px,#e4f498 520px,#e4f498 528px,#e1f399 536px,#e1f399 544px,#e1f399 552px)"></i><i style="top:388px;background:linear-gradient(90deg,#eef8a4 0px,#eef8a4 8px,#eff9a6 16px,#eff9a6 24px,#f0f9a7 32px,#f0f9a7 40px,#f1f9a9 48px,#f1f9a9 56px,#f2faaa 64px,#f2faaa 72px,#f3faac 80px,#f4faad 88px,#f4faad 96px,#f5fbaf 104px,#f5fbaf 112px,#f6fbb0 120px,#f7fcb2 128px,#f7fcb2 136px,#f8fcb4 144px,#f8fcb4 152px,#f8fcb4 160px,#f8fcb4 168px,#f9fcb5 176px,#f9fcb5 184px,#f9fcb5 192px,#f8fcb4 200px,#f8fcb4 208px,#f8fcb4 216px,#f8fcb4 224px,#f8fcb4 232px,#f9fcb5 240px,#f9fcb5 248px,#fafdb7 256px,#fbfdb8 264px,#fcfeba 272px,#fefebd 280px,#fffebe 288px,#fffcba 296px,#fffab6 304px,#fff8b4 312px,#fff8b4 320px,#fff8b4 328px,#fffab6 336px,#fffcba 344px,#ffffbe 352px,#fcfeba 360px,#fafdb7 368px,#f7fcb2 376px,#f5fbaf 384px,#f3faac 392px,#f1f9a9 400px,#eff9a6 408px,#edf8a3 416px,#ecf7a1 424px,#ebf7a0 432px,#eaf79e 440px,#e9f69d 448px,#e8f69b 456px,#e8f69b 464px,#e7f59a 472px,#e6f598 480px,#e6f598 488px,#e6f598 496px,#e4f498 504px,#e4f498 512px,#e4f498 520px,#e4f498 528px,#e4f498 536px,#e4f498 544px,#e4f498 552px)"></i><i style="top:392px;background:linear-gradient(90deg,#eef8a4 0px,#eff9a6 8px,#eff9a6 16px,#eff9a6 24px,#f0f9a7 32px,#f0f9a7 40px,#f1f9a9 48px,#f1f9a9 56px,#f2faaa 64px,#f2faaa 72px,#f3faac 80px,#f3faac 88px,#f4faad 96px,#f4faad 104px,#f5fbaf 112px,#f6fbb0 120px,#f6fbb0 128px,#f7fcb2 136px,#f7fcb2 144px,#f7fcb2 152px,#f8fcb4 160px,#f8fcb4 168px,#f8fcb4 176px,#f8fcb4 184px,#f8fcb4 192px,#f8fcb4 200px,#f8fcb4 208px,#f8fcb4 216px,#f8fcb4 224px,#f8fcb4 232px,#f8fcb4 240px,#f9fcb5 248px,#f9fcb5 256px,#fafdb7 264px,#fcfeba 272px,#fdfebb 280px,#ffffbe 288px,#fffdbc 296px,#fffcba 304px,#fffbb8 312px,#fffab6 320px,#fffbb8 328px,#fffcba 336px,#fffebe 344px,#fefebd 352px,#fcfeba 360px,#f9fcb5 368px,#f7fcb2 376px,#f5fbaf 384px,#f3faac 392px,#f1f9a9 400px,#eff9a6 408px,#eef8a4 416px,#ecf7a1 424px,#ebf7a0 432px,#eaf79e 440px,#e9f69d 448px,#e9f69d 456px,#e8f69b 464px,#e7f59a 472px,#e7f59a 480px,#e6f598 488px,#e6f598 496px,#e6f598 504px,#e4f498 512px,#e4f498 520px,#e4f498 528px,#e4f498 536px,#e4f498 544px,#e4f498 552px)"></i><i style="top:396px;background:linear-gradient(90deg,#eef8a4 0px,#eff9a6 8px,#eff9a6 16px,#eff9a6 24px,#f0f9a7 32px,#f0f9a7 40px,#f1f9a9 48px,#f1f9a9 56px,#f2faaa 64px,#f2faaa 72px,#f3faac 80px,#f3faac 88px,#f4faad 96px,#f4faad 104px,#f5fbaf 112px,#f5fbaf 120px,#f6fbb0 128px,#f6fbb0 136px,#f6fbb0 144px,#f7fcb2 152px,#f7fcb2 160px,#f7fcb2 168px,#f7fcb2 176px,#f7fcb2 184px,#f7fcb2 192px,#f7fcb2 200px,#f7fcb2 208px,#f7fcb2 216px,#f7fcb2 224px,#f8fcb4 232px,#f8fcb4 240px,#f8fcb4 248px,#f9fcb5 256px,#fafdb7 264px,#fbfdb8 272px,#fcfeba 280px,#fefebd 288px,#ffffbe 296px,#fffdbc 304px,#fffdbc 312px,#fffcba 320px,#fffdbc 328px,#fffebe 336px,#ffffbe 344px,#fdfebb 352px,#fbfdb8 360px,#f9fcb5 368px,#f6fbb0 376px,#f4faad 384px,#f2faaa 392px,#f1f9a9 400px,#eff9a6 408px,#eef8a4 416px,#ecf7a1 424px,#ebf7a0 432px,#eaf79e 440px,#eaf79e 448px,#e9f69d 456px,#e8f69b 464px,#e8f69b 472px,#e7f59a 480px,#e7f59a 488px,#e6f598 496px,#e6f598 504px,#e6f598 512px,#e6f598 520px,#e4f498 528px,#e4f498 536px,#e4f498 544px,#e4f498 552px)"></i><i style="top:400px;background:linear-gradient(90deg,#eef8a4 0px,#eff9a6 8px,#eff9a6 16px,#eff9a6 24px,#f0f9a7 32px,#f0f9a7 40px,#f1f9a9 48px,#f1f9a9 56px,#f1f9a9 64px,#f2faaa 72px,#f2faaa 80px,#f3faac 88px,#f3faac 96px,#f4faad 104px,#f4faad 112px,#f5fbaf 120px,#f5fbaf 128px,#f6fbb0 136px,#f6fbb0 144px,#f6fbb0 152px,#f6fbb0 160px,#f7fcb2 168px,#f7fcb2 176px,#f7fcb2 184px,#f7fcb2 192px,#f7fcb2 200px,#f7fcb2 208px,#f7fcb2 216px,#f7fcb2 224px,#f7fcb2 232px,#f8fcb4 240px,#f8fcb4 248px,#f9fcb5 256px,#fafdb7 264px,#fbfdb8 272px,#fcfeba 280px,#fdfebb 288px,#fefebd 296px,#ffffbe 304px,#fffebe 312px,#fffebe 320px,#fffebe 328px,#ffffbe 336px,#fdfebb 344px,#fcfeba 352px,#fafdb7 360px,#f8fcb4 368px,#f6fbb0 376px,#f4faad 384px,#f2faaa 392px,#f1f9a9 400px,#eff9a6 408px,#eef8a4 416px,#edf8a3 424px,#ecf7a1 432px,#ebf7a0 440px,#eaf79e 448px,#e9f69d 456px,#e8f69b 464px,#e8f69b 472px,#e7f59a 480px,#e7f59a 488px,#e7f59a 496px,#e6f598 504px,#e6f598 512px,#e6f598 520px,#e6f598 528px,#e6f598 536px,#e4f498 544px,#e4f498 552px)"></i><i style="top:404px;background:linear-gradient(90deg,#eef8a4 0px,#eff9a6 8px,#eff9a6 16px,#eff9a6 24px,#f0f9a7 32px,#f0f9a7 40px,#f0f9a7 48px,#f1f9a9 56px,#f1f9a9 64px,#f2faaa 72px,#f2faaa 80px,#f3faac 88px,#f3faac 96px,#f4faad 104px,#f4faad 112px,#f4faad 120px,#f5fbaf 128px,#f5fbaf 136px,#f6fbb0 144px,#f6fbb0 152px,#f6fbb0 160px,#f6fbb0 168px,#f6fbb0 176px,#f6fbb0 184px,#f6fbb0 192px,#f7fcb2 200px,#f7fcb2 208px,#f7fcb2 216px,#f7fcb2 224px,#f7fcb2 232px,#f7fcb2 240px,#f8fcb4 248px,#f8fcb4 256px,#f9fcb5 264px,#fafdb7 272px,#fbfdb8 280px,#fcfeba 288px,#fdfebb 296px,#fefebd 304px,#fefebd 312px,#fefebd 320px,#fefebd 328px,#fdfebb 336px,#fcfeba 344px,#fbfdb8 352px,#f9fcb5 360px,#f7fcb2 368px,#f6fbb0 376px,#f4faad 384px,#f2faaa 392px,#f1f9a9 400px,#eff9a6 408px,#eef8a4 416px,#edf8a3 424px,#ecf7a1 432px,#ebf7a0 440px,#eaf79e 448px,#e9f69d 456px,#e9f69d 464px,#e8f69b 472px,#e8f69b 480px,#e7f59a 488px,#e7f59a 496px,#e7f59a 504px,#e6f598 512px,#e6f598 520px,#e6f598 528px,#e6f598 536px,#e6f598 544px,#e6f598 552px)"></i><i style="top:408px;background:linear-gradient(90deg,#eef8a4 0px,#eff9a6 8px,#eff9a6 16px,#eff9a6 24px,#f0f9a7 32px,#f0f9a7 40px,#f0f9a7 48px,#f1f9a9 56px,#f1f9a9 64px,#f2faaa 72px,#f2faaa 80px,#f2faaa 88px,#f3faac 96px,#f3faac 104px,#f4faad 112px,#f4faad 120px,#f4faad 128px,#f5fbaf 136px,#f5fbaf 144px,#f5fbaf 152px,#f6fbb0 160px,#f6fbb0 168px,#f6fbb0 176px,#f6fbb0 184px,#f6fbb0 192px,#f6fbb0 200px,#f6fbb0 208px,#f6fbb0 216px,#f6fbb0 224px,#f7fcb2 232px,#f7fcb2 240px,#f7fcb2 248px,#f8fcb4 256px,#f9fcb5 264px,#f9fcb5 272px,#fafdb7 280px,#fbfdb8 288px,#fcfeba 296px,#fdfebb 304px,#fdfebb 312px,#fdfebb 320px,#fdfebb 328px,#fcfeba 336px,#fbfdb8 344px,#fafdb7 352px,#f8fcb4 360px,#f7fcb2 368px,#f5fbaf 376px,#f3faac 384px,#f2faaa 392px,#f1f9a9 400px,#eff9a6 408px,#eef8a4 416px,#edf8a3 424px,#ecf7a1 432px,#ebf7a0 440px,#eaf79e 448px,#eaf79e 456px,#e9f69d 464px,#e8f69b 472px,#e8f69b 480px,#e8f69b 488px,#e7f59a 496px,#e7f59a 504px,#e7f59a 512px,#e6f598 520px,#e6f598 528px,#e6f598 536px,#e6f598 544px,#e6f598 552px)"></i><i style="top:412px;background:linear-gradient(90deg,#eef8a4 0px,#eff9a6 8px,#eff9a6 16px,#eff9a6 24px,#f0f9a7 32px,#f0f9a7 40px,#f0f9a7 48px,#f1f9a9 56px,#f1f9a9 64px,#f1f9a9 72px,#f2faaa 80px,#f2faaa 88px,#f3faac 96px,#f3faac 104px,#f3faac 112px,#f4faad 120px,#f4faad 128px,#f4faad 136px,#f5fbaf 144px,#f5fbaf 152px,#f5fbaf 160px,#f5fbaf 168px,#f5fbaf 176px,#f6fbb0 184px,#f6fbb0 192px,#f6fbb0 200px,#f6fbb0 208px,#f6fbb0 216px,#f6fbb0 224px,#f6fbb0 232px,#f7fcb2 240px,#f7fcb2 248px,#f7fcb2 256px,#f8fcb4 264px,#f9fcb5 272px,#fafdb7 280px,#fafdb7 288px,#fbfdb8 296px,#fbfdb8 304px,#fcfeba 312px,#fcfeba 320px,#fbfdb8 328px,#fbfdb8 336px,#fafdb7 344px,#f9fcb5 352px,#f7fcb2 360px,#f6fbb0 368px,#f5fbaf 376px,#f3faac 384px,#f2faaa 392px,#f0f9a7 400px,#eff9a6 408px,#eef8a4 416px,#edf8a3 424px,#ecf7a1 432px,#ebf7a0 440px,#eaf79e 448px,#eaf79e 456px,#e9f69d 464px,#e9f69d 472px,#e8f69b 480px,#e8f69b 488px,#e7f59a 496px,#e7f59a 504px,#e7f59a 512px,#e7f59a 520px,#e6f598 528px,#e6f598 536px,#e6f598 544px,#e6f598 552px)"></i><i style="top:416px;background:linear-gradient(90deg,#eef8a4 0px,#eff9a6 8px,#eff9a6 16px,#eff9a6 24px,#eff9a6 32px,#f0f9a7 40px,#f0f9a7 48px,#f1f9a9 56px,#f1f9a9 64px,#f1f9a9 72px,#f2faaa 80px,#f2faaa 88px,#f2faaa 96px,#f3faac 104px,#f3faac 112px,#f3faac 120px,#f4faad 128px,#f4faad 136px,#f4faad 144px,#f5fbaf 152px,#f5fbaf 160px,#f5fbaf 168px,#f5fbaf 176px,#f5fbaf 184px,#f5fbaf 192px,#f5fbaf 200px,#f5fbaf 208px,#f6fbb0 216px,#f6fbb0 224px,#f6fbb0 232px,#f6fbb0 240px,#f7fcb2 248px,#f7fcb2 256px,#f8fcb4 264px,#f8fcb4 272px,#f9fcb5 280px,#f9fcb5 288px,#fafdb7 296px,#fafdb7 304px,#fbfdb8 312px,#fbfdb8 320px,#fafdb7 328px,#fafdb7 336px,#f9fcb5 344px,#f8fcb4 352px,#f7fcb2 360px,#f5fbaf 368px,#f4faad 376px,#f3faac 384px,#f2faaa 392px,#f0f9a7 400px,#eff9a6 408px,#eef8a4 416px,#edf8a3 424px,#ecf7a1 432px,#ebf7a0 440px,#ebf7a0 448px,#eaf79e 456px,#e9f69d 464px,#e9f69d 472px,#e8f69b 480px,#e8f69b 488px,#e8f69b 496px,#e7f59a 504px,#e7f59a 512px,#e7f59a 520px,#e7f59a 528px,#e6f598 536px,#e6f598 544px,#e6f598 552px)"></i><i style="top:420px;background:linear-gradient(90deg,#eef8a4 0px,#eff9a6 8px,#eff9a6 16px,#eff9a6 24px,#eff9a6 32px,#f0f9a7 40px,#f0f9a7 48px,#f0f9a7 56px,#f1f9a9 64px,#f1f9a9 72px,#f2faaa 80px,#f2faaa 88px,#f2faaa 96px,#f3faac 104px,#f3faac 112px,#f3faac 120px,#f3faac 128px,#f4faad 136px,#f4faad 144px,#f4faad 152px,#f4faad 160px,#f5fbaf 168px,#f5fbaf 176px,#f5fbaf 184px,#f5fbaf 192px,#f5fbaf 200px,#f5fbaf 208px,#f5fbaf 216px,#f5fbaf 224px,#f6fbb0 232px,#f6fbb0 240px,#f6fbb0 248px,#f7fcb2 256px,#f7fcb2 264px,#f8fcb4 272px,#f8fcb4 280px,#f9fcb5 288px,#f9fcb5 296px,#f9fcb5 304px,#fafdb7 312px,#fafdb7 320px,#f9fcb5 328px,#f9fcb5 336px,#f8fcb4 344px,#f7fcb2 352px,#f6fbb0 360px,#f5fbaf 368px,#f4faad 376px,#f2faaa 384px,#f1f9a9 392px,#f0f9a7 400px,#eff9a6 408px,#eef8a4 416px,#edf8a3 424px,#ecf7a1 432px,#ebf7a0 440px,#ebf7a0 448px,#eaf79e 456px,#eaf79e 464px,#e9f69d 472px,#e9f69d 480px,#e8f69b 488px,#e8f69b 496px,#e8f69b 504px,#e7f59a 512px,#e7f59a 520px,#e7f59a 528px,#e7f59a 536px,#e7f59a 544px,#e6f598 552px)"></i><i style="top:424px;background:linear-gradient(90deg,#eef8a4 0px,#eff9a6 8px,#eff9a6 16px,#eff9a6 24px,#eff9a6 32px,#f0f9a7 40px,#f0f9a7 48px,#f0f9a7 56px,#f1f9a9 64px,#f1f9a9 72px,#f1f9a9 80px,#f2faaa 88px,#f2faaa 96px,#f2faaa 104px,#f3faac 112px,#f3faac 120px,#f3faac 128px,#f3faac 136px,#f4faad 144px,#f4faad 152px,#f4faad 160px,#f4faad 168px,#f4faad 176px,#f4faad 184px,#f5fbaf 192px,#f5fbaf 200px,#f5fbaf 208px,#f5fbaf 216px,#f5fbaf 224px,#f5fbaf 232px,#f6fbb0 240px,#f6fbb0 248px,#f6fbb0 256px,#f7fcb2 264px,#f7fcb2 272px,#f8fcb4 280px,#f8fcb4 288px,#f8fcb4 296px,#f9fcb5 304px,#f9fcb5 312px,#f9fcb5 320px,#f8fcb4 328px,#f8fcb4 336px,#f7fcb2 344px,#f6fbb0 352px,#f5fbaf 360px,#f4faad 368px,#f3faac 376px,#f2faaa 384px,#f1f9a9 392px,#f0f9a7 400px,#eff9a6 408px,#eef8a4 416px,#edf8a3 424px,#ecf7a1 432px,#ecf7a1 440px,#ebf7a0 448px,#eaf79e 456px,#eaf79e 464px,#e9f69d 472px,#e9f69d 480px,#e8f69b 488px,#e8f69b 496px,#e8f69b 504px,#e7f59a 512px,#e7f59a 520px,#e7f59a 528px,#e7f59a 536px,#e7f59a 544px,#e7f59a 552px)"></i><i style="top:428px;background:linear-gradient(90deg,#eef8a4 0px,#eff9a6 8px,#eff9a6 16px,#eff9a6 24px,#eff9a6 32px,#f0f9a7 40px,#f0f9a7 48px,#f0f9a7 56px,#f1f9a9 64px,#f1f9a9 72px,#f1f9a9 80px,#f2faaa 88px,#f2faaa 96px,#f2faaa 104px,#f2faaa 112px,#f3faac 120px,#f3faac 128px,#f3faac 136px,#f3faac 144px,#f4faad 152px,#f4faad 160px,#f4faad 168px,#f4faad 176px,#f4faad 184px,#f4faad 192px,#f4faad 200px,#f4faad 208px,#f5fbaf 216px,#f5fbaf 224px,#f5fbaf 232px,#f5fbaf 240px,#f5fbaf 248px,#f6fbb0 256px,#f6fbb0 264px,#f7fcb2 272px,#f7fcb2 280px,#f7fcb2 288px,#f8fcb4 296px,#f8fcb4 304px,#f8fcb4 312px,#f8fcb4 320px,#f7fcb2 328px,#f7fcb2 336px,#f6fbb0 344px,#f6fbb0 352px,#f5fbaf 360px,#f4faad 368px,#f3faac 376px,#f2faaa 384px,#f1f9a9 392px,#f0f9a7 400px,#eff9a6 408px,#eef8a4 416px,#edf8a3 424px,#ecf7a1 432px,#ecf7a1 440px,#ebf7a0 448px,#eaf79e 456px,#eaf79e 464px,#e9f69d 472px,#e9f69d 480px,#e9f69d 488px,#e8f69b 496px,#e8f69b 504px,#e8f69b 512px,#e7f59a 520px,#e7f59a 528px,#e7f59a 536px,#e7f59a 544px,#e7f59a 552px)"></i><i style="top:432px;background:linear-gradient(90deg,#eef8a4 0px,#eff9a6 8px,#eff9a6 16px,#eff9a6 24px,#eff9a6 32px,#f0f9a7 40px,#f0f9a7 48px,#f0f9a7 56px,#f0f9a7 64px,#f1f9a9 72px,#f1f9a9 80px,#f1f9a9 88px,#f2faaa 96px,#f2faaa 104px,#f2faaa 112px,#f2faaa 120px,#f3faac 128px,#f3faac 136px,#f3faac 144px,#f3faac 152px,#f3faac 160px,#f4faad 168px,#f4faad 176px,#f4faad 184px,#f4faad 192px,#f4faad 200px,#f4faad 208px,#f4faad 216px,#f4faad 224px,#f5fbaf 232px,#f5fbaf 240px,#f5fbaf 248px,#f5fbaf 256px,#f6fbb0 264px,#f6fbb0 272px,#f6fbb0 280px,#f7fcb2 288px,#f7fcb2 296px,#f7fcb2 304px,#f7fcb2 312px,#f7fcb2 320px,#f7fcb2 328px,#f6fbb0 336px,#f6fbb0 344px,#f5fbaf 352px,#f4faad 360px,#f3faac 368px,#f2faaa 376px,#f2faaa 384px,#f1f9a9 392px,#f0f9a7 400px,#eff9a6 408px,#eef8a4 416px,#edf8a3 424px,#ecf7a1 432px,#ecf7a1 440px,#ebf7a0 448px,#ebf7a0 456px,#eaf79e 464px,#eaf79e 472px,#e9f69d 480px,#e9f69d 488px,#e8f69b 496px,#e8f69b 504px,#e8f69b 512px,#e8f69b 520px,#e7f59a 528px,#e7f59a 536px,#e7f59a 544px,#e7f59a 552px)"></i><i style="top:436px;background:linear-gradient(90deg,#eef8a4 0px,#eff9a6 8px,#eff9a6 16px,#eff9a6 24px,#eff9a6 32px,#f0f9a7 40px,#f0f9a7 48px,#f0f9a7 56px,#f0f9a7 64px,#f1f9a9 72px,#f1f9a9 80px,#f1f9a9 88px,#f1f9a9 96px,#f2faaa 104px,#f2faaa 112px,#f2faaa 120px,#f2faaa 128px,#f3faac 136px,#f3faac 144px,#f3faac 152px,#f3faac 160px,#f3faac 168px,#f3faac 176px,#f4faad 184px,#f4faad 192px,#f4faad 200px,#f4faad 208px,#f4faad 216px,#f4faad 224px,#f4faad 232px,#f5fbaf 240px,#f5fbaf 248px,#f5fbaf 256px,#f5fbaf 264px,#f6fbb0 272px,#f6fbb0 280px,#f6fbb0 288px,#f6fbb0 296px,#f6fbb0 304px,#f6fbb0 312px,#f6fbb0 320px,#f6fbb0 328px,#f6fbb0 336px,#f5fbaf 344px,#f4faad 352px,#f4faad 360px,#f3faac 368px,#f2faaa 376px,#f1f9a9 384px,#f0f9a7 392px,#f0f9a7 400px,#eff9a6 408px,#eef8a4 416px,#edf8a3 424px,#ecf7a1 432px,#ecf7a1 440px,#ebf7a0 448px,#ebf7a0 456px,#eaf79e 464px,#eaf79e 472px,#e9f69d 480px,#e9f69d 488px,#e9f69d 496px,#e8f69b 504px,#e8f69b 512px,#e8f69b 520px,#e8f69b 528px,#e7f59a 536px,#e7f59a 544px,#e7f59a 552px)"></i></div></div>
<svg width="756" height="543" viewBox="0 0 756 543">
<defs><clipPath id="hn"><polygon points="110.2,188.4 110.8,190.0 110.9,190.1 110.9,190.2 110.9,190.3 110.9,190.4 110.9,190.5 110.9,190.6 110.8,190.7 110.8,190.8 110.8,190.9 109.4,193.3 110.3,196.1 112.3,199.1 115.0,201.2 118.3,203.5 118.3,203.5 118.4,203.6 118.5,203.7 118.5,203.7 118.6,203.8 118.6,203.9 120.2,207.7 120.3,207.8 120.3,207.9 120.3,208.0 120.3,208.1 120.3,208.2 120.3,208.3 120.3,208.4 120.2,208.5 120.2,208.6 118.6,211.4 118.5,211.5 118.5,211.5 118.4,211.6 118.3,211.7 118.3,211.7 115.2,213.8 114.5,215.1 116.0,216.6 120.1,217.6 120.2,217.7 120.3,217.7 124.6,219.9 128.9,220.9 129.0,221.0 129.1,221.0 129.2,221.0 129.3,221.1 129.3,221.1 129.4,221.2 132.2,224.0 132.3,224.1 132.3,224.1 132.4,224.2 132.4,224.3 132.5,224.4 132.5,224.5 132.5,224.6 132.5,224.7 132.5,224.8 132.5,224.9 132.5,225.0 132.4,225.0 132.4,225.1 132.4,225.2 130.7,227.9 129.7,233.1 131.5,236.0 131.6,236.0 131.6,236.1 131.6,236.2 131.7,236.3 132.7,240.5 132.7,240.6 132.7,240.7 132.7,240.8 132.7,240.9 132.7,241.0 132.6,241.1 132.6,241.2 132.5,241.3 132.5,241.3 132.4,241.4 132.3,241.5 127.7,245.3 128.3,247.4 132.1,249.3 137.4,251.4 142.7,253.5 142.8,253.5 142.8,253.6 142.9,253.6 143.0,253.7 143.0,253.7 143.1,253.8 146.3,258.1 146.4,258.2 146.4,258.3 146.4,258.3 148.5,263.5 151.5,267.4 155.4,269.4 155.5,269.4 155.6,269.5 163.0,274.8 163.1,274.8 163.1,274.9 163.2,275.0 163.2,275.1 163.3,275.1 163.3,275.2 163.4,275.3 163.4,275.4 163.4,275.5 163.4,275.6 163.4,282.0 163.4,282.1 163.4,282.2 162.3,288.5 163.3,294.6 163.3,294.7 163.3,294.9 163.3,295.0 163.3,295.1 163.2,295.2 161.3,300.1 163.0,303.6 167.1,305.6 167.1,305.7 167.2,305.7 167.3,305.8 167.4,305.9 171.6,311.1 171.6,311.1 175.7,316.3 179.9,319.4 180.0,319.5 180.0,319.5 180.1,319.6 183.2,323.8 183.3,323.9 183.3,324.0 183.4,324.1 183.4,324.2 184.4,329.2 188.4,333.2 192.6,336.3 192.7,336.3 192.7,336.4 196.9,340.6 201.0,343.8 201.1,343.9 201.2,344.0 205.4,349.1 209.2,352.0 213.1,352.0 213.2,352.0 213.3,352.0 219.7,353.1 219.8,353.1 219.9,353.2 219.9,353.2 226.2,356.3 226.2,356.3 232.6,359.5 238.8,361.6 238.8,361.6 245.2,363.8 245.3,363.8 251.6,366.9 251.6,366.9 258.0,370.1 264.2,372.2 264.3,372.2 270.6,375.3 276.3,376.3 280.0,373.6 280.1,373.5 280.2,373.5 280.3,373.5 280.3,373.4 280.4,373.4 286.7,372.4 293.1,371.3 293.2,371.3 293.4,371.3 293.5,371.3 299.8,372.4 306.0,373.4 312.1,372.4 318.4,370.3 318.5,370.3 318.6,370.3 318.7,370.3 318.8,370.3 318.8,370.3 318.9,370.3 322.9,371.3 326.6,370.4 329.3,367.9 329.4,367.8 329.5,367.7 329.6,367.7 329.7,367.7 329.8,367.6 329.9,367.6 330.0,367.6 330.1,367.6 330.2,367.6 330.3,367.6 330.3,367.7 330.4,367.7 337.2,371.0 341.7,370.0 346.5,368.8 346.6,368.8 346.7,368.8 346.8,368.8 346.8,368.8 346.9,368.8 347.0,368.9 347.1,368.9 347.2,368.9 347.3,369.0 352.0,372.5 352.1,372.6 356.8,377.3 362.2,380.0 369.1,378.3 369.1,378.3 374.8,377.2 380.6,373.7 385.3,369.1 385.4,369.0 385.5,369.0 385.5,368.9 385.6,368.9 385.7,368.8 385.8,368.8 385.9,368.8 386.0,368.8 389.5,368.8 389.6,368.8 389.7,368.8 389.8,368.8 389.9,368.9 390.0,368.9 390.0,369.0 390.1,369.0 390.2,369.1 390.3,369.2 390.3,369.2 392.7,372.7 392.8,372.8 392.8,372.9 392.9,373.0 392.9,373.1 392.9,373.2 392.9,373.3 392.9,373.4 392.3,379.3 392.9,383.8 394.1,388.6 394.1,388.7 394.1,388.8 394.1,388.9 394.1,389.0 394.1,389.1 394.0,389.2 392.3,393.7 392.9,398.2 393.7,403.6 397.7,407.6 397.8,407.7 397.8,407.8 397.9,407.9 399.9,411.8 403.8,413.8 403.8,413.9 403.9,413.9 404.0,414.0 408.3,418.2 408.4,418.3 412.2,423.1 417.6,422.2 419.2,420.2 419.3,420.1 419.4,420.0 419.5,420.0 419.6,419.9 423.8,417.8 423.9,417.8 424.0,417.7 428.3,416.6 428.4,416.6 428.5,416.6 428.6,416.6 428.7,416.6 428.8,416.6 428.9,416.7 428.9,416.7 433.1,418.8 433.2,418.9 433.3,418.9 437.3,422.0 443.5,423.0 449.6,424.0 455.9,423.6 456.0,423.6 456.1,423.6 456.2,423.6 456.3,423.7 456.4,423.7 459.6,425.2 459.7,425.2 459.8,425.3 459.9,425.3 459.9,425.4 460.0,425.5 460.0,425.6 460.1,425.6 460.1,425.7 460.2,425.8 460.2,425.9 461.2,431.2 461.2,431.3 461.2,431.4 461.2,431.5 461.2,431.6 460.3,435.3 462.9,438.0 468.1,441.1 472.3,443.2 472.4,443.2 472.5,443.3 476.6,446.3 481.5,448.4 486.4,447.3 491.6,445.3 495.8,443.2 495.8,443.2 495.9,443.1 496.0,443.1 496.1,443.1 496.2,443.1 500.1,443.1 502.8,441.3 504.8,437.3 504.8,437.2 504.9,437.1 505.0,437.0 505.0,437.0 505.1,436.9 505.2,436.8 505.3,436.8 505.4,436.8 505.5,436.7 505.5,436.7 505.6,436.7 505.7,436.7 505.8,436.7 505.9,436.7 506.0,436.8 509.2,437.9 509.3,437.9 509.4,437.9 509.5,438.0 509.6,438.0 509.6,438.1 509.7,438.2 509.7,438.3 509.8,438.4 511.8,442.4 514.9,445.5 515.0,445.6 515.0,445.6 515.1,445.7 515.1,445.8 515.2,445.9 515.2,446.0 515.2,446.1 515.2,446.2 515.2,451.1 517.7,453.6 521.1,452.7 525.1,448.7 529.2,444.6 530.1,439.6 530.1,439.5 530.2,439.4 530.2,439.3 530.3,439.2 534.5,432.9 534.5,432.9 534.6,432.8 534.7,432.7 540.0,428.5 540.1,428.5 540.2,428.4 546.6,425.2 546.7,425.2 546.8,425.1 555.2,423.0 555.2,423.0 563.6,420.9 569.4,419.0 570.3,412.2 571.0,402.1 571.0,402.1 572.0,393.6 569.9,387.3 569.9,387.2 569.9,387.2 568.8,380.6 568.8,380.5 567.7,371.8 567.7,371.7 567.7,363.0 567.7,362.9 567.7,362.8 567.7,362.7 567.8,362.6 567.8,362.6 567.8,362.5 570.4,358.3 569.0,358.1 565.0,361.6 564.9,361.7 564.8,361.8 564.7,361.8 560.4,363.9 560.4,363.9 560.3,364.0 560.2,364.0 554.0,365.0 549.9,370.2 549.8,370.3 549.7,370.4 549.7,370.4 549.6,370.5 549.5,370.5 549.4,370.6 549.3,370.6 549.2,370.6 549.1,370.6 544.8,370.6 544.7,370.6 544.6,370.6 540.2,369.5 540.1,369.4 540.0,369.4 539.9,369.3 539.8,369.3 539.7,369.2 539.6,369.1 534.3,362.7 529.1,358.5 525.0,357.5 518.5,356.4 518.4,356.4 518.3,356.3 518.3,356.3 511.8,353.1 511.7,353.0 511.6,353.0 511.5,352.9 511.4,352.8 511.4,352.8 511.3,352.7 511.3,352.6 511.2,352.5 511.2,352.4 510.1,346.9 510.1,346.8 510.1,346.7 510.1,346.6 511.2,339.2 509.2,333.4 503.2,331.3 503.1,331.3 503.0,331.3 495.5,327.0 490.0,324.8 489.9,324.8 489.8,324.7 489.8,324.7 489.7,324.6 486.5,321.2 486.4,321.1 486.3,321.0 486.3,320.9 486.3,320.8 486.2,320.7 486.2,320.6 486.2,320.5 486.2,320.4 486.2,320.3 487.5,312.8 487.5,312.7 487.6,312.7 487.6,312.6 487.6,312.5 489.7,309.0 489.8,308.9 489.9,308.8 489.9,308.8 490.0,308.7 490.1,308.6 490.2,308.6 490.2,308.6 490.3,308.5 490.4,308.5 490.5,308.5 490.6,308.5 490.7,308.5 490.8,308.5 490.9,308.5 495.4,310.0 503.9,311.2 512.2,310.8 518.7,308.2 521.4,300.2 522.5,293.9 521.4,285.3 521.4,285.2 521.4,285.1 521.4,285.0 521.4,285.0 522.5,280.7 522.6,280.6 522.6,280.5 522.7,280.4 522.7,280.3 522.8,280.2 527.1,275.8 527.2,275.7 527.2,275.7 527.3,275.6 527.4,275.6 527.5,275.6 534.0,273.4 534.1,273.3 534.2,273.3 542.7,272.3 546.2,270.6 544.2,263.8 544.2,263.7 543.1,257.2 543.1,257.1 543.1,256.9 543.1,256.8 544.2,250.6 542.1,246.6 542.1,246.5 542.0,246.4 542.0,246.3 541.0,240.9 541.0,240.8 541.0,240.7 541.0,240.6 541.0,240.5 541.1,240.4 541.1,240.3 541.1,240.2 541.2,240.1 544.4,235.7 544.5,235.6 544.5,235.6 544.6,235.5 544.7,235.5 544.8,235.4 549.2,233.2 549.2,233.2 549.3,233.1 555.8,231.0 555.9,231.0 556.0,231.0 556.1,231.0 556.1,231.0 556.2,231.0 563.8,232.0 563.9,232.0 564.0,232.0 564.1,232.1 564.2,232.1 564.3,232.2 567.3,234.2 571.3,234.2 571.4,234.2 571.5,234.2 571.6,234.2 571.7,234.3 571.7,234.3 576.1,236.5 576.2,236.6 576.3,236.6 576.4,236.7 576.4,236.7 576.5,236.8 576.6,236.9 576.6,237.0 578.7,241.3 578.7,241.4 580.9,248.0 583.1,254.3 587.1,258.2 591.5,260.0 596.1,258.6 602.6,256.1 602.7,256.1 609.2,253.6 614.0,250.4 614.2,250.3 619.2,247.8 625.8,244.5 625.8,244.5 631.1,242.2 631.7,239.1 628.7,235.2 624.6,230.3 624.6,230.3 624.5,230.2 622.0,226.0 622.0,225.9 622.0,225.8 621.9,225.7 621.9,225.6 621.9,225.5 621.9,225.4 621.9,225.3 621.9,225.2 623.6,219.4 623.7,219.3 623.7,219.2 623.8,219.2 623.8,219.1 626.6,215.7 625.8,214.9 621.4,214.9 614.8,216.6 614.8,216.6 614.7,216.6 614.6,216.6 614.5,216.6 608.7,215.8 608.6,215.8 608.5,215.7 608.4,215.7 608.3,215.7 608.2,215.6 608.1,215.5 608.0,215.5 608.0,215.4 604.0,209.7 599.1,205.6 595.0,202.3 594.9,202.2 594.8,202.1 592.3,198.8 592.2,198.7 592.2,198.6 592.2,198.5 592.1,198.4 592.1,198.3 592.1,198.2 592.1,198.1 592.1,198.0 592.1,197.9 592.2,197.8 593.1,195.4 594.0,191.2 593.0,191.2 592.9,191.2 592.8,191.2 592.7,191.2 592.6,191.1 592.5,191.1 588.4,189.0 582.1,188.0 575.9,188.0 569.4,190.1 569.3,190.1 569.2,190.1 569.1,190.1 562.6,190.1 562.5,190.1 562.4,190.1 556.1,189.0 551.9,190.1 551.9,190.1 545.4,191.2 545.3,191.2 545.2,191.2 545.1,191.2 545.0,191.2 544.9,191.1 544.8,191.1 538.3,187.9 538.2,187.8 538.1,187.8 538.0,187.7 533.6,183.3 533.5,183.2 533.5,183.2 533.4,183.1 533.4,183.0 533.3,182.9 533.3,182.8 532.3,177.4 531.3,172.1 528.0,168.3 518.8,166.0 518.7,165.9 518.6,165.9 515.0,164.2 514.9,164.2 514.8,164.1 512.4,162.3 512.3,162.2 512.2,162.2 512.2,162.1 512.1,162.0 512.1,161.9 512.0,161.8 512.0,161.7 512.0,161.6 512.0,161.5 512.0,159.6 510.1,158.2 506.7,157.1 502.0,155.9 497.3,155.3 492.7,155.3 492.6,155.3 487.8,154.7 483.0,154.1 482.9,154.1 482.8,154.1 482.7,154.0 482.6,154.0 482.5,153.9 482.5,153.9 482.4,153.8 480.6,152.0 480.5,151.9 480.5,151.9 480.4,151.8 480.4,151.7 480.3,151.6 480.3,151.5 480.3,151.4 480.3,151.3 480.3,151.2 480.3,151.1 480.9,148.1 480.9,148.0 481.0,147.9 481.0,147.8 481.1,147.7 481.1,147.7 481.2,147.6 483.4,145.4 483.8,143.8 481.8,141.8 481.7,141.7 481.7,141.7 481.6,141.6 481.6,141.5 481.5,141.4 481.5,141.3 481.5,141.2 481.5,141.1 481.5,141.0 481.5,140.9 481.5,140.8 481.6,140.7 481.6,140.7 481.6,140.6 481.7,140.5 483.5,138.1 483.6,138.0 483.6,138.0 483.7,137.9 483.8,137.8 483.9,137.8 484.0,137.8 487.3,136.6 489.4,134.0 490.6,130.6 490.6,130.5 490.6,130.4 490.7,130.3 490.7,130.3 490.8,130.2 490.9,130.1 494.2,127.4 495.3,124.6 495.3,124.5 495.4,124.5 495.4,124.4 495.5,124.3 495.6,124.2 495.6,124.2 499.2,121.8 499.4,121.7 503.0,119.9 503.1,119.9 506.7,118.7 506.8,118.6 506.9,118.6 511.6,118.0 516.2,116.9 520.8,114.0 524.3,110.5 527.6,106.5 530.0,99.7 530.0,99.5 531.9,95.8 532.0,95.8 532.0,95.7 532.1,95.6 532.2,95.5 532.2,95.5 535.0,93.6 535.1,93.5 535.2,93.5 535.3,93.5 535.4,93.4 539.0,92.5 543.6,91.1 543.7,91.1 548.3,90.2 548.4,90.2 552.5,89.8 554.2,87.4 554.2,87.4 554.3,87.3 554.3,87.2 557.1,84.8 557.2,84.8 557.3,84.7 557.4,84.7 562.9,82.4 563.0,82.3 563.1,82.3 563.2,82.3 565.7,81.9 567.2,80.9 568.5,77.0 568.5,76.9 568.5,76.8 568.6,76.7 568.6,76.6 568.7,76.6 568.8,76.5 571.1,74.7 571.2,74.7 571.2,74.6 573.9,73.2 574.0,73.2 574.1,73.1 574.2,73.1 574.3,73.1 577.9,72.6 580.8,71.8 582.4,69.9 584.2,66.3 585.4,63.0 585.4,62.9 584.2,63.4 581.5,65.6 581.5,65.6 578.7,67.5 578.6,67.6 578.5,67.6 578.4,67.6 578.3,67.7 574.7,68.6 571.1,69.9 570.9,70.0 567.2,70.9 567.1,70.9 567.0,70.9 563.5,70.9 560.9,71.7 556.3,73.6 551.7,75.9 551.6,75.9 546.0,77.8 545.9,77.9 545.8,77.9 539.6,78.8 534.3,81.4 530.8,85.8 530.7,85.9 530.6,86.0 530.5,86.0 528.0,87.6 528.0,87.7 527.9,87.7 527.8,87.8 527.7,87.8 527.6,87.8 527.5,87.8 527.4,87.8 527.3,87.8 527.2,87.7 524.2,86.6 524.1,86.6 524.0,86.6 523.9,86.5 523.8,86.4 523.8,86.4 523.7,86.3 523.6,86.2 523.6,86.1 523.6,86.0 523.5,85.9 523.5,85.8 523.5,85.8 523.5,85.7 523.5,85.6 524.5,78.6 524.5,78.5 524.5,78.4 526.5,72.3 526.6,72.2 526.6,72.1 526.7,72.0 526.7,72.0 526.8,71.9 529.7,68.8 532.7,65.0 534.5,60.4 533.9,58.6 530.8,59.3 527.0,61.3 523.0,64.2 522.9,64.3 522.8,64.3 522.7,64.3 522.6,64.4 522.5,64.4 522.5,64.4 522.4,64.4 522.3,64.4 522.2,64.4 522.1,64.3 522.0,64.3 521.9,64.3 521.8,64.2 521.7,64.2 521.7,64.1 521.6,64.0 521.6,63.9 521.5,63.8 519.6,60.0 515.9,56.2 510.2,54.3 504.7,55.2 502.7,57.0 500.8,60.8 500.7,60.9 500.7,61.0 500.6,61.1 500.5,61.2 494.4,66.3 494.4,66.3 494.3,66.4 494.2,66.4 494.1,66.5 494.0,66.5 493.9,66.5 493.8,66.5 489.7,66.5 489.6,66.5 489.5,66.5 489.4,66.5 489.3,66.4 489.2,66.4 489.1,66.3 489.1,66.3 489.0,66.2 488.9,66.1 488.9,66.0 488.8,66.0 488.8,65.9 487.0,61.4 481.7,61.4 475.7,62.4 475.6,62.4 475.4,62.4 475.3,62.4 469.3,61.4 463.2,60.4 463.1,60.4 463.0,60.3 463.0,60.3 456.9,57.3 450.9,55.2 444.8,53.3 436.8,51.3 430.9,50.3 424.9,50.3 424.8,50.3 424.7,50.3 424.6,50.2 418.5,48.1 418.4,48.1 418.3,48.1 418.2,48.0 414.1,45.0 414.1,45.0 410.5,42.2 405.8,43.2 405.8,43.2 400.7,44.2 400.6,44.2 400.5,44.2 400.4,44.2 400.3,44.2 400.2,44.2 400.1,44.1 395.2,42.1 391.0,41.2 389.3,44.6 389.3,44.7 386.3,49.5 387.4,56.2 387.4,56.4 387.4,56.5 387.4,56.6 387.4,56.7 387.3,56.8 387.3,56.9 385.3,60.6 386.3,68.4 386.3,68.5 386.3,68.6 386.3,68.7 385.3,73.8 385.3,73.9 385.2,74.0 385.2,74.1 382.2,79.1 381.3,83.9 381.3,84.0 381.2,84.1 381.2,84.2 381.1,84.3 379.4,86.9 381.2,90.3 381.2,90.4 381.3,90.5 381.3,90.6 381.3,90.7 381.3,90.8 381.3,90.9 380.3,98.0 380.3,98.1 380.2,98.2 380.2,98.3 380.2,98.4 380.1,98.5 380.0,98.6 380.0,98.6 379.9,98.7 379.8,98.8 379.7,98.8 379.6,98.8 373.9,100.8 368.9,108.5 368.9,108.6 368.8,108.7 368.7,108.8 368.7,108.8 368.6,108.9 362.3,112.3 362.3,112.3 356.2,115.4 356.1,115.4 352.0,117.4 351.9,117.4 351.8,117.5 351.7,117.5 344.2,118.4 342.4,123.0 342.4,123.0 342.3,123.1 342.3,123.2 342.2,123.3 342.2,123.3 342.1,123.4 342.0,123.5 341.9,123.5 335.8,126.5 335.8,126.5 335.7,126.6 335.6,126.6 335.5,126.6 335.4,126.6 329.7,126.6 326.0,130.4 326.0,130.5 325.9,130.5 325.8,130.6 325.7,130.6 321.6,132.6 321.6,132.6 321.5,132.7 321.4,132.7 313.5,134.1 309.5,136.5 309.5,136.6 309.4,136.6 309.3,136.7 309.2,136.7 309.1,136.7 309.0,136.7 303.0,136.7 302.9,136.7 302.8,136.7 302.7,136.7 302.6,136.6 296.8,134.1 287.0,135.7 286.8,135.7 286.7,135.7 281.6,135.4 281.6,135.4 278.1,134.9 274.7,136.2 274.6,136.3 274.5,136.3 274.4,136.3 270.7,136.7 270.6,136.7 270.5,136.7 270.4,136.7 270.3,136.7 270.2,136.6 270.1,136.6 270.1,136.5 270.0,136.5 269.9,136.4 269.8,136.3 269.8,136.3 269.7,136.2 269.7,136.1 269.0,134.5 267.1,134.9 267.0,134.9 266.9,134.9 266.8,134.9 263.0,134.4 262.9,134.4 262.7,134.3 259.2,133.0 255.6,132.6 255.6,132.6 252.0,132.1 250.8,132.2 251.6,136.0 251.6,136.1 251.6,136.2 251.6,136.3 251.6,136.4 251.6,136.5 251.5,136.6 251.5,136.7 251.4,136.8 251.4,136.8 251.3,136.9 249.6,138.6 250.5,139.8 250.6,139.9 250.6,140.0 250.6,140.1 250.7,140.1 250.7,140.2 250.7,140.3 250.7,140.4 250.7,140.5 250.3,144.1 251.0,147.6 251.0,147.7 251.0,147.8 251.0,147.9 250.7,150.7 250.7,150.8 250.7,150.9 250.6,151.0 250.6,151.1 250.5,151.2 250.5,151.2 250.4,151.3 250.3,151.4 250.3,151.4 250.2,151.5 250.1,151.5 250.0,151.6 249.9,151.6 249.8,151.6 249.7,151.6 247.9,151.6 247.8,151.6 247.7,151.6 247.6,151.6 247.5,151.5 247.5,151.5 247.4,151.5 245.2,150.1 242.6,149.2 239.0,148.8 235.5,148.8 232.0,149.2 229.5,150.4 226.8,152.8 226.7,152.8 226.6,152.9 226.5,152.9 226.4,152.9 226.3,153.0 222.7,153.9 218.4,155.5 215.9,158.5 214.4,162.6 214.4,162.7 214.4,162.8 214.3,162.9 214.2,163.0 210.2,167.1 210.1,167.2 210.1,167.2 210.0,167.3 209.9,167.3 209.8,167.4 209.7,167.4 197.5,169.4 197.5,169.4 185.2,171.4 185.1,171.4 185.0,171.4 177.0,171.4 174.4,171.6 172.5,173.5 172.4,173.6 172.3,173.6 172.2,173.7 168.9,175.3 168.9,175.3 168.8,175.4 168.7,175.4 165.4,176.0 162.2,177.0 162.1,177.1 162.0,177.1 158.8,177.6 156.0,178.5 155.0,181.3 155.0,181.4 155.0,181.5 154.9,181.6 154.9,181.6 154.8,181.7 154.7,181.8 151.4,184.6 151.4,184.6 151.3,184.7 151.2,184.7 151.1,184.7 147.8,185.8 147.7,185.9 147.6,185.9 147.5,185.9 147.4,185.9 147.4,185.9 144.1,185.4 144.0,185.4 141.1,184.9 138.2,186.8 138.1,186.9 138.0,186.9 137.9,186.9 137.8,187.0 133.3,188.1 133.2,188.1 128.9,188.7 124.6,190.0 124.5,190.0 124.4,190.0 124.3,190.0 124.2,190.0 124.1,190.0 124.0,190.0 123.9,189.9 120.6,188.6 117.5,187.4 114.5,187.6 110.2,188.4"/></clipPath></defs>
<g fill="none" stroke="#000" stroke-width="0.9" stroke-linejoin="round" opacity="1"><polyline points="241.7,149.3 242.2,151.6 242.5,153.9 241.2,156.0 240.7,158.5 238.4,159.9 236.0,161.3 237.1,163.7 239.8,165.0 242.5,166.0 243.7,168.0 245.9,169.5 246.1,172.4 246.7,175.5 244.6,177.3 243.3,179.8 243.6,182.7 242.3,184.9 239.1,186.7 236.2,186.1 233.3,185.3 229.8,184.7 228.1,186.3 225.9,187.2 222.5,189.5 220.6,190.8 218.4,192.2 215.6,192.0 213.0,190.9 210.2,191.9 207.3,192.4 204.6,193.7 201.8,194.4 199.1,196.0 196.2,197.2 193.5,198.4 190.7,199.6 187.9,199.2 185.0,199.6 182.3,200.7 179.5,201.8 177.4,203.6 175.3,204.9 173.3,208.4 174.9,210.5 175.6,213.1 175.6,216.4 174.7,219.9 177.4,221.3 179.4,223.8 182.2,225.1 185.7,225.7 187.3,228.2 188.4,230.9 189.8,233.5 190.2,236.0 189.9,237.7 187.8,239.8 185.1,241.2 183.1,242.6 181.6,244.6 180.1,245.8 180.3,248.7 180.1,251.7 182.2,255.0 180.4,257.8 178.0,260.0 176.3,262.4 174.6,264.6 172.8,266.6 172.5,269.4 170.3,270.9 168.5,272.9 166.3,274.0 163.9,274.6"/><polyline points="182.4,255.2 184.6,255.8 186.7,256.6 188.9,257.2 191.5,257.2 194.0,257.7 196.3,258.8 198.8,258.9 201.2,259.9 203.6,260.0 206.1,260.6 208.6,261.1 211.1,261.9 213.7,261.9 216.1,262.8 218.6,263.1 220.8,264.6 223.6,264.3 225.7,265.7 228.0,266.2 229.5,268.1 231.6,268.9 233.4,270.2 234.9,271.9 236.9,272.2 239.7,271.8 242.8,272.4 245.4,271.0 247.8,269.6 250.3,269.3 252.1,268.0 253.5,265.9 256.5,264.8 259.2,263.1 262.0,262.4 264.9,261.8 265.4,259.2 266.8,257.2 269.2,255.2 272.1,253.9 274.8,253.7 277.1,252.3 279.6,251.4 282.3,250.1 284.8,248.5"/><polyline points="264.8,261.7 267.4,262.3 269.7,263.7 272.1,264.6 274.5,265.7 277.3,265.9 279.7,266.9 282.2,267.7 284.7,268.8 287.0,270.0"/><polyline points="314.1,170.4 316.2,171.4 317.7,173.3 321.3,174.9 319.4,178.2 316.9,179.9 314.4,180.5 315.7,184.5 317.7,185.7 319.8,186.6 321.3,188.2 323.4,189.8 325.0,191.4 323.6,193.4 321.6,194.7 318.9,194.6 316.6,195.8 314.1,196.6 311.6,196.2 309.1,196.7 307.1,197.3 305.7,200.0 304.6,202.9 305.6,204.0 305.5,206.4 306.1,209.1 303.4,209.2 300.6,209.8 298.0,209.9 295.3,210.7 293.5,212.8 290.7,214.2 290.9,216.6 290.3,219.0 291.3,221.0 292.7,222.7 294.6,224.4 294.0,227.2 294.0,229.9 293.2,232.4 292.1,234.6 290.0,236.4 289.8,238.7 289.5,240.9 288.5,243.0 287.5,245.0 285.7,246.5 284.8,248.5 282.3,250.3 279.2,250.9 276.7,252.7 273.8,253.4 270.0,254.1"/><polyline points="306.1,208.7 308.7,210.2 311.8,210.0 314.4,211.8 316.7,211.3 318.8,212.4 321.2,211.5 323.3,212.7 325.6,212.6 327.8,213.3 330.1,213.9 332.6,213.5 334.8,214.1 337.3,213.9 339.7,212.8 342.1,212.1 344.9,210.7 348.1,209.9 349.9,208.6 351.7,207.1 353.2,205.2 355.0,204.6 357.7,205.0 360.2,205.7 362.6,206.8 365.1,207.7 367.7,208.2 370.0,209.7 372.5,210.1 374.9,210.9 377.2,212.0 379.8,212.6 382.4,213.3 384.9,214.7 387.4,214.2 389.7,213.0 392.4,212.9 394.5,210.9 397.0,210.1 399.3,209.3 401.8,208.1 403.5,205.9 403.1,203.1 402.3,200.1 404.7,199.9 406.8,199.8 410.0,200.5"/><polyline points="334.8,216.1 335.6,218.2 336.1,220.4 336.8,222.5 338.6,224.7 340.4,226.9 342.2,229.3 344.7,229.1 347.1,229.9 349.9,229.5 352.2,231.0 354.6,232.3 357.2,233.3 360.4,235.5 360.3,238.1 359.2,240.5 358.4,243.1 359.5,245.4 359.0,248.0 359.5,250.6 361.0,253.2 362.7,255.4 365.1,256.5 367.5,257.3 370.1,257.6 372.9,258.4 375.8,259.5 377.1,261.3 377.8,263.5 379.5,265.3 378.2,268.1 376.9,270.9 375.1,272.6 374.3,275.0 372.6,277.0 370.0,278.1 368.3,280.1 366.4,282.4 368.5,285.9 370.8,285.6 373.1,285.5 375.5,285.7 377.8,285.9 380.4,286.0 382.7,287.4 385.2,287.8"/><polyline points="375.6,259.6 377.9,260.1 380.1,260.9 382.4,261.6 384.9,261.3 386.8,262.6 389.2,263.1 390.5,259.0 389.2,255.5 388.3,253.3 388.0,250.8 390.4,249.0 392.4,247.7 394.7,247.2 396.9,246.6 399.5,246.7 400.9,244.0 402.7,242.0 405.3,241.1 407.7,238.7 410.7,238.0 412.9,239.2 415.5,239.5 417.4,241.2 419.7,242.1 421.5,246.0 423.0,247.9 423.4,250.2 423.3,252.5 424.2,254.8 426.4,254.7 428.8,254.8 430.6,256.5 433.0,256.8 437.3,255.4 436.6,252.3 437.8,249.4 437.1,246.5 436.5,243.7 435.8,240.6 436.6,237.7 435.4,235.7 435.5,233.2 433.9,231.1 433.5,229.0 433.6,226.6 434.8,224.5 435.7,222.3 435.7,220.1 434.3,216.7"/><polyline points="270.0,261.5 272.6,262.4 274.8,264.1 277.5,265.0 280.0,265.8 282.3,267.1 284.8,268.0 287.3,268.9 289.8,269.8 292.2,270.4 294.7,270.7 297.1,271.6 299.6,271.5 302.0,272.2 304.5,272.6 307.1,273.0 309.6,272.5 311.9,271.0 314.4,270.4 317.2,271.0 320.0,270.8 322.9,271.3 325.4,272.8 327.1,274.8 328.9,276.5 331.1,280.0"/><polyline points="249.3,152.8 251.5,153.7 253.8,154.5 256.2,154.9 258.5,155.6 261.0,156.4 263.2,158.0 266.0,158.1 268.5,158.8 270.9,159.9 273.3,160.8 275.8,161.2 278.3,161.4 280.6,161.5 282.8,161.2 285.0,160.6 287.2,160.3 289.9,157.9 292.7,157.3 295.4,157.1 298.4,156.0 301.0,154.5 304.0,153.5 307.0,152.0 307.5,149.5 308.0,147.2 308.8,144.7 308.8,142.3 308.4,139.9 306.7,136.1"/><polyline points="290.0,159.3 291.6,161.2 293.6,162.5 295.5,164.2 297.9,165.3 300.6,165.5 303.0,166.9 305.4,167.8 307.8,168.3 310.4,168.6 313.2,168.6 315.9,169.3 318.9,169.1 321.3,167.1 324.2,166.4 327.1,166.2 329.8,165.2 332.6,164.5 335.0,164.3 337.6,164.7 339.9,163.7 342.8,162.9 345.6,162.1 348.5,161.4 351.1,160.2 353.4,159.1 356.1,159.0 358.4,157.7 360.9,157.5 363.4,157.3 365.9,157.6 368.3,156.8 370.9,157.0 373.2,156.1 375.5,155.7 377.7,155.3 380.0,155.6"/><polyline points="371.3,138.0 373.0,139.6 374.0,141.9 376.3,142.8 378.7,143.5 380.4,145.6 381.2,148.2 382.1,151.7 381.0,153.7 379.6,155.6 381.9,155.9 384.1,156.3 386.1,157.3 388.2,158.2 390.6,158.2 392.5,159.6 394.9,159.3 397.1,159.7 399.3,159.8 401.4,161.3 403.8,161.4 406.3,160.9 408.7,160.0 411.2,158.7 413.6,159.4 416.0,159.9 418.6,159.8 420.8,161.3 423.5,161.2 425.8,161.6 428.4,162.1 430.8,161.0 433.3,161.6 435.5,161.2 437.7,161.5 440.0,161.5 442.2,161.8 444.4,161.6 446.7,161.6 448.8,162.8 451.1,162.3 453.3,163.1 455.6,162.7 457.9,163.4 460.1,163.1 462.3,162.7 464.5,162.5 466.7,162.1 468.9,162.5 471.2,161.9 473.4,162.6 475.5,163.2 477.6,162.7 480.2,162.3 482.4,161.2 484.4,159.5 486.6,158.4 488.9,157.3 491.1,157.1 493.4,157.6 495.5,156.7 497.7,156.1 500.2,156.0 502.4,157.7 504.7,158.9 507.4,159.3 509.3,160.8 511.1,162.4 513.0,163.9"/><polyline points="424.1,162.0 423.6,165.2 424.5,168.5 424.7,171.3 423.5,174.0 423.8,176.7 423.3,179.1 422.0,181.5 422.8,184.2 422.7,186.8 421.8,189.6 419.6,191.6 418.6,194.6 416.6,195.5 414.5,196.4 413.0,197.9 410.5,197.9 408.0,198.5 406.0,199.5 403.4,200.6 401.8,202.8 402.1,206.1 401.9,209.3"/><polyline points="401.9,209.3 403.9,211.1 406.2,212.5 408.6,213.8 411.3,214.3 413.3,215.8 415.6,216.6 417.7,217.6 420.1,218.1 422.1,219.0 424.4,218.8 426.6,218.0 428.8,217.7 430.9,216.7 433.1,216.2 435.7,216.0 437.9,214.8 440.3,213.9 442.7,213.3 445.0,212.2 447.4,211.2 449.9,211.4 452.3,211.9 454.6,212.7 456.9,213.3 459.1,214.4 461.6,214.5 463.6,215.7 466.0,216.0 468.2,216.9 470.4,217.8 472.8,216.8 475.2,215.9 477.8,215.7 480.6,215.0 483.3,214.0 485.6,214.3 487.9,215.0 490.3,214.9 492.7,215.3 495.0,216.4 497.1,217.9 499.7,218.1 502.3,219.1 503.8,221.3 505.4,223.4 506.8,225.9 506.1,228.4 505.5,230.8 505.8,233.4 504.5,235.8 503.4,238.3 501.9,240.7"/><polyline points="481.5,163.0 481.4,165.4 481.3,167.7 482.2,170.1 481.4,172.5 482.4,174.5 484.1,177.0 486.8,179.0 485.8,181.5 486.3,184.1 485.5,186.6 485.2,189.1 485.0,191.6 484.8,194.4 483.8,196.9 483.2,199.5 483.7,202.4 482.8,205.1 481.9,207.9 481.8,210.9 483.2,212.9 484.2,215.0"/><polyline points="501.9,240.7 504.6,239.4 507.6,238.8 510.4,238.3 513.1,237.2 515.9,237.6 518.8,237.7 521.7,237.4 524.5,238.8 527.2,237.6 530.0,237.3 532.9,237.1 535.7,237.0 538.5,236.1 541.6,236.4 543.5,234.1"/><polyline points="300.0,271.1 302.4,272.0 305.0,272.0 307.3,272.7 309.7,272.6 311.9,271.5 314.4,271.9 316.6,271.4 319.3,271.2 321.6,272.6 324.1,273.0 325.8,274.4 327.5,275.9 329.0,276.9 330.7,279.4 331.4,282.6 333.9,283.2 336.3,284.0 339.2,283.6 341.1,285.8 344.0,286.3 346.6,287.5 348.1,289.7 349.9,291.9 352.7,292.5 355.7,292.3 358.2,294.2 361.7,295.2 360.5,297.7 361.3,300.1 361.1,302.6 360.6,305.5 359.5,308.6 357.0,309.6 354.3,309.9 351.9,310.8 349.3,311.5 346.8,312.4 344.4,313.8 341.5,314.3 339.2,315.8 336.6,319.5 338.2,321.5 338.5,324.2 340.9,326.1 342.7,328.5 343.5,331.3 344.9,334.0 345.2,336.5 345.0,339.0 345.1,341.5 345.9,344.0 345.5,346.4 345.5,348.8 346.4,351.8 347.5,354.2 347.7,357.4 346.2,360.0 346.9,362.4 346.2,364.9 346.1,367.4 346.7,369.8"/><polyline points="361.1,308.1 363.4,308.5 365.7,308.8 368.0,309.4 370.4,308.7 372.8,308.2 375.4,308.8 377.7,307.9 381.4,306.3 380.9,303.4 379.2,300.6 381.0,298.1 381.5,295.2 382.3,292.5 384.4,290.5 385.3,287.9 387.3,285.0 390.0,285.2 392.4,284.3 394.8,283.6 397.2,283.0 399.7,282.9 401.9,281.4 405.3,281.3 408.1,279.7 411.8,277.1 415.3,278.3 419.1,278.0 422.6,280.6 424.8,282.1 427.1,283.3 431.2,282.9 433.3,281.7 435.2,280.4"/><polyline points="346.3,356.3 348.5,355.4 350.9,354.9 353.3,355.0 355.7,354.0 358.2,354.6 360.5,355.6 363.0,356.2 365.4,355.3 367.9,354.9 370.6,354.8 372.7,352.8 375.2,351.6 377.4,350.3 379.4,348.2 381.6,345.6 384.2,347.1 387.1,346.8 388.5,348.7 391.0,349.1 392.3,351.0 394.4,352.6 396.3,354.4"/><polyline points="380.0,346.7 382.7,347.2 385.4,347.5 387.7,348.4 390.0,349.7 391.6,351.6 393.5,353.2 396.1,354.2 398.6,355.7 401.7,355.7 403.2,357.4 405.1,358.5 406.7,359.9 409.3,361.1 412.1,360.8 414.7,361.5 417.4,362.2 419.9,363.5 422.7,364.0 425.5,364.6 428.1,365.8 430.7,366.7 433.2,368.4 436.0,369.5 438.1,370.9 439.5,373.1 441.5,374.6 443.2,376.1 445.2,377.2 446.8,378.7 449.5,378.7 452.1,377.9 455.0,377.6 456.8,375.9 458.4,373.9 460.3,372.1 460.0,369.4 460.2,366.8 460.3,364.4 461.6,362.4 463.9,361.9 465.3,359.9 468.0,358.8 470.7,357.9 473.4,357.2 475.2,355.6 477.4,354.6 479.4,353.3 481.6,352.3 484.2,351.2 487.0,350.8 489.5,349.6 492.2,349.6 494.8,350.7 497.5,350.9 500.1,351.7 502.8,351.9 505.4,352.7 508.2,352.2 510.9,352.7 513.5,353.4"/><polyline points="411.5,42.4 411.8,44.9 412.4,47.4 413.0,49.9 412.5,52.5 413.3,54.9 413.6,57.2 413.8,59.5 413.8,61.9 413.8,64.2 414.7,66.4 414.4,68.8 414.8,71.2 416.1,73.4 416.6,76.2 414.8,78.5 412.3,80.9 413.8,83.2 414.6,85.7 415.7,87.7 415.3,90.2 414.6,92.6 414.4,95.1 414.1,97.5 412.7,99.7 412.7,102.2"/><polyline points="415.0,68.7 417.3,67.8 419.7,67.6 422.2,67.7 424.5,67.7 427.2,68.3 429.6,69.5 432.0,70.9 433.2,72.9 435.3,74.0 436.4,75.7 434.9,77.4 433.7,79.4 431.8,80.7 431.3,83.7 430.6,86.6 433.5,87.9 436.4,87.4 438.8,86.6 441.6,86.8 443.8,85.4 446.1,84.4 448.5,83.7 451.0,82.9 453.3,84.0 455.8,83.6 458.3,84.0 460.5,85.6 462.9,86.8 465.2,88.4 467.6,88.9 470.3,89.0 471.6,91.3 472.2,93.6 470.5,95.0 469.7,97.4 467.6,98.3 465.2,99.0 462.8,100.0 460.6,101.3 458.0,101.5 455.6,102.3 453.5,103.7 450.8,105.1 448.9,107.2 447.9,109.6 446.4,111.8 446.0,114.2 445.5,116.6 444.8,119.0 445.0,121.5 445.3,123.9 445.6,126.1 445.2,128.5 445.1,130.9 445.0,133.3"/><polyline points="382.7,83.1 385.1,84.1 387.2,85.7 389.3,87.2 391.1,89.3 393.5,90.3 394.5,93.3 396.0,95.7 398.7,97.0 401.4,98.2 404.3,98.6 406.8,98.7 409.2,98.3 411.5,97.4"/><polyline points="412.7,102.2 415.0,103.2 417.4,104.1 419.7,105.3 422.3,105.5 424.5,106.9 426.8,108.0 429.2,109.0 431.9,109.0 434.1,110.4 436.6,111.1 439.0,111.8 441.8,113.5 445.0,114.2"/><polyline points="445.0,133.3 447.7,132.8 450.4,132.3 453.1,132.0 455.8,131.5 458.2,130.8 460.5,129.6 463.0,129.7 465.3,128.5 467.7,128.0 470.0,127.3 472.5,127.4 474.8,126.4 477.2,125.9 479.7,125.7 482.2,125.3 485.0,124.5 487.5,122.9 490.4,122.6"/><polyline points="485.7,87.9 487.4,89.7 488.9,91.4 487.8,94.3 486.5,97.6 488.3,99.7 488.7,102.4 490.3,104.6 490.9,107.1 491.7,109.5 492.3,111.7 492.7,114.2 492.2,116.6 491.4,119.1 492.3,121.4 492.9,123.9 494.0,126.2"/><polyline points="424.2,254.6 422.7,256.4 420.4,257.8 419.3,262.1 420.2,265.3 424.4,267.4 426.6,266.0 428.5,263.6 432.2,263.5 434.1,267.1 433.9,270.1 434.6,273.0 433.7,275.2 433.0,277.4 435.2,280.5 438.9,282.3 441.8,282.8 444.9,282.4 447.6,284.0 450.5,285.2 453.7,285.8 456.8,286.6 458.8,288.1 460.8,289.5 463.2,290.7 465.6,291.9 467.5,293.9 470.0,295.0 470.5,297.7 472.4,299.9 472.4,302.4 473.2,304.8 473.0,307.3 474.3,309.2 475.7,311.2 477.8,312.0 479.6,313.2 482.3,312.1 485.2,311.5"/></g>
<g clip-path="url(#hn)" fill="none" stroke="#f00" stroke-width="2.6" stroke-linejoin="round" stroke-linecap="round"><path d="M545.5 192.3 L544.5 192.7 L542.9 193.5 L541.5 194.5 L540.5 195.4 L539.6 196.5 L539.0 197.5 L538.5 198.8 L538.2 200.5 L538.2 202.5 L538.5 203.6 L539.4 205.5 L540.1 206.5 L541.0 207.5 L542.2 208.5 L543.5 209.3 L544.5 209.8 L546.5 210.4 L547.5 210.7 L549.5 210.8 L551.5 210.8 L553.1 210.5 L554.5 210.1 L556.0 209.5 L557.5 208.6 L558.5 207.8 L559.5 206.9 L560.5 205.5 L561.0 204.5 L561.5 203.1 L561.7 201.5 L561.5 199.5 L561.2 198.5 L560.5 197.0 L559.5 195.6 L558.5 194.6 L557.5 193.8 L556.5 193.2 L554.9 192.5 L553.5 192.0 L551.5 191.7 L549.5 191.6 L547.5 191.8 L545.5 192.3"/><path d="M164.5 148.4 L163.5 148.6 L161.5 149.0 L159.9 149.5 L158.5 150.0 L157.2 150.5 L155.5 151.2 L154.5 151.7 L153.0 152.5 L151.5 153.4 L150.5 154.1 L149.5 154.8 L148.5 155.6 L147.5 156.5 L146.4 157.5 L145.5 158.5 L144.5 159.6 L143.5 161.0 L142.5 162.5 L141.9 163.5 L141.4 164.5 L140.5 166.5 L140.2 167.5 L139.6 169.5 L139.4 170.5 L139.2 172.5 L139.1 174.5 L139.2 176.5 L139.5 178.5 L139.7 179.5 L140.3 181.5 L140.6 182.5 L141.5 184.4 L142.1 185.5 L142.6 186.5 L143.5 187.8 L144.5 189.1 L145.5 190.3 L146.5 191.3 L147.5 192.3 L148.5 193.1 L149.5 193.9 L150.5 194.7 L151.8 195.5 L153.5 196.5 L154.5 197.1 L155.5 197.5 L157.5 198.4 L158.5 198.8 L160.5 199.5 L161.5 199.7 L163.5 200.2 L164.9 200.5 L166.5 200.7 L168.5 201.0 L170.5 201.1 L172.5 201.1 L174.5 201.0 L176.5 200.8 L178.5 200.5 L179.5 200.3 L181.5 199.8 L182.7 199.5 L184.5 198.9 L185.6 198.5 L187.5 197.7 L188.5 197.2 L189.9 196.5 L191.5 195.5 L192.5 194.9 L193.5 194.1 L194.5 193.3 L195.5 192.5 L196.5 191.5 L197.5 190.5 L198.5 189.3 L199.5 188.0 L200.5 186.5 L201.1 185.5 L201.6 184.5 L202.5 182.5 L202.8 181.5 L203.4 179.5 L203.6 178.5 L203.9 176.5 L203.9 174.5 L203.9 172.5 L203.6 170.5 L203.4 169.5 L202.8 167.5 L202.5 166.5 L201.6 164.5 L201.1 163.5 L200.5 162.5 L199.5 161.0 L198.5 159.7 L197.5 158.5 L196.5 157.5 L195.5 156.5 L194.5 155.6 L193.5 154.9 L192.5 154.1 L191.5 153.4 L189.9 152.5 L188.5 151.7 L187.5 151.2 L185.8 150.5 L184.5 150.0 L183.0 149.5 L181.5 149.1 L179.5 148.6 L178.5 148.4 L176.5 148.1 L174.5 147.9 L172.5 147.8 L170.5 147.8 L168.5 147.9 L166.5 148.1 L164.5 148.4"/><path d="M438.5 160.5 L437.5 160.7 L435.5 161.3 L434.5 161.7 L432.8 162.5 L431.5 163.3 L430.5 164.0 L429.5 164.9 L428.5 166.0 L427.5 167.3 L426.8 168.5 L426.4 169.5 L425.8 171.5 L425.6 173.5 L425.8 175.5 L426.4 177.5 L426.8 178.5 L427.5 179.7 L428.5 181.0 L429.5 182.1 L430.5 182.9 L431.5 183.7 L432.9 184.5 L434.5 185.3 L435.5 185.7 L437.5 186.2 L439.0 186.5 L440.5 186.7 L442.5 186.7 L444.5 186.6 L445.5 186.4 L447.5 186.0 L448.8 185.5 L450.5 184.8 L451.5 184.2 L452.6 183.5 L453.9 182.5 L454.9 181.5 L455.8 180.5 L456.5 179.4 L457.4 177.5 L457.8 176.5 L458.1 174.5 L458.1 172.5 L457.7 170.5 L457.4 169.5 L456.5 167.8 L455.7 166.5 L454.8 165.5 L453.8 164.5 L452.6 163.5 L451.5 162.8 L450.5 162.2 L448.9 161.5 L447.5 161.0 L445.5 160.5 L444.5 160.4 L442.5 160.2 L440.5 160.3 L438.5 160.5"/><path d="M547.5 174.4 L546.5 174.5 L544.5 174.9 L542.5 175.3 L541.5 175.6 L539.5 176.2 L538.5 176.5 L536.5 177.2 L535.5 177.7 L533.7 178.5 L532.5 179.1 L531.5 179.7 L530.1 180.5 L528.6 181.5 L527.5 182.3 L526.5 183.0 L525.5 183.9 L524.5 184.8 L523.5 185.8 L522.5 186.9 L521.5 188.1 L520.5 189.4 L519.7 190.5 L519.1 191.5 L518.5 192.7 L517.6 194.5 L517.2 195.5 L516.6 197.5 L516.4 198.5 L516.0 200.5 L515.8 202.5 L515.8 204.5 L515.9 206.5 L516.2 208.5 L516.5 209.7 L517.0 211.5 L517.5 212.8 L518.3 214.5 L518.8 215.5 L519.5 216.8 L520.5 218.3 L521.3 219.5 L522.1 220.5 L523.0 221.5 L523.9 222.5 L525.0 223.5 L526.1 224.5 L527.3 225.5 L528.5 226.4 L529.5 227.1 L530.5 227.7 L531.8 228.5 L533.5 229.5 L534.5 230.0 L535.7 230.5 L537.5 231.3 L538.5 231.6 L540.5 232.3 L541.5 232.6 L543.5 233.1 L545.2 233.5 L546.5 233.7 L548.5 234.0 L550.5 234.2 L552.5 234.4 L554.5 234.4 L556.5 234.3 L558.5 234.2 L560.5 234.0 L562.5 233.7 L563.5 233.5 L565.5 233.0 L567.5 232.5 L568.5 232.2 L570.5 231.5 L571.5 231.1 L572.9 230.5 L574.5 229.7 L575.5 229.2 L576.7 228.5 L578.3 227.5 L579.5 226.7 L580.5 225.9 L581.5 225.1 L582.5 224.2 L583.5 223.3 L584.5 222.2 L585.5 221.1 L586.5 219.8 L587.5 218.5 L588.1 217.5 L588.7 216.5 L589.5 214.8 L590.1 213.5 L590.5 212.4 L591.1 210.5 L591.5 208.5 L591.7 207.5 L591.8 205.5 L591.9 203.5 L591.7 201.5 L591.5 200.1 L591.2 198.5 L590.6 196.5 L590.3 195.5 L589.5 193.7 L588.9 192.5 L588.4 191.5 L587.5 190.1 L586.5 188.7 L585.6 187.5 L584.7 186.5 L583.8 185.5 L582.7 184.5 L581.6 183.5 L580.5 182.6 L579.5 181.8 L578.5 181.1 L577.5 180.5 L575.9 179.5 L574.5 178.8 L573.5 178.3 L571.8 177.5 L570.5 177.0 L569.2 176.5 L567.5 175.9 L565.9 175.5 L564.5 175.1 L562.5 174.7 L561.2 174.5 L559.5 174.3 L557.5 174.1 L555.5 174.0 L553.5 173.9 L551.5 174.0 L549.5 174.1 L547.5 174.4"/><path d="M461.5 262.4 L460.5 262.9 L459.5 263.6 L458.5 264.6 L457.6 266.5 L457.4 267.5 L457.5 268.5 L458.3 270.5 L459.2 271.5 L460.5 272.5 L461.5 273.0 L463.5 273.5 L464.5 273.6 L465.6 273.5 L467.5 273.0 L468.7 272.5 L470.0 271.5 L470.8 270.5 L471.5 269.0 L471.7 267.5 L471.5 266.4 L470.5 264.5 L469.5 263.5 L468.5 262.8 L467.5 262.4 L465.5 261.9 L463.5 261.9 L461.5 262.4"/><path d="M646.5 196.9 L645.7 195.5 L645.1 194.5 L644.5 193.5 L643.5 191.9 L642.5 190.5 L641.8 189.5 L641.1 188.5 L640.3 187.5 L639.5 186.5 L638.5 185.3 L637.5 184.2 L636.5 183.1 L635.5 182.0 L634.5 181.0 L633.5 180.1 L632.5 179.1 L631.5 178.2 L630.5 177.3 L629.5 176.5 L628.3 175.5 L627.0 174.5 L625.6 173.5 L624.5 172.7 L623.5 172.0 L622.5 171.3 L621.2 170.5 L619.6 169.5 L618.5 168.8 L617.5 168.3 L616.1 167.5 L614.5 166.6 L613.5 166.1 L612.2 165.5 L610.5 164.7 L609.5 164.3 L607.7 163.5 L606.5 163.0 L605.2 162.5 L603.5 161.9 L602.5 161.5 L600.5 160.8 L599.5 160.5 L597.5 159.9 L596.1 159.5 L594.5 159.1 L592.5 158.6 L591.5 158.4 L589.5 157.9 L587.5 157.5 L586.5 157.4 L584.5 157.0 L582.5 156.7 L580.7 156.5 L579.5 156.4 L577.5 156.2 L575.5 156.0 L573.5 155.9 L571.5 155.8 L569.5 155.7 L567.5 155.7 L565.5 155.7 L563.5 155.8 L561.5 155.9 L559.5 156.0 L557.5 156.2 L555.5 156.3 L554.1 156.5 L552.5 156.7 L550.5 157.0 L548.5 157.3 L547.1 157.5 L545.5 157.8 L543.5 158.2 L541.9 158.5 L540.5 158.8 L538.5 159.3 L537.5 159.5 L535.5 160.0 L533.7 160.5 L532.5 160.8 L530.5 161.4 L529.5 161.7 L527.5 162.3 L526.5 162.7 L524.5 163.3 L523.5 163.7 L521.5 164.3 L520.5 164.7 L518.5 165.4 L517.5 165.8 L515.5 166.5 L514.5 166.8 L512.6 167.5 L511.5 167.9 L509.6 168.5 L508.5 168.9 L506.5 169.5 L505.5 169.8 L503.5 170.3 L502.5 170.5 L500.5 170.9 L498.5 171.1 L496.5 171.2 L494.5 171.1 L492.5 170.9 L491.0 170.5 L489.5 170.0 L488.2 169.5 L486.5 168.7 L485.5 168.2 L484.4 167.5 L482.9 166.5 L481.5 165.6 L480.5 164.9 L479.5 164.1 L478.5 163.4 L477.3 162.5 L476.0 161.5 L474.6 160.5 L473.5 159.8 L472.5 159.1 L471.5 158.4 L470.1 157.5 L468.5 156.6 L467.5 156.0 L466.5 155.4 L464.7 154.5 L463.5 153.9 L462.5 153.5 L460.5 152.7 L459.5 152.3 L457.5 151.6 L456.5 151.4 L454.5 150.8 L452.9 150.5 L451.5 150.3 L449.5 150.0 L447.5 149.8 L445.5 149.7 L443.5 149.8 L441.5 149.9 L439.5 150.1 L437.5 150.5 L436.5 150.7 L434.5 151.1 L433.3 151.5 L431.5 152.1 L430.3 152.5 L428.5 153.2 L427.5 153.7 L425.8 154.5 L424.5 155.2 L423.5 155.7 L422.2 156.5 L420.6 157.5 L419.5 158.2 L418.5 158.9 L417.5 159.7 L416.4 160.5 L415.1 161.5 L413.9 162.5 L412.7 163.5 L411.6 164.5 L410.5 165.5 L409.5 166.4 L408.5 167.4 L407.5 168.3 L406.5 169.2 L405.5 170.1 L404.5 171.0 L403.5 171.8 L402.5 172.6 L401.2 173.5 L399.5 174.5 L398.5 175.0 L396.7 175.5 L395.5 175.7 L393.5 175.6 L392.5 175.4 L390.5 174.5 L389.5 173.9 L388.5 173.2 L387.5 172.3 L386.5 171.4 L385.5 170.4 L384.5 169.3 L383.5 168.3 L382.5 167.2 L381.5 166.2 L380.5 165.3 L379.5 164.3 L378.5 163.5 L377.3 162.5 L376.0 161.5 L374.6 160.5 L373.5 159.8 L372.5 159.2 L371.1 158.5 L369.5 157.8 L368.5 157.4 L366.5 156.7 L365.5 156.4 L363.5 156.0 L361.5 155.7 L359.5 155.6 L357.5 155.5 L355.5 155.6 L353.5 155.7 L351.5 156.0 L349.5 156.4 L348.5 156.6 L346.5 157.2 L345.5 157.5 L343.5 158.4 L342.5 158.9 L341.5 159.5 L340.1 160.5 L338.8 161.5 L337.8 162.5 L336.9 163.5 L336.1 164.5 L335.4 165.5 L334.5 167.1 L333.9 168.5 L333.5 169.5 L332.9 171.5 L332.5 173.3 L332.3 174.5 L332.3 176.5 L332.4 178.5 L332.5 179.6 L332.9 181.5 L333.4 183.5 L333.8 184.5 L334.5 186.2 L335.1 187.5 L335.7 188.5 L336.5 189.9 L337.5 191.4 L338.3 192.5 L339.0 193.5 L339.8 194.5 L340.7 195.5 L341.6 196.5 L342.5 197.6 L343.5 198.7 L344.5 199.8 L345.5 200.9 L346.5 202.1 L347.5 203.3 L348.3 204.5 L348.9 205.5 L349.5 206.8 L350.1 208.5 L350.5 210.5 L350.6 211.5 L350.6 213.5 L350.5 215.5 L350.4 216.5 L350.2 218.5 L350.0 220.5 L349.7 222.5 L349.5 224.3 L349.4 225.5 L349.2 227.5 L349.0 229.5 L348.9 231.5 L348.7 233.5 L348.5 235.5 L348.4 236.5 L348.0 238.5 L347.5 240.4 L347.1 241.5 L346.5 242.9 L345.7 244.5 L345.1 245.5 L344.5 246.5 L343.5 248.4 L342.9 249.5 L342.5 250.5 L341.8 252.5 L341.5 254.1 L341.4 255.5 L341.4 257.5 L341.6 258.5 L342.2 260.5 L342.7 261.5 L343.5 262.8 L344.5 264.1 L345.5 265.1 L346.5 265.9 L347.5 266.7 L349.0 267.5 L350.5 268.2 L351.5 268.6 L353.5 269.1 L355.5 269.5 L356.5 269.6 L358.5 269.6 L360.5 269.6 L361.5 269.5 L363.5 269.2 L365.5 268.7 L366.5 268.5 L368.5 268.0 L370.4 267.5 L371.5 267.2 L373.5 266.8 L375.4 266.5 L376.5 266.4 L378.5 266.2 L380.5 266.1 L382.5 266.1 L384.5 266.1 L386.5 266.1 L388.5 266.0 L390.5 265.8 L392.5 265.5 L393.5 265.4 L395.5 265.0 L397.4 264.5 L398.5 264.2 L400.5 263.5 L401.5 263.2 L403.4 262.5 L404.5 262.1 L406.3 261.5 L407.5 261.1 L409.5 260.5 L410.5 260.3 L412.5 259.9 L414.5 259.6 L416.0 259.5 L417.3 259.5 L418.5 259.6 L420.5 259.9 L422.5 260.4 L423.5 260.8 L424.8 261.5 L426.4 262.5 L427.5 263.4 L428.5 264.4 L429.4 265.5 L430.1 266.5 L430.7 267.5 L431.5 269.4 L431.9 270.5 L432.3 272.5 L432.5 274.1 L432.6 275.5 L432.6 277.5 L432.5 279.5 L432.6 281.5 L432.8 283.5 L433.5 285.4 L434.1 286.5 L434.8 287.5 L435.6 288.5 L436.5 289.5 L437.6 290.5 L438.8 291.5 L440.1 292.5 L441.5 293.5 L442.5 294.2 L443.5 294.9 L444.5 295.6 L446.0 296.5 L447.5 297.4 L448.5 298.0 L449.5 298.6 L451.0 299.5 L452.5 300.3 L453.5 300.9 L454.7 301.5 L456.5 302.4 L457.5 302.9 L458.7 303.5 L460.5 304.3 L461.5 304.8 L463.2 305.5 L464.5 306.0 L465.7 306.5 L467.5 307.1 L468.5 307.5 L470.5 308.1 L471.7 308.5 L473.5 309.0 L475.5 309.5 L476.5 309.7 L478.5 310.2 L480.3 310.5 L481.5 310.7 L483.5 311.0 L485.5 311.3 L487.5 311.5 L488.5 311.6 L490.5 311.7 L492.5 311.8 L494.5 311.9 L496.5 311.9 L498.5 311.9 L500.5 311.9 L502.5 311.8 L504.5 311.7 L506.5 311.6 L507.6 311.5 L509.5 311.3 L511.5 311.1 L513.5 310.9 L515.5 310.7 L517.1 310.5 L518.5 310.3 L520.5 310.0 L522.5 309.7 L524.0 309.5 L525.5 309.3 L527.5 308.9 L529.5 308.6 L530.5 308.4 L532.5 308.1 L534.5 307.7 L535.7 307.5 L537.5 307.2 L539.5 306.8 L541.2 306.5 L542.5 306.2 L544.5 305.9 L546.5 305.5 L547.5 305.3 L549.5 304.9 L551.5 304.5 L552.5 304.3 L554.5 303.9 L556.5 303.5 L557.5 303.3 L559.5 302.9 L561.5 302.5 L562.5 302.3 L564.5 301.9 L566.2 301.5 L567.5 301.2 L569.5 300.8 L570.7 300.5 L572.5 300.1 L574.5 299.6 L575.5 299.3 L577.5 298.8 L578.7 298.5 L580.5 298.0 L582.3 297.5 L583.5 297.2 L585.5 296.6 L586.5 296.3 L588.5 295.6 L589.5 295.3 L591.5 294.6 L592.5 294.3 L594.5 293.6 L595.5 293.2 L597.4 292.5 L598.5 292.1 L599.9 291.5 L601.5 290.8 L602.5 290.4 L604.5 289.5 L605.5 289.0 L606.6 288.5 L608.5 287.6 L609.5 287.1 L610.6 286.5 L612.5 285.5 L613.5 284.9 L614.5 284.4 L615.9 283.5 L617.5 282.6 L618.5 281.9 L619.5 281.3 L620.7 280.5 L622.1 279.5 L623.5 278.5 L624.5 277.8 L625.5 277.0 L626.5 276.2 L627.5 275.4 L628.6 274.5 L629.8 273.5 L630.9 272.5 L632.0 271.5 L633.0 270.5 L634.0 269.5 L635.0 268.5 L635.9 267.5 L636.9 266.5 L637.7 265.5 L638.6 264.5 L639.5 263.4 L640.5 262.1 L641.5 260.8 L642.4 259.5 L643.1 258.5 L643.7 257.5 L644.5 256.3 L645.5 254.6 L646.1 253.5 L646.5 252.8"/><path d="M96.5 222.9 L97.5 223.6 L98.9 224.5 L100.4 225.5 L101.5 226.1 L102.5 226.7 L103.9 227.5 L105.5 228.4 L106.5 228.9 L107.7 229.5 L109.5 230.3 L110.5 230.8 L112.2 231.5 L113.5 232.0 L114.7 232.5 L116.5 233.2 L117.5 233.5 L119.5 234.2 L120.5 234.5 L122.5 235.1 L123.9 235.5 L125.5 235.9 L127.5 236.4 L128.5 236.6 L130.5 237.0 L132.5 237.4 L133.5 237.6 L135.5 237.9 L137.5 238.1 L139.5 238.4 L141.1 238.5 L142.5 238.6 L144.5 238.7 L146.5 238.8 L148.5 238.9 L150.5 238.9 L152.5 238.9 L154.5 238.8 L156.5 238.7 L158.5 238.6 L159.7 238.5 L161.5 238.3 L163.5 238.1 L165.5 237.8 L167.5 237.5 L168.5 237.4 L170.5 237.0 L172.5 236.6 L173.5 236.4 L175.5 235.9 L177.1 235.5 L178.5 235.1 L180.5 234.5 L181.5 234.2 L183.5 233.6 L184.5 233.2 L186.5 232.5 L187.5 232.1 L189.1 231.5 L190.5 230.9 L191.5 230.4 L193.5 229.5 L194.5 229.0 L195.5 228.5 L197.4 227.5 L198.5 226.9 L199.5 226.3 L200.8 225.5 L202.3 224.5 L203.5 223.7 L204.5 223.0 L205.5 222.2 L206.5 221.4 L207.7 220.5 L208.8 219.5 L209.9 218.5 L211.0 217.5 L212.0 216.5 L212.9 215.5 L213.8 214.5 L214.7 213.5 L215.5 212.4 L216.5 211.1 L217.5 209.7 L218.3 208.5 L218.9 207.5 L219.5 206.5 L220.5 204.8 L221.1 203.5 L221.6 202.5 L222.5 200.6 L222.9 199.5 L223.5 198.1 L224.1 196.5 L224.5 195.2 L225.0 193.5 L225.5 191.6 L225.8 190.5 L226.2 188.5 L226.5 186.8 L226.7 185.5 L227.0 183.5 L227.1 181.5 L227.2 179.5 L227.3 177.5 L227.2 175.5 L227.1 173.5 L226.9 171.5 L226.7 169.5 L226.5 168.4 L226.1 166.5 L225.7 164.5 L225.4 163.5 L224.9 161.5 L224.5 160.3 L223.9 158.5 L223.5 157.4 L222.7 155.5 L222.3 154.5 L221.5 152.7 L220.9 151.5 L220.4 150.5 L219.5 148.7 L218.8 147.5 L218.2 146.5 L217.5 145.3 L216.5 143.7 L215.7 142.5 L214.9 141.5 L214.2 140.5 L213.4 139.5 L212.5 138.3 L211.5 137.1 L210.5 136.0 L209.5 134.9 L208.5 133.9 L207.5 132.9 L206.5 131.9 L205.5 131.0 L204.5 130.1 L203.5 129.3 L202.5 128.5 L201.3 127.5 L199.9 126.5 L198.5 125.5 L197.5 124.8 L196.5 124.1 L195.5 123.5 L193.8 122.5 L192.5 121.7 L191.5 121.2 L190.2 120.5 L188.5 119.6 L187.5 119.2 L186.0 118.5 L184.5 117.8 L183.5 117.4 L181.5 116.6 L180.5 116.3 L178.5 115.6 L177.5 115.3 L175.5 114.6 L174.5 114.4 L172.5 113.8 L171.2 113.5 L169.5 113.1 L167.5 112.7 L166.4 112.5 L164.5 112.2 L162.5 111.9 L160.5 111.6 L159.5 111.5 L157.5 111.3 L155.5 111.1 L153.5 111.0 L151.5 111.0 L149.5 110.9 L147.5 111.0 L145.5 111.0 L143.5 111.1 L141.5 111.3 L139.5 111.4 L138.5 111.5 L136.5 111.8 L134.5 112.1 L132.5 112.4 L131.5 112.6 L129.5 113.0 L127.5 113.4 L126.5 113.7 L124.5 114.2 L123.3 114.5 L121.5 115.0 L120.0 115.5 L118.5 116.0 L117.1 116.5 L115.5 117.1 L114.4 117.5 L112.5 118.3 L111.5 118.7 L109.8 119.5 L108.5 120.1 L107.5 120.6 L105.7 121.5 L104.5 122.2 L103.5 122.7 L102.2 123.5 L100.5 124.5 L99.5 125.2 L98.5 125.8 L97.5 126.5 L96.5 127.2"/><path d="M646.5 102.4 L645.5 102.8 L643.7 103.5 L642.5 104.0 L641.1 104.5 L639.5 105.1 L638.5 105.5 L636.5 106.2 L635.5 106.6 L633.5 107.4 L632.5 107.7 L630.5 108.5 L629.5 108.8 L627.7 109.5 L626.5 109.9 L625.0 110.5 L623.5 111.0 L622.2 111.5 L620.5 112.1 L619.4 112.5 L617.5 113.2 L616.5 113.6 L614.5 114.3 L613.5 114.6 L611.5 115.3 L610.5 115.7 L608.5 116.4 L607.5 116.7 L605.5 117.4 L604.5 117.8 L602.5 118.5 L601.5 118.8 L599.6 119.5 L598.5 119.9 L596.7 120.5 L595.5 120.9 L593.8 121.5 L592.5 121.9 L590.9 122.5 L589.5 123.0 L587.9 123.5 L586.5 124.0 L585.0 124.5 L583.5 125.0 L582.0 125.5 L580.5 126.0 L579.1 126.5 L577.5 127.0 L576.1 127.5 L574.5 128.0 L573.1 128.5 L571.5 129.0 L570.1 129.5 L568.5 130.0 L567.1 130.5 L565.5 131.0 L564.0 131.5 L562.5 132.0 L561.0 132.5 L559.5 133.0 L557.9 133.5 L556.5 133.9 L554.8 134.5 L553.5 134.9 L551.6 135.5 L550.5 135.8 L548.5 136.5 L547.5 136.8 L545.5 137.4 L544.5 137.7 L542.5 138.3 L541.5 138.6 L539.5 139.2 L538.3 139.5 L536.5 140.0 L534.8 140.5 L533.5 140.8 L531.5 141.4 L530.5 141.6 L528.5 142.1 L526.9 142.5 L525.5 142.8 L523.5 143.3 L522.4 143.5 L520.5 143.9 L518.5 144.3 L517.1 144.5 L515.5 144.7 L513.5 145.0 L511.5 145.3 L509.5 145.4 L508.5 145.5 L506.5 145.6 L504.5 145.7 L502.5 145.7 L500.5 145.7 L498.5 145.6 L497.2 145.5 L495.5 145.3 L493.5 145.1 L491.5 144.8 L489.5 144.5 L488.5 144.3 L486.5 143.9 L484.5 143.5 L483.5 143.3 L481.5 142.8 L480.4 142.5 L478.5 142.0 L476.5 141.5 L475.5 141.2 L473.5 140.7 L472.5 140.4 L470.5 139.9 L468.9 139.5 L467.5 139.1 L465.5 138.7 L464.5 138.4 L462.5 138.0 L460.5 137.6 L459.5 137.4 L457.5 137.1 L455.5 136.8 L453.5 136.6 L451.8 136.5 L450.5 136.4 L448.5 136.4 L446.5 136.4 L444.9 136.5 L443.5 136.6 L441.5 136.9 L439.5 137.2 L438.0 137.5 L436.5 137.9 L434.5 138.4 L433.5 138.8 L431.5 139.5 L430.5 139.9 L429.0 140.5 L427.5 141.1 L426.5 141.6 L424.6 142.5 L423.5 143.0 L422.5 143.5 L420.5 144.4 L419.5 144.9 L418.3 145.5 L416.5 146.3 L415.5 146.7 L413.6 147.5 L412.5 147.9 L410.9 148.5 L409.5 148.9 L407.5 149.5 L406.5 149.7 L404.5 150.1 L402.5 150.3 L400.5 150.5 L398.5 150.4 L396.5 150.3 L394.5 150.0 L392.5 149.5 L391.5 149.2 L389.5 148.5 L388.5 148.1 L387.2 147.5 L385.5 146.6 L384.5 146.1 L383.5 145.4 L382.2 144.5 L381.0 143.5 L379.9 142.5 L378.9 141.5 L378.0 140.5 L377.2 139.5 L376.5 138.5 L375.5 137.0 L374.6 135.5 L374.1 134.5 L373.5 133.5 L372.5 131.6 L371.9 130.5 L371.4 129.5 L370.5 127.8 L369.7 126.5 L369.1 125.5 L368.5 124.5 L367.5 123.0 L366.5 121.7 L365.6 120.5 L364.8 119.5 L363.9 118.5 L362.9 117.5 L361.9 116.5 L360.8 115.5 L359.7 114.5 L358.5 113.6 L357.5 112.8 L356.5 112.1 L355.5 111.5 L353.9 110.5 L352.5 109.7 L351.5 109.1 L350.2 108.5 L348.5 107.7 L347.5 107.2 L345.7 106.5 L344.5 106.0 L343.0 105.5 L341.5 105.0 L339.9 104.5 L338.5 104.1 L336.5 103.5 L335.5 103.3 L333.5 102.8 L332.3 102.5 L330.5 102.1 L328.5 101.7 L327.3 101.5 L325.5 101.2 L323.5 100.9 L321.5 100.6 L320.5 100.4 L318.5 100.1 L316.5 99.9 L314.5 99.6 L313.5 99.4 L311.5 99.1 L309.5 98.8 L307.9 98.5 L306.5 98.2 L304.5 97.7 L303.5 97.4 L301.5 96.8 L300.5 96.4 L298.5 95.5 L297.5 95.0 L296.5 94.5 L294.8 93.5 L293.5 92.7 L292.5 92.0 L291.5 91.2 L290.5 90.5 L289.2 89.5 L288.0 88.5 L286.8 87.5 L285.6 86.5 L284.5 85.5 L283.5 84.6 L282.5 83.7 L281.5 82.8 L280.5 81.8 L279.5 80.9 L278.5 80.0 L277.5 79.0 L276.5 78.0 L275.5 77.1 L274.5 76.1 L273.5 75.1 L272.5 74.1 L271.5 73.1 L270.5 72.1 L269.5 71.1 L268.5 70.1 L267.5 69.1 L266.5 68.1 L265.5 67.1 L264.5 66.1 L263.5 65.1 L262.5 64.0 L261.5 63.0 L260.5 62.0 L259.5 61.0 L258.5 59.9 L257.5 58.9 L256.5 57.8 L255.5 56.8 L254.5 55.7 L253.5 54.7 L252.5 53.6 L251.5 52.6 L250.5 51.5 L249.6 50.5 L248.6 49.5 L247.7 48.5 L246.7 47.5 L245.8 46.5 L244.9 45.5 L244.0 44.5 L243.0 43.5 L242.1 42.5 L241.2 41.5 L240.3 40.5 L239.4 39.5 L238.5 38.5 L237.5 37.4 L236.5 36.3 L235.5 35.2 L234.5 34.1 L233.5 33.0 L232.5 31.8 L231.5 30.7 L230.5 29.6 L229.5 28.5"/><path d="M287.8 113.5 L289.5 113.4 L291.4 113.5 L292.5 113.6 L294.5 114.1 L295.6 114.5 L297.5 115.3 L298.5 115.9 L299.5 116.6 L300.7 117.5 L301.9 118.5 L303.0 119.5 L303.9 120.5 L304.8 121.5 L305.6 122.5 L306.5 123.6 L307.5 125.0 L308.4 126.5 L309.0 127.5 L309.6 128.5 L310.5 130.3 L311.0 131.5 L311.5 132.6 L312.2 134.5 L312.5 135.5 L313.0 137.5 L313.4 139.5 L313.5 140.5 L313.7 142.5 L313.7 144.5 L313.5 146.5 L313.4 147.5 L312.9 149.5 L312.5 150.8 L311.8 152.5 L311.3 153.5 L310.5 154.9 L309.5 156.4 L308.6 157.5 L307.7 158.5 L306.6 159.5 L305.5 160.5 L304.5 161.2 L303.5 161.9 L302.4 162.5 L300.5 163.4 L299.5 163.9 L297.6 164.5 L296.5 164.8 L294.5 165.2 L292.5 165.4 L291.5 165.5 L289.5 165.6 L287.5 165.5 L286.5 165.4 L284.5 165.2 L282.5 164.8 L281.2 164.5 L279.5 164.0 L277.9 163.5 L276.5 162.9 L275.5 162.5 L273.6 161.5 L272.5 160.8 L271.5 160.2 L270.5 159.4 L269.4 158.5 L268.3 157.5 L267.4 156.5 L266.5 155.4 L265.5 154.0 L264.6 152.5 L264.1 151.5 L263.5 150.2 L262.9 148.5 L262.5 147.1 L262.2 145.5 L261.9 143.5 L261.8 141.5 L261.9 139.5 L262.2 137.5 L262.5 136.0 L262.9 134.5 L263.5 132.7 L264.0 131.5 L264.5 130.4 L265.5 128.5 L266.1 127.5 L266.8 126.5 L267.5 125.5 L268.5 124.3 L269.5 123.2 L270.5 122.1 L271.5 121.2 L272.5 120.3 L273.5 119.5 L274.9 118.5 L276.4 117.5 L277.5 116.9 L278.5 116.3 L280.3 115.5 L281.5 115.0 L283.0 114.5 L284.5 114.1 L286.5 113.7 L287.8 113.5"/><path d="M263.6 276.5 L265.5 276.3 L267.5 276.2 L269.5 276.1 L271.5 276.0 L273.5 276.0 L275.5 276.1 L277.5 276.2 L279.5 276.4 L280.5 276.5 L282.5 276.8 L284.5 277.1 L286.4 277.5 L287.5 277.7 L289.5 278.2 L290.7 278.5 L292.5 279.0 L294.1 279.5 L295.5 280.0 L297.0 280.5 L298.5 281.1 L299.6 281.5 L301.5 282.3 L302.5 282.7 L304.1 283.5 L305.5 284.2 L306.5 284.7 L308.0 285.5 L309.5 286.3 L310.5 286.9 L311.5 287.5 L313.2 288.5 L314.5 289.4 L315.5 290.0 L316.5 290.7 L317.6 291.5 L319.0 292.5 L320.3 293.5 L321.5 294.5 L322.5 295.3 L323.5 296.1 L324.5 297.0 L325.5 297.9 L326.5 298.8 L327.5 299.8 L328.5 300.8 L329.5 301.8 L330.5 302.9 L331.5 304.1 L332.5 305.3 L333.5 306.5 L334.2 307.5 L334.9 308.5 L335.6 309.5 L336.5 310.8 L337.5 312.5 L338.1 313.5 L338.7 314.5 L339.5 316.2 L340.1 317.5 L340.6 318.5 L341.4 320.5 L341.8 321.5 L342.5 323.5 L342.8 324.5 L343.4 326.5 L343.7 327.5 L344.2 329.5 L344.5 330.9 L344.8 332.5 L345.2 334.5 L345.5 336.5 L345.6 337.5 L345.9 339.5 L346.1 341.5 L346.2 343.5 L346.4 345.5 L346.5 347.1 L346.6 348.5 L346.7 350.5 L346.8 352.5 L346.9 354.5 L347.0 356.5 L347.1 358.5 L347.3 360.5 L347.4 362.5 L347.6 363.5 L347.8 365.5 L348.2 367.5 L348.5 368.7 L349.1 370.5 L349.5 371.5 L350.5 373.3 L351.5 374.5 L352.5 375.3 L353.5 375.9 L355.5 376.4 L356.5 376.5 L357.8 376.5 L359.5 376.3 L361.5 375.9 L363.1 375.5 L364.5 375.1 L366.3 374.5 L367.5 374.1 L369.1 373.5 L370.5 373.0 L371.8 372.5 L373.5 371.8 L374.5 371.5 L376.5 370.7 L377.5 370.3 L379.5 369.6 L380.5 369.2 L382.5 368.5 L383.5 368.2 L385.5 367.5 L386.5 367.2 L388.5 366.6 L389.5 366.3 L391.5 365.8 L392.5 365.5 L394.5 365.0 L396.5 364.6 L397.5 364.4 L399.5 364.0 L401.5 363.7 L402.9 363.5 L404.5 363.3 L406.5 363.1 L408.5 362.9 L410.5 362.8 L412.5 362.8 L414.5 362.8 L416.5 362.8 L418.5 362.9 L420.5 363.0 L422.5 363.2 L424.5 363.5 L425.5 363.6 L427.5 363.9 L429.5 364.3 L430.5 364.6 L432.5 365.1 L434.1 365.5 L435.5 365.9 L437.2 366.5 L438.5 367.0 L439.8 367.5 L441.5 368.2 L442.5 368.7 L444.2 369.5 L445.5 370.2 L446.5 370.8 L447.7 371.5 L449.3 372.5 L450.5 373.3 L451.5 374.1 L452.5 374.9 L453.5 375.7 L454.5 376.5 L455.6 377.5 L456.6 378.5 L457.5 379.5 L458.5 380.6 L459.5 381.8 L460.5 383.1 L461.5 384.5 L462.2 385.5 L462.8 386.5 L463.5 387.7 L464.4 389.5 L464.9 390.5 L465.5 391.9 L466.1 393.5 L466.5 394.7 L467.0 396.5 L467.5 398.5 L467.7 399.5 L468.0 401.5 L468.2 403.5 L468.2 405.5 L468.2 407.5 L468.1 409.5 L467.8 411.5 L467.5 413.1 L467.2 414.5 L466.7 416.5 L466.4 417.5 L465.6 419.5 L465.2 420.5 L464.5 422.2 L463.8 423.5 L463.3 424.5 L462.5 425.9 L461.5 427.5 L460.8 428.5 L460.1 429.5 L459.3 430.5 L458.5 431.5 L457.5 432.7 L456.5 433.8 L455.5 434.8 L454.5 435.8 L453.5 436.7 L452.5 437.6 L451.4 438.5 L450.1 439.5 L448.8 440.5 L447.5 441.4 L446.5 442.1 L445.5 442.7 L444.1 443.5 L442.5 444.4 L441.5 444.9 L440.4 445.5 L438.5 446.4 L437.5 446.8 L435.9 447.5 L434.5 448.0 L433.2 448.5 L431.5 449.1 L430.1 449.5 L428.5 449.9 L426.5 450.5 L425.5 450.7 L423.5 451.1 L421.5 451.5 L420.5 451.6 L418.5 451.9 L416.5 452.1 L414.5 452.3 L412.5 452.4 L410.5 452.4 L408.5 452.4 L406.5 452.4 L404.5 452.3 L402.5 452.1 L400.5 451.9 L398.5 451.7 L397.5 451.5 L395.5 451.2 L393.5 450.8 L392.3 450.5 L390.5 450.1 L388.5 449.5 L387.5 449.2 L385.5 448.6 L384.5 448.3 L382.5 447.6 L381.5 447.2 L379.8 446.5 L378.5 445.9 L377.5 445.5 L375.5 444.5 L374.5 444.0 L373.5 443.5 L371.6 442.5 L370.5 441.8 L369.5 441.2 L368.3 440.5 L366.8 439.5 L365.5 438.6 L364.5 437.9 L363.5 437.2 L362.5 436.4 L361.3 435.5 L360.1 434.5 L358.9 433.5 L357.8 432.5 L356.7 431.5 L355.7 430.5 L354.6 429.5 L353.6 428.5 L352.7 427.5 L351.7 426.5 L350.8 425.5 L349.9 424.5 L349.0 423.5 L348.1 422.5 L347.3 421.5 L346.4 420.5 L345.5 419.4 L344.5 418.3 L343.5 417.1 L342.5 416.1 L341.5 415.0 L340.5 414.1 L339.5 413.2 L338.5 412.4 L337.1 411.5 L335.5 410.6 L334.5 410.2 L332.5 409.7 L331.3 409.5 L329.5 409.4 L327.5 409.4 L325.5 409.5 L324.5 409.6 L322.5 409.9 L320.5 410.2 L318.7 410.5 L317.5 410.7 L315.5 411.1 L313.5 411.5 L312.5 411.7 L310.5 412.1 L308.5 412.5 L307.5 412.6 L305.5 413.0 L303.5 413.3 L302.5 413.5 L300.5 413.8 L298.5 414.1 L296.5 414.4 L295.5 414.5 L293.5 414.7 L291.5 414.9 L289.5 415.1 L287.5 415.3 L285.5 415.4 L283.5 415.5 L282.2 415.5 L280.5 415.5 L278.5 415.5 L276.5 415.5 L275.5 415.5 L273.5 415.4 L271.5 415.3 L269.5 415.2 L267.5 415.0 L265.5 414.8 L263.5 414.5 L262.5 414.4 L260.5 414.1 L258.5 413.8 L257.2 413.5 L255.5 413.2 L253.5 412.7 L252.5 412.5 L250.5 412.0 L248.8 411.5 L247.5 411.1 L245.5 410.5 L244.5 410.2 L242.5 409.5 L241.5 409.1 L239.8 408.5 L238.5 408.0 L237.4 407.5 L235.5 406.7 L234.5 406.2 L233.0 405.5 L231.5 404.7 L230.5 404.2 L229.2 403.5 L227.5 402.5 L226.5 401.9 L225.5 401.3 L224.2 400.5 L222.7 399.5 L221.5 398.7 L220.5 397.9 L219.5 397.2 L218.5 396.4 L217.3 395.5 L216.1 394.5 L215.0 393.5 L213.9 392.5 L212.8 391.5 L211.8 390.5 L210.9 389.5 L209.9 388.5 L209.0 387.5 L208.2 386.5 L207.3 385.5 L206.5 384.5 L205.5 383.2 L204.5 381.8 L203.6 380.5 L203.0 379.5 L202.3 378.5 L201.5 377.1 L200.6 375.5 L200.1 374.5 L199.5 373.3 L198.7 371.5 L198.2 370.5 L197.5 368.7 L197.0 367.5 L196.5 365.9 L196.1 364.5 L195.5 362.5 L195.2 361.5 L194.8 359.5 L194.5 357.9 L194.3 356.5 L194.0 354.5 L193.8 352.5 L193.7 350.5 L193.6 348.5 L193.7 346.5 L193.8 344.5 L193.9 342.5 L194.1 340.5 L194.4 338.5 L194.6 337.5 L195.0 335.5 L195.5 333.5 L195.8 332.5 L196.3 330.5 L196.6 329.5 L197.3 327.5 L197.7 326.5 L198.5 324.5 L198.9 323.5 L199.5 322.2 L200.3 320.5 L200.8 319.5 L201.5 318.2 L202.5 316.5 L203.1 315.5 L203.7 314.5 L204.5 313.2 L205.5 311.7 L206.3 310.5 L207.1 309.5 L207.8 308.5 L208.6 307.5 L209.5 306.4 L210.5 305.2 L211.5 304.0 L212.5 302.9 L213.5 301.9 L214.5 300.8 L215.5 299.8 L216.5 298.9 L217.5 297.9 L218.5 297.0 L219.5 296.2 L220.5 295.3 L221.5 294.5 L222.7 293.5 L224.1 292.5 L225.4 291.5 L226.5 290.7 L227.5 290.1 L228.5 289.4 L229.9 288.5 L231.5 287.5 L232.5 286.9 L233.5 286.4 L235.1 285.5 L236.5 284.8 L237.5 284.3 L239.1 283.5 L240.5 282.8 L241.5 282.4 L243.5 281.6 L244.5 281.2 L246.4 280.5 L247.5 280.1 L249.4 279.5 L250.5 279.2 L252.5 278.6 L253.5 278.3 L255.5 277.9 L257.2 277.5 L258.5 277.3 L260.5 276.9 L262.5 276.6 L263.6 276.5"/><path d="M561.4 28.5 L561.9 29.5 L562.5 30.9 L563.2 32.5 L563.6 33.5 L564.4 35.5 L564.7 36.5 L565.4 38.5 L565.8 39.5 L566.4 41.5 L566.6 42.5 L567.2 44.5 L567.5 45.9 L567.9 47.5 L568.2 49.5 L568.5 51.1 L568.7 52.5 L569.0 54.5 L569.1 56.5 L569.3 58.5 L569.3 60.5 L569.4 62.5 L569.3 64.5 L569.2 66.5 L569.0 68.5 L568.8 70.5 L568.5 72.5 L568.4 73.5 L568.0 75.5 L567.5 77.5 L567.2 78.5 L566.7 80.5 L566.4 81.5 L565.7 83.5 L565.3 84.5 L564.5 86.5 L564.1 87.5 L563.5 88.9 L562.7 90.5 L562.2 91.5 L561.5 92.8 L560.5 94.5 L559.9 95.5 L559.3 96.5 L558.5 97.7 L557.5 99.2 L556.5 100.5 L555.8 101.5 L555.0 102.5 L554.1 103.5 L553.3 104.5 L552.4 105.5 L551.4 106.5 L550.5 107.5 L549.5 108.5 L548.4 109.5 L547.3 110.5 L546.2 111.5 L545.0 112.5 L543.8 113.5 L542.5 114.5 L541.5 115.2 L540.5 115.9 L539.5 116.6 L538.2 117.5 L536.6 118.5 L535.5 119.1 L534.5 119.7 L533.1 120.5 L531.5 121.3 L530.5 121.8 L529.1 122.5 L527.5 123.2 L526.5 123.7 L524.5 124.5 L523.5 124.9 L521.7 125.5 L520.5 125.9 L518.6 126.5 L517.5 126.8 L515.5 127.3 L514.5 127.6 L512.5 128.0 L510.5 128.3 L509.5 128.5 L507.5 128.8 L505.5 129.0 L503.5 129.1 L501.5 129.2 L499.5 129.2 L497.5 129.2 L495.5 129.1 L493.5 129.0 L491.5 128.7 L489.7 128.5 L488.5 128.3 L486.5 128.0 L484.5 127.5 L483.5 127.3 L481.5 126.8 L480.4 126.5 L478.5 126.0 L477.0 125.5 L475.5 125.0 L474.1 124.5 L472.5 123.9 L471.4 123.5 L469.5 122.8 L468.5 122.3 L466.5 121.5 L465.5 121.0 L464.3 120.5 L462.5 119.7 L461.5 119.2 L460.0 118.5 L458.5 117.8 L457.5 117.3 L455.8 116.5 L454.5 115.9 L453.5 115.4 L451.5 114.5 L450.5 114.1 L449.2 113.5 L447.5 112.8 L446.5 112.4 L444.5 111.7 L443.5 111.4 L441.5 110.8 L440.5 110.5 L438.5 110.0 L436.5 109.6 L435.5 109.4 L433.5 109.1 L431.5 108.8 L429.5 108.5 L428.5 108.4 L426.5 108.1 L424.5 107.7 L423.3 107.5 L421.5 107.1 L419.5 106.5 L418.5 106.2 L416.8 105.5 L415.5 104.8 L414.5 104.1 L413.5 103.3 L412.5 102.4 L411.5 101.3 L410.5 100.1 L409.5 98.9 L408.5 97.5 L407.8 96.5 L407.1 95.5 L406.4 94.5 L405.5 93.2 L404.5 91.7 L403.6 90.5 L402.9 89.5 L402.2 88.5 L401.4 87.5 L400.5 86.3 L399.5 85.0 L398.5 83.7 L397.6 82.5 L396.8 81.5 L395.9 80.5 L395.1 79.5 L394.3 78.5 L393.5 77.5 L392.5 76.3 L391.5 75.1 L390.5 74.0 L389.5 72.8 L388.5 71.6 L387.5 70.5 L386.6 69.5 L385.7 68.5 L384.8 67.5 L383.8 66.5 L382.9 65.5 L381.9 64.5 L380.9 63.5 L379.9 62.5 L378.8 61.5 L377.7 60.5 L376.6 59.5 L375.5 58.5 L374.5 57.6 L373.5 56.8 L372.5 55.9 L371.5 55.1 L370.5 54.2 L369.5 53.4 L368.4 52.5 L367.3 51.5 L366.1 50.5 L364.9 49.5 L363.8 48.5 L362.7 47.5 L361.6 46.5 L360.5 45.5 L359.5 44.5 L358.5 43.5 L357.5 42.5 L356.6 41.5 L355.7 40.5 L354.8 39.5 L354.0 38.5 L353.2 37.5 L352.4 36.5 L351.5 35.3 L350.5 33.8 L349.6 32.5 L349.0 31.5 L348.4 30.5 L347.5 28.7 L347.4 28.5"/><path d="M398.8 110.5 L400.5 110.1 L402.5 109.8 L404.5 109.7 L406.5 109.8 L408.5 110.2 L409.5 110.5 L411.5 111.5 L412.5 112.2 L413.5 113.3 L414.4 114.5 L415.0 115.5 L415.5 116.5 L416.2 118.5 L416.5 119.9 L416.7 121.5 L416.7 123.5 L416.5 125.2 L416.2 126.5 L415.5 128.5 L415.0 129.5 L414.4 130.5 L413.5 131.8 L412.5 133.0 L411.5 133.9 L410.5 134.7 L409.4 135.5 L407.6 136.5 L406.5 137.0 L405.0 137.5 L403.5 137.9 L401.5 138.2 L399.5 138.2 L397.5 138.0 L395.5 137.6 L394.5 137.3 L392.6 136.5 L391.5 135.9 L390.5 135.2 L389.5 134.3 L388.5 133.3 L387.5 132.0 L386.6 130.5 L386.2 129.5 L385.6 127.5 L385.4 126.5 L385.4 124.5 L385.5 123.3 L385.9 121.5 L386.5 120.0 L387.3 118.5 L387.9 117.5 L388.7 116.5 L389.7 115.5 L390.8 114.5 L392.1 113.5 L393.5 112.6 L394.5 112.1 L395.8 111.5 L397.5 110.9 L398.8 110.5"/><path d="M282.5 299.5 L283.5 299.4 L285.5 299.3 L287.5 299.4 L289.0 299.5 L290.5 299.7 L292.5 300.0 L294.5 300.5 L295.5 300.7 L297.5 301.4 L298.5 301.8 L300.2 302.5 L301.5 303.2 L302.5 303.7 L303.8 304.5 L305.2 305.5 L306.5 306.5 L307.5 307.4 L308.5 308.4 L309.5 309.4 L310.4 310.5 L311.1 311.5 L311.8 312.5 L312.5 313.8 L313.3 315.5 L313.7 316.5 L314.3 318.5 L314.5 319.5 L314.8 321.5 L314.9 323.5 L314.8 325.5 L314.5 327.2 L314.2 328.5 L313.5 330.5 L313.1 331.5 L312.5 332.8 L311.5 334.5 L310.8 335.5 L310.1 336.5 L309.2 337.5 L308.3 338.5 L307.2 339.5 L306.0 340.5 L304.7 341.5 L303.5 342.3 L302.5 342.9 L301.5 343.5 L299.5 344.5 L298.5 344.9 L296.9 345.5 L295.5 346.0 L293.5 346.5 L292.5 346.7 L290.5 347.0 L288.5 347.3 L286.5 347.4 L284.5 347.4 L282.5 347.3 L280.5 347.0 L278.5 346.7 L277.5 346.5 L275.5 345.9 L274.2 345.5 L272.5 344.9 L271.5 344.4 L269.7 343.5 L268.5 342.8 L267.5 342.2 L266.5 341.5 L265.2 340.5 L264.0 339.5 L263.0 338.5 L262.0 337.5 L261.2 336.5 L260.5 335.5 L259.5 334.0 L258.7 332.5 L258.2 331.5 L257.5 329.5 L257.2 328.5 L256.8 326.5 L256.6 324.5 L256.6 322.5 L256.8 320.5 L257.2 318.5 L257.5 317.5 L258.2 315.5 L258.7 314.5 L259.5 313.0 L260.5 311.5 L261.2 310.5 L262.0 309.5 L262.9 308.5 L263.9 307.5 L265.1 306.5 L266.3 305.5 L267.5 304.7 L268.5 304.0 L269.5 303.5 L271.4 302.5 L272.5 302.0 L273.7 301.5 L275.5 300.9 L276.9 300.5 L278.5 300.1 L280.5 299.7 L282.5 299.5"/><path d="M445.3 36.5 L446.5 36.3 L448.5 36.1 L450.5 36.0 L452.5 36.0 L454.5 36.2 L456.5 36.4 L457.5 36.6 L459.5 37.1 L460.9 37.5 L462.5 38.0 L463.7 38.5 L465.5 39.3 L466.5 39.8 L467.8 40.5 L469.4 41.5 L470.5 42.3 L471.5 43.0 L472.5 43.8 L473.5 44.7 L474.5 45.6 L475.5 46.5 L476.5 47.6 L477.5 48.6 L478.5 49.7 L479.5 50.9 L480.5 52.0 L481.5 53.0 L482.5 53.9 L483.5 54.8 L484.5 55.5 L486.2 56.5 L487.5 57.1 L488.6 57.5 L490.5 58.1 L492.1 58.5 L493.5 58.8 L495.5 59.3 L496.6 59.5 L498.5 59.9 L500.5 60.4 L501.5 60.7 L503.5 61.2 L504.5 61.5 L506.5 62.2 L507.5 62.6 L509.5 63.4 L510.5 63.8 L511.9 64.5 L513.5 65.3 L514.5 65.9 L515.5 66.5 L517.0 67.5 L518.3 68.5 L519.5 69.5 L520.5 70.3 L521.5 71.3 L522.5 72.3 L523.5 73.5 L524.3 74.5 L525.0 75.5 L525.7 76.5 L526.5 78.0 L527.3 79.5 L527.7 80.5 L528.4 82.5 L528.7 83.5 L529.1 85.5 L529.3 87.5 L529.4 89.5 L529.3 91.5 L529.0 93.5 L528.5 95.5 L528.2 96.5 L527.5 98.4 L527.0 99.5 L526.5 100.5 L525.5 102.2 L524.6 103.5 L523.8 104.5 L523.0 105.5 L522.1 106.5 L521.0 107.5 L519.9 108.5 L518.7 109.5 L517.5 110.4 L516.5 111.0 L515.5 111.6 L514.0 112.5 L512.5 113.2 L511.5 113.7 L509.5 114.5 L508.5 114.8 L506.5 115.4 L505.5 115.7 L503.5 116.1 L501.5 116.4 L500.4 116.5 L498.5 116.6 L496.5 116.7 L494.5 116.6 L493.3 116.5 L491.5 116.3 L489.5 115.9 L487.6 115.5 L486.5 115.2 L484.5 114.6 L483.5 114.2 L481.9 113.5 L480.5 112.8 L479.5 112.3 L478.2 111.5 L476.7 110.5 L475.5 109.5 L474.5 108.7 L473.5 107.7 L472.5 106.7 L471.5 105.5 L470.8 104.5 L470.1 103.5 L469.5 102.5 L468.5 100.5 L468.1 99.5 L467.5 97.9 L467.1 96.5 L466.6 94.5 L466.4 93.5 L466.1 91.5 L465.9 89.5 L465.7 87.5 L465.5 85.7 L465.3 84.5 L464.9 82.5 L464.5 81.3 L463.5 79.6 L462.5 78.7 L461.5 78.1 L460.1 77.5 L458.5 77.1 L456.5 76.7 L455.1 76.5 L453.5 76.3 L451.5 76.0 L449.5 75.6 L448.5 75.5 L446.5 75.0 L444.5 74.5 L443.5 74.2 L441.5 73.6 L440.5 73.2 L438.6 72.5 L437.5 72.0 L436.5 71.5 L434.6 70.5 L433.5 69.8 L432.5 69.1 L431.5 68.4 L430.4 67.5 L429.4 66.5 L428.5 65.5 L427.5 64.2 L426.5 62.6 L426.0 61.5 L425.5 60.3 L425.0 58.5 L424.8 56.5 L424.8 54.5 L425.2 52.5 L425.5 51.4 L426.2 49.5 L426.8 48.5 L427.5 47.3 L428.5 45.9 L429.5 44.7 L430.5 43.7 L431.5 42.8 L432.5 42.0 L433.5 41.3 L434.7 40.5 L436.4 39.5 L437.5 39.0 L438.5 38.5 L440.5 37.7 L441.5 37.4 L443.5 36.9 L445.3 36.5"/><path d="M490.0 83.5 L491.5 83.1 L493.5 82.8 L495.5 82.7 L497.5 82.9 L499.5 83.4 L500.5 83.7 L502.3 84.5 L503.5 85.2 L504.5 86.0 L505.5 86.9 L506.5 88.1 L507.3 89.5 L507.8 90.5 L508.3 92.5 L508.4 94.5 L508.0 96.5 L507.5 97.7 L506.5 99.5 L505.7 100.5 L504.7 101.5 L503.5 102.4 L502.5 103.0 L501.5 103.6 L499.5 104.3 L498.5 104.6 L496.5 104.9 L494.5 105.0 L492.5 104.9 L490.5 104.5 L489.5 104.2 L487.8 103.5 L486.5 102.8 L485.5 102.1 L484.5 101.2 L483.5 100.1 L482.5 98.6 L482.0 97.5 L481.5 95.9 L481.3 94.5 L481.4 92.5 L481.6 91.5 L482.4 89.5 L483.1 88.5 L483.8 87.5 L484.8 86.5 L486.0 85.5 L487.5 84.6 L488.5 84.1 L490.0 83.5"/></g>
<polygon points="108.8,187.7 111.5,186.9 114.4,186.0 117.6,186.6 121.3,187.1 124.3,189.1 126.4,188.1 128.6,187.0 130.9,187.4 132.9,186.4 135.3,186.4 137.2,185.4 141.0,183.2 144.2,184.3 147.7,185.4 150.4,183.3 153.7,180.9 155.3,177.9 158.7,177.3 161.9,176.2 165.2,174.8 168.8,175.1 171.3,172.3 174.0,171.2 177.0,170.1 179.7,169.8 182.3,169.8 185.0,170.1 187.5,170.5 189.8,169.1 192.4,169.3 194.9,169.0 197.3,168.2 199.8,168.1 202.1,166.9 204.5,166.5 207.0,166.3 209.7,166.6 211.4,164.3 213.2,162.2 214.4,160.2 214.9,158.0 217.7,154.4 220.3,154.2 222.5,153.2 225.8,151.7 229.0,149.7 231.7,148.2 235.4,148.4 239.1,148.2 242.9,147.9 245.2,149.9 247.9,150.0 249.6,150.6 250.4,147.7 248.7,144.0 249.7,140.4 247.8,138.0 250.9,136.1 250.1,131.8 249.3,131.4 251.9,131.7 255.7,131.3 259.3,132.3 263.1,133.5 266.9,134.0 269.7,133.4 270.7,136.2 274.6,136.0 278.0,133.9 281.7,134.7 284.3,133.8 286.9,135.0 289.4,134.5 292.0,134.7 294.5,134.0 297.0,132.8 299.0,133.8 300.9,135.1 303.0,134.9 306.0,135.6 308.7,135.3 310.7,133.9 313.0,132.4 315.9,133.1 318.4,131.6 321.0,131.3 323.2,130.5 325.7,130.1 326.8,127.2 329.3,125.5 332.4,125.7 335.7,126.2 337.7,125.1 339.7,124.1 341.2,122.5 342.4,120.0 343.5,117.3 346.3,117.8 349.0,117.6 351.4,116.0 353.4,115.0 355.5,114.1 357.5,113.1 359.8,112.4 361.9,111.5 363.7,109.9 365.6,108.4 368.0,107.9 369.2,105.9 370.7,104.1 372.5,102.4 373.3,100.3 376.3,99.0 379.5,97.9 379.9,95.6 379.3,93.1 380.9,90.5 379.6,88.6 378.7,87.1 380.8,83.8 380.6,81.2 381.2,78.6 382.3,75.8 384.5,73.6 384.1,70.9 384.6,68.6 384.5,65.9 384.1,63.2 384.1,60.3 384.7,58.1 385.6,56.5 385.5,54.1 385.0,51.8 385.1,49.2 386.2,46.4 388.9,44.5 389.6,42.2 390.5,39.5 393.0,40.2 395.6,40.9 398.1,41.9 400.4,42.6 403.2,43.2 405.8,43.0 408.1,41.6 410.7,41.1 413.1,42.1 415.1,43.7 416.9,45.5 418.9,46.8 421.7,48.7 424.9,48.8 427.9,48.5 430.9,50.0 434.0,49.8 437.1,49.8 439.7,51.0 442.6,50.9 445.1,52.3 447.9,54.0 451.0,54.8 454.1,55.6 457.5,56.1 459.4,57.2 461.6,57.9 463.3,59.8 466.4,60.0 469.4,60.8 472.5,60.6 475.4,61.0 478.6,61.4 481.6,61.2 484.6,61.0 487.2,60.6 488.2,63.1 489.7,65.9 493.5,65.2 495.9,63.8 497.7,61.9 499.2,60.1 500.2,58.1 501.7,56.1 504.1,53.9 507.3,54.1 510.1,54.0 513.4,54.2 515.9,55.8 517.8,57.9 519.7,59.7 521.6,61.3 522.1,63.0 524.2,61.5 526.3,60.0 528.3,59.0 530.5,58.6 534.0,57.6 535.1,60.2 534.6,63.0 533.4,65.4 531.7,67.2 531.0,70.0 527.3,72.5 525.9,75.4 525.1,78.6 524.8,81.0 524.9,83.4 524.7,85.2 527.7,87.2 529.8,85.0 532.2,83.2 534.0,81.3 536.4,79.1 539.3,77.6 542.6,78.1 545.8,77.2 548.3,75.5 551.0,74.5 553.4,73.4 556.1,73.3 558.4,72.2 560.4,70.3 563.3,70.4 567.2,70.6 570.8,69.2 574.3,67.4 578.1,66.8 580.5,64.3 583.4,61.8 585.3,61.9 586.3,62.9 585.1,66.7 582.7,70.0 581.4,72.8 578.0,73.0 574.2,73.6 572.0,75.9 569.8,77.4 569.0,79.5 568.2,81.8 566.1,82.8 563.4,83.7 560.6,84.6 558.2,86.0 554.5,87.6 553.1,90.9 550.8,91.0 548.5,91.1 546.1,91.0 543.9,92.2 541.4,92.2 539.3,93.5 535.6,94.4 532.8,96.3 531.6,100.2 530.2,102.4 529.8,104.8 529.1,107.5 526.4,108.8 525.4,111.6 523.2,113.0 521.2,114.5 519.0,116.2 516.7,118.1 514.2,118.4 511.8,118.9 509.3,118.8 507.2,120.2 503.4,120.7 500.0,122.9 496.5,125.1 494.7,127.7 493.2,129.4 491.4,130.9 490.0,134.2 487.7,136.9 484.4,138.8 482.4,141.2 484.9,143.5 484.3,145.9 481.6,148.2 481.4,151.2 483.1,153.2 485.5,153.4 487.8,154.4 490.3,154.3 492.7,154.9 495.0,155.0 497.4,153.9 499.8,154.7 502.0,155.6 504.5,156.0 507.2,155.5 511.0,156.8 513.1,159.1 513.4,161.0 515.6,162.9 519.2,164.3 521.3,165.9 523.7,166.6 526.0,167.4 529.0,167.0 530.1,169.8 531.9,171.8 533.3,174.3 532.7,177.3 533.1,180.0 534.6,182.3 536.0,185.3 538.8,186.9 540.9,188.0 542.7,189.8 545.3,190.7 548.4,189.1 551.7,189.0 553.9,188.6 556.1,187.7 559.4,188.1 562.6,188.8 565.9,189.5 568.9,188.4 571.3,188.5 573.5,187.6 575.7,186.2 579.0,186.7 582.2,187.2 585.4,187.5 589.0,187.4 590.5,189.8 593.0,190.7 594.5,190.1 595.3,193.1 594.4,195.8 593.7,197.8 595.3,201.8 597.9,202.9 600.1,204.3 602.3,206.8 604.2,209.4 605.6,211.2 607.7,212.6 608.9,214.2 611.6,215.9 614.6,215.7 616.9,215.3 618.9,213.8 621.3,213.2 623.8,214.2 626.3,213.8 628.4,216.0 625.7,217.2 624.4,219.6 623.3,222.5 623.5,225.2 623.7,227.9 625.9,229.3 627.0,232.5 629.6,234.6 631.4,236.5 632.7,238.8 631.7,242.3 629.2,244.5 626.5,245.9 624.0,246.5 622.0,248.0 619.9,249.3 617.3,250.4 615.0,251.8 612.4,253.2 609.8,254.8 607.6,255.6 605.1,255.8 603.1,257.3 600.8,257.8 598.8,259.1 596.5,259.7 594.2,261.0 591.4,261.5 588.7,260.8 586.8,258.8 584.4,256.9 581.7,255.0 581.4,252.6 581.4,250.2 579.4,248.5 579.8,245.9 578.4,243.9 577.8,241.7 577.2,239.3 575.6,237.6 573.5,236.3 571.3,234.9 567.4,234.6 563.7,233.2 561.2,232.1 558.7,232.0 556.0,231.8 554.0,232.8 551.8,233.6 549.9,234.7 547.7,235.7 545.8,236.7 543.3,238.3 542.4,240.6 543.0,243.3 543.6,245.8 543.6,248.5 544.6,250.3 544.6,252.6 544.8,254.9 544.5,256.9 545.0,260.2 545.3,263.5 546.5,265.9 546.7,268.5 547.6,271.4 544.9,271.5 542.9,272.5 540.1,273.6 537.2,274.4 534.1,273.6 532.2,275.3 530.0,276.0 528.4,277.1 525.8,278.8 523.5,280.9 522.9,283.0 522.9,285.1 522.8,288.1 523.9,290.9 523.9,294.0 523.6,297.3 522.6,300.5 522.4,302.8 521.7,304.9 520.5,307.0 519.7,309.4 517.1,309.8 514.7,310.8 512.4,311.4 509.6,311.7 506.7,311.7 504.0,311.6 501.0,312.0 498.1,311.7 495.4,310.3 492.7,310.8 490.3,309.3 488.3,313.0 488.8,315.6 487.1,317.9 486.7,320.9 488.7,322.3 490.3,324.2 493.0,325.5 496.2,325.6 498.4,327.6 501.0,329.0 503.3,330.9 505.5,331.6 507.7,332.4 509.9,332.6 510.1,335.0 511.2,337.0 511.9,339.1 512.3,341.7 512.2,344.3 511.7,346.6 511.9,349.4 512.5,351.6 514.1,353.7 516.5,354.4 518.7,355.6 521.9,356.1 525.1,356.8 527.4,357.0 530.1,357.0 531.1,359.4 532.9,360.8 535.0,362.0 536.8,364.2 538.4,366.5 540.6,367.8 542.5,369.4 544.8,369.2 548.6,369.2 550.3,367.5 552.3,366.2 553.4,363.6 556.8,363.9 560.3,363.7 562.1,361.9 564.2,360.8 566.5,358.9 568.6,357.3 571.6,357.4 570.2,360.2 568.5,363.0 569.4,365.9 569.3,368.8 569.1,371.7 568.7,374.6 569.7,377.5 569.7,380.4 570.9,382.5 571.2,384.7 571.3,386.9 571.3,389.3 572.0,391.4 572.7,393.5 573.0,396.4 572.3,399.3 572.1,402.2 571.9,404.7 572.3,407.3 570.8,409.7 571.8,412.4 570.2,414.7 569.9,417.1 570.6,420.4 568.2,420.5 565.9,420.7 563.7,421.2 561.1,422.7 558.3,423.7 555.5,424.5 552.4,424.0 549.9,425.8 546.9,426.0 545.1,427.7 542.7,428.2 540.2,428.7 539.2,431.2 536.7,431.7 535.3,433.5 533.4,435.3 532.2,437.5 531.5,439.9 530.0,442.3 530.1,445.1 528.5,447.8 526.4,450.0 523.7,451.5 521.6,453.7 517.2,454.9 515.4,453.5 514.0,451.5 513.9,448.9 514.6,445.8 512.0,445.2 511.4,442.8 510.4,440.7 508.7,439.4 505.1,437.4 504.3,439.7 503.2,441.5 500.4,444.4 496.3,444.3 494.2,445.3 491.7,445.5 489.3,447.1 486.7,448.5 484.1,449.0 481.3,449.7 478.5,449.0 475.7,447.7 474.3,445.2 471.7,444.4 470.1,442.4 467.4,442.3 464.8,440.7 462.3,438.8 460.4,437.5 459.0,435.6 460.9,431.3 460.3,428.6 459.4,425.6 456.0,424.4 452.8,424.1 449.7,424.3 446.5,424.4 443.4,423.7 440.0,424.2 437.1,422.6 434.8,421.4 432.9,419.3 430.7,418.4 428.6,417.9 426.5,418.8 423.9,418.1 422.4,420.3 420.0,420.8 418.1,423.3 415.0,424.0 412.1,424.0 411.0,422.0 408.7,420.9 407.8,418.7 405.2,417.0 403.3,414.6 401.1,413.7 398.6,412.7 397.6,410.6 396.7,408.6 395.4,405.7 392.8,404.1 391.9,401.3 392.5,398.2 392.4,395.8 391.2,393.6 391.7,391.0 392.6,388.9 391.9,386.6 391.6,384.0 391.0,381.7 390.9,379.3 391.2,376.3 392.0,373.2 389.5,369.2 385.7,369.5 384.5,371.5 382.9,373.0 381.2,374.5 379.3,375.9 377.3,377.1 375.3,378.8 372.3,379.0 369.1,378.6 367.0,380.5 364.5,380.5 362.2,380.9 360.4,379.6 358.0,379.5 355.9,378.4 354.3,376.8 352.9,375.0 351.3,373.4 349.5,371.0 346.6,369.3 344.2,369.8 342.1,371.7 339.7,372.3 337.2,371.8 335.0,370.4 332.3,369.8 329.9,368.5 327.3,372.1 322.9,372.5 318.5,370.7 316.4,371.5 314.3,372.2 312.2,372.7 309.2,374.3 305.9,375.0 302.7,374.4 299.6,373.4 296.5,372.6 293.2,371.6 290.0,372.5 286.9,373.2 283.7,373.5 280.6,374.5 278.6,375.8 276.5,378.1 273.5,376.4 270.1,376.7 268.5,374.6 266.1,374.0 263.8,373.4 261.6,373.0 259.6,372.1 257.7,370.8 255.6,369.6 253.1,369.4 250.9,368.4 249.1,366.7 247.1,365.6 244.8,364.9 242.6,364.4 240.7,363.1 238.3,363.2 236.3,362.1 234.3,361.2 232.5,359.7 230.2,359.1 228.2,357.7 225.8,357.2 223.5,356.5 221.4,355.5 219.6,353.4 216.4,353.2 213.1,353.3 208.4,353.6 206.8,351.4 204.9,349.6 203.2,348.1 201.5,346.6 200.6,344.4 198.7,342.5 195.9,341.7 193.6,339.8 191.8,337.3 189.8,335.7 187.9,333.8 185.3,332.2 184.0,329.6 183.3,327.0 182.4,324.4 180.5,322.6 179.7,319.6 177.0,318.8 175.4,316.7 173.3,315.5 171.9,313.7 171.1,311.4 169.1,310.2 168.6,307.8 166.6,306.5 164.2,305.8 161.9,304.5 161.1,302.3 160.4,300.2 161.9,297.7 161.7,294.9 161.6,291.7 160.8,288.4 162.6,285.4 161.8,282.0 161.7,278.8 162.0,276.2 160.5,274.4 159.1,272.4 157.2,271.1 155.2,270.0 153.3,268.5 151.3,267.8 149.0,266.3 147.1,264.2 147.2,261.1 145.8,258.5 143.3,257.0 142.4,254.2 139.6,253.5 136.9,252.5 134.3,251.5 131.5,250.7 129.2,249.9 127.2,248.2 126.4,244.7 128.7,244.1 129.6,241.6 132.4,240.5 130.3,236.8 128.4,233.3 129.7,230.5 130.2,227.8 131.4,224.8 128.5,222.6 126.5,221.4 124.2,221.0 122.4,219.1 119.8,219.1 117.6,218.3 115.9,217.1 112.6,215.0 114.3,213.0 118.1,211.1 119.7,207.9 117.3,204.9 113.9,202.6 111.0,200.2 110.0,196.3 108.0,193.0 110.3,190.3" fill="none" stroke="#000" stroke-width="1.0" stroke-linejoin="round"/>
<g stroke="#262626" stroke-width="1.8" stroke-dasharray="1.75 1.9"><line x1="161.34" y1="23.20" x2="161.34" y2="488.00"/><line x1="244.77" y1="23.20" x2="244.77" y2="488.00"/><line x1="328.20" y1="23.20" x2="328.20" y2="488.00"/><line x1="411.63" y1="23.20" x2="411.63" y2="488.00"/><line x1="495.06" y1="23.20" x2="495.06" y2="488.00"/><line x1="578.49" y1="23.20" x2="578.49" y2="488.00"/><line x1="86.80" y1="404.86" x2="651.50" y2="404.86"/><line x1="86.80" y1="321.48" x2="651.50" y2="321.48"/><line x1="86.80" y1="238.10" x2="651.50" y2="238.10"/><line x1="86.80" y1="154.72" x2="651.50" y2="154.72"/><line x1="86.80" y1="71.34" x2="651.50" y2="71.34"/></g>
<rect x="86.8" y="23.2" width="564.7" height="464.8" fill="none" stroke="#000" stroke-width="1.2" opacity="1"/>
<g stroke="#000" stroke-width="1.2"><line x1="690.70" y1="473.92" x2="697.20" y2="473.92"/><line x1="690.70" y1="381.92" x2="697.20" y2="381.92"/><line x1="690.70" y1="289.93" x2="697.20" y2="289.93"/><line x1="690.70" y1="197.93" x2="697.20" y2="197.93"/><line x1="690.70" y1="105.94" x2="697.20" y2="105.94"/></g>
</svg>
<div id="cb"></div>
<span class="tk" style="left:128.5px;top:490.3px">111</span><span class="tk" style="left:162.6px;top:492.3px">°</span><span class="tk" style="left:183.3px;top:490.3px">E</span><span class="tk" style="left:212.0px;top:490.3px">112</span><span class="tk" style="left:246.1px;top:492.3px">°</span><span class="tk" style="left:266.8px;top:490.3px">E</span><span class="tk" style="left:295.4px;top:490.3px">113</span><span class="tk" style="left:329.5px;top:492.3px">°</span><span class="tk" style="left:350.2px;top:490.3px">E</span><span class="tk" style="left:378.8px;top:490.3px">114</span><span class="tk" style="left:412.9px;top:492.3px">°</span><span class="tk" style="left:433.6px;top:490.3px">E</span><span class="tk" style="left:462.3px;top:490.3px">115</span><span class="tk" style="left:496.4px;top:492.3px">°</span><span class="tk" style="left:517.1px;top:490.3px">E</span><span class="tk" style="left:545.7px;top:490.3px">116</span><span class="tk" style="left:579.8px;top:492.3px">°</span><span class="tk" style="left:600.5px;top:490.3px">E</span><span class="tk" style="left:26.4px;top:392.7px">32</span><span class="tk" style="left:49.3px;top:394.7px">°</span><span class="tk" style="left:69.4px;top:392.7px">N</span><span class="tk" style="left:26.4px;top:309.3px">33</span><span class="tk" style="left:49.3px;top:311.3px">°</span><span class="tk" style="left:69.4px;top:309.3px">N</span><span class="tk" style="left:26.4px;top:226.0px">34</span><span class="tk" style="left:49.3px;top:228.0px">°</span><span class="tk" style="left:69.4px;top:226.0px">N</span><span class="tk" style="left:26.4px;top:142.6px">35</span><span class="tk" style="left:49.3px;top:144.6px">°</span><span class="tk" style="left:69.4px;top:142.6px">N</span><span class="tk" style="left:26.4px;top:59.2px">36</span><span class="tk" style="left:49.3px;top:61.2px">°</span><span class="tk" style="left:69.4px;top:59.2px">N</span><span class="cbl" style="left:703.4px;top:465.9px">60</span><span class="cbl" style="left:703.4px;top:373.9px">80</span><span class="cbl" style="left:703.4px;top:281.9px">100</span><span class="cbl" style="left:703.4px;top:189.9px">120</span><span class="cbl" style="left:703.4px;top:97.9px">140</span>
<div id="idw">IDW</div>
</body></html>
